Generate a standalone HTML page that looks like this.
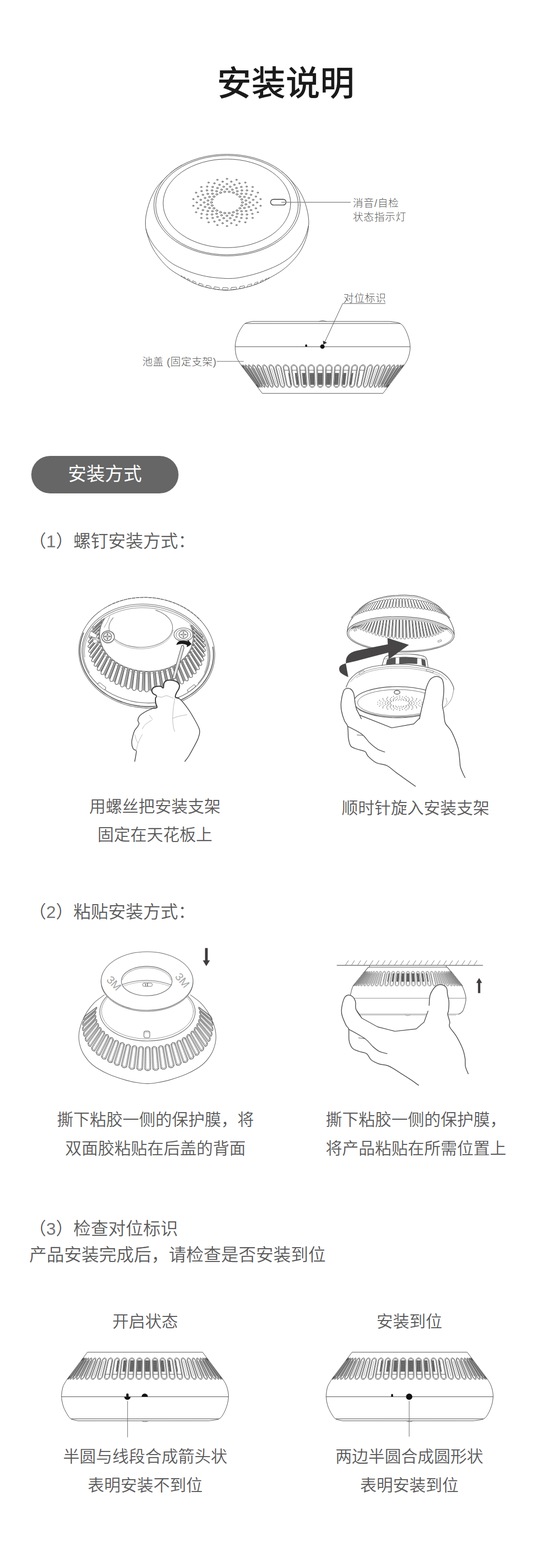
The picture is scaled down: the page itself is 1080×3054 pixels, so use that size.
<!DOCTYPE html>
<html lang="zh-CN">
<head>
<meta charset="utf-8">
<title>安装说明</title>
<style>
html,body{margin:0;padding:0;background:#fff;}
html{width:1080px;height:3054px;overflow:hidden;}
body{width:1080px;height:3054px;position:relative;overflow:hidden;font-family:"Liberation Sans", "Noto Sans CJK SC", sans-serif;}
.t{position:absolute;white-space:nowrap;margin:0;padding:0;}
.d{color:#757575;}
.pill{position:absolute;left:61px;top:888px;width:287px;height:73px;border-radius:37px;background:#666;color:#fff;
  font-size:36px;line-height:71px;text-align:center;font-weight:400;}
svg.art{position:absolute;left:0;top:0;width:1080px;height:3054px;pointer-events:none;}
svg.art *{vector-effect:none;}
</style>
</head>
<body>
<div class="pill">安装方式</div>
<div class="t" style="left:36px;width:1042px;text-align:center;top:129.3px;font-size:67px;line-height:67px;color:#1a1a1a;font-weight:500;">安装说明</div>
<div class="t" style="left:688px;top:386.2px;font-size:20px;line-height:20px;color:#595959;font-weight:300;letter-spacing:0.85px;">消音<span class="d">/</span>自检</div>
<div class="t" style="left:688px;top:413.4px;font-size:20px;line-height:20px;color:#595959;font-weight:300;letter-spacing:0.85px;">状态指示灯</div>
<div class="t" style="left:669.5px;top:571px;font-size:20px;line-height:20px;color:#595959;font-weight:300;letter-spacing:0.9px;">对位标识</div>
<div class="t" style="left:277.5px;top:694.8px;font-size:20px;line-height:20px;color:#595959;font-weight:300;letter-spacing:0.65px;">池盖 <span class="d">(</span>固定支架<span class="d">)</span></div>
<div class="t" style="left:56px;top:1037.3px;font-size:34px;line-height:34px;color:#5a5a5a;font-weight:350;">（<span class="d">1</span>）螺钉安装方式：</div>
<div class="t" style="left:2px;width:600px;text-align:center;top:1554.5px;font-size:32px;line-height:32px;color:#5a5a5a;font-weight:350;">用螺丝把安装支架</div>
<div class="t" style="left:2px;width:600px;text-align:center;top:1609.5px;font-size:32px;line-height:32px;color:#5a5a5a;font-weight:350;">固定在天花板上</div>
<div class="t" style="left:542px;width:536px;text-align:center;top:1557.5px;font-size:32px;line-height:32px;color:#5a5a5a;font-weight:350;">顺时针旋入安装支架</div>
<div class="t" style="left:56px;top:1759.3px;font-size:34px;line-height:34px;color:#5a5a5a;font-weight:350;">（<span class="d">2</span>）粘贴安装方式：</div>
<div class="t" style="left:2px;width:602px;text-align:center;top:2165.3px;font-size:32px;line-height:32px;color:#5a5a5a;font-weight:350;">撕下粘胶一侧的保护膜，将</div>
<div class="t" style="left:2px;width:602px;text-align:center;top:2221.3px;font-size:32px;line-height:32px;color:#5a5a5a;font-weight:350;">双面胶粘贴在后盖的背面</div>
<div class="t" style="left:544px;width:534px;text-align:center;top:2165.3px;font-size:32px;line-height:32px;color:#5a5a5a;font-weight:350;">撕下粘胶一侧的保护膜，</div>
<div class="t" style="left:544px;width:534px;text-align:center;top:2221.3px;font-size:32px;line-height:32px;color:#5a5a5a;font-weight:350;">将产品粘贴在所需位置上</div>
<div class="t" style="left:56px;top:2375.6px;font-size:34px;line-height:34px;color:#5a5a5a;font-weight:350;">（<span class="d">3</span>）检查对位标识</div>
<div class="t" style="left:57px;top:2427px;font-size:34px;line-height:34px;color:#5a5a5a;font-weight:350;">产品安装完成后，请检查是否安装到位</div>
<div class="t" style="left:2px;width:562px;text-align:center;top:2557.5px;font-size:32px;line-height:32px;color:#5a5a5a;font-weight:350;">开启状态</div>
<div class="t" style="left:518px;width:560px;text-align:center;top:2557.5px;font-size:32px;line-height:32px;color:#5a5a5a;font-weight:350;">安装到位</div>
<div class="t" style="left:2px;width:562px;text-align:center;top:2820.5px;font-size:32px;line-height:32px;color:#5a5a5a;font-weight:350;">半圆与线段合成箭头状</div>
<div class="t" style="left:2px;width:562px;text-align:center;top:2876.5px;font-size:32px;line-height:32px;color:#5a5a5a;font-weight:350;">表明安装不到位</div>
<div class="t" style="left:518px;width:560px;text-align:center;top:2820.5px;font-size:32px;line-height:32px;color:#5a5a5a;font-weight:350;">两边半圆合成圆形状</div>
<div class="t" style="left:518px;width:560px;text-align:center;top:2876.5px;font-size:32px;line-height:32px;color:#5a5a5a;font-weight:350;">表明安装到位</div>
<svg class="art" viewBox="0 0 1080 3054" width="1080" height="3054" fill="none" stroke="#4d4d4d" stroke-width="1" stroke-linecap="round" stroke-linejoin="round">
<defs><pattern id="mesh" width="2.6" height="2.6" patternUnits="userSpaceOnUse"><rect width="2.6" height="2.6" fill="#4a4a4a" stroke="none"/><rect x="0.3" y="0.3" width="1.1" height="1.1" fill="#e8e8e8" stroke="none"/></pattern></defs>
<!-- ill1 -->
<ellipse cx="442.6" cy="399.5" rx="142.6" ry="99"/>
<ellipse cx="442.5" cy="399.5" rx="138.9" ry="96.7"/>
<ellipse cx="442.3" cy="396.1" rx="124.3" ry="86.3"/>
<path d="M354.8 321.5C351.8 323.4 344.1 327 336.6 333.3C329.2 339.5 316.6 351.6 310.1 359.2C303.6 366.8 301.1 372.3 297.7 378.9C294.3 385.5 291.9 392.2 289.8 398.7C287.7 405.2 286.1 411.9 285 418C283.9 424.1 283.4 429.3 283.5 435C283.6 440.7 283.8 444.6 285.8 452C287.8 459.4 291.5 470.9 295.7 479.4C299.9 487.9 305.3 495.7 311 503C316.7 510.3 323.5 517.5 330 523C336.5 528.5 343.2 532.1 349.8 536.2C356.4 540.3 362.9 544.1 369.5 547.4C376.1 550.7 382.7 553.7 389.3 556C395.9 558.3 402.4 559.8 409 561.2C415.6 562.6 422.6 563.8 428.8 564.5C435 565.2 439.8 565.6 446 565.3C452.2 565 459.6 563.8 466.3 562.6C473 561.4 479.5 559.9 486.1 558C492.7 556.1 499.3 554 505.9 551.2C512.5 548.4 519 544.8 525.6 541.2C532.2 537.6 539.7 533.4 545.4 529.6C551.1 525.8 554.9 523 560 518.4C565.1 513.8 571.3 507.7 576 502C580.7 496.3 584.6 491.1 588.3 484C592 476.9 596 467.3 598.2 459.6C600.4 451.9 601.2 443.9 601.7 438C602.2 432.1 601.8 429 601.3 424C600.8 419 599.9 413.9 598.4 408C596.9 402.1 595.1 395.3 592.3 388.8C589.5 382.3 586.4 375.7 581.8 369C577.2 362.3 570.1 354.3 564.8 348.5C559.6 342.8 552.7 336.9 550.2 334.6"/>
<path d="M284.6 446C285.4 448.3 286.4 454 289.5 460C292.6 466 296.2 473.8 303 482C309.8 490.2 321.1 502.2 330 509.2C338.9 516.1 347.5 519.6 356.3 523.7C365.1 527.8 373.9 531 382.7 533.6C391.5 536.2 400.2 538.1 409 539.5C417.8 540.9 428.6 541.6 435.4 542.1C442.2 542.6 444.9 542.6 450 542.4C455.1 542.2 459.2 542 466.3 540.8C473.4 539.5 483.9 537.3 492.7 534.9C501.5 532.5 510.2 529.7 519 526.3C527.8 522.9 537.2 519 545.4 514.5C553.6 509.9 561.2 505.1 568 499C574.8 492.9 581.2 485 586 478C590.8 471 594 463.3 596.5 457C599 450.7 600.4 442.8 601.2 440"/>
<g stroke-width="0.85" stroke="#5a5a5a"><rect x="-1.4" y="-0.4" width="2.8" height="0.9" rx="0.4" transform="translate(354.4 538.3) rotate(30.5) skewX(19.3)"/>
<rect x="-2.2" y="-0.8" width="4.3" height="1.5" rx="0.8" transform="translate(359.7 541) rotate(29.1) skewX(17.5)"/>
<rect x="-3" y="-1.1" width="6.1" height="2.2" rx="1.1" transform="translate(367.8 544.9) rotate(26.8) skewX(14.6)"/>
<rect x="-3.9" y="-1.4" width="7.8" height="2.9" rx="1.4" transform="translate(378.6 549.7) rotate(23.5) skewX(10.9)"/>
<rect x="-4.6" y="-1.7" width="9.2" height="3.4" rx="1.6" transform="translate(391.6 554.5) rotate(19.1) skewX(6.4)"/>
<rect x="-5.2" y="-1.9" width="10.4" height="3.9" rx="1.6" transform="translate(406.4 558.6) rotate(13.6) skewX(1.3)"/>
<rect x="-5.6" y="-2.1" width="11.1" height="4.1" rx="1.6" transform="translate(422.4 561.4) rotate(7.3) skewX(-4.3)"/>
<rect x="-5.7" y="-2.1" width="11.4" height="4.2" rx="1.6" transform="translate(439 562.5) rotate(0.6) skewX(-10)"/>
<rect x="-5.6" y="-2.1" width="11.1" height="4.1" rx="1.6" transform="translate(455.6 561.8) rotate(-5.9) skewX(-15.7)"/>
<rect x="-5.2" y="-1.9" width="10.4" height="3.9" rx="1.6" transform="translate(471.6 559.4) rotate(-11.8) skewX(-21.3)"/>
<rect x="-4.6" y="-1.7" width="9.2" height="3.4" rx="1.6" transform="translate(486.4 555.9) rotate(-16.7) skewX(-26.4)"/>
<rect x="-3.9" y="-1.4" width="7.8" height="2.9" rx="1.4" transform="translate(499.4 551.7) rotate(-20.8) skewX(-30.9)"/>
<rect x="-3" y="-1.1" width="6.1" height="2.2" rx="1.1" transform="translate(510.2 547.6) rotate(-24) skewX(-34.6)"/>
<rect x="-2.2" y="-0.8" width="4.3" height="1.5" rx="0.8" transform="translate(518.3 544.1) rotate(-26.4) skewX(-37.5)"/>
<rect x="-1.4" y="-0.4" width="2.8" height="0.9" rx="0.4" transform="translate(523.6 541.8) rotate(-27.9) skewX(-39.3)"/></g>
<g stroke="#555" stroke-width="0.9" fill="#d0d0d0"><ellipse cx="442.4" cy="348.3" rx="1.6" ry="1.2"/>
<ellipse cx="423.7" cy="350.2" rx="1.6" ry="1.2"/>
<ellipse cx="406.6" cy="355.6" rx="1.6" ry="1.2"/>
<ellipse cx="392.4" cy="364.2" rx="1.6" ry="1.2"/>
<ellipse cx="382.2" cy="375.2" rx="1.6" ry="1.2"/>
<ellipse cx="376.9" cy="387.8" rx="1.6" ry="1.2"/>
<ellipse cx="376.9" cy="400.8" rx="1.6" ry="1.2"/>
<ellipse cx="382.2" cy="413.4" rx="1.6" ry="1.2"/>
<ellipse cx="392.4" cy="424.4" rx="1.6" ry="1.2"/>
<ellipse cx="406.6" cy="433" rx="1.6" ry="1.2"/>
<ellipse cx="423.7" cy="438.4" rx="1.6" ry="1.2"/>
<ellipse cx="442.4" cy="440.3" rx="1.6" ry="1.2"/>
<ellipse cx="461.1" cy="438.4" rx="1.6" ry="1.2"/>
<ellipse cx="478.2" cy="433" rx="1.6" ry="1.2"/>
<ellipse cx="492.4" cy="424.4" rx="1.6" ry="1.2"/>
<ellipse cx="502.6" cy="413.4" rx="1.6" ry="1.2"/>
<ellipse cx="507.9" cy="400.8" rx="1.6" ry="1.2"/>
<ellipse cx="507.9" cy="387.8" rx="1.6" ry="1.2"/>
<ellipse cx="502.6" cy="375.2" rx="1.6" ry="1.2"/>
<ellipse cx="492.4" cy="364.2" rx="1.6" ry="1.2"/>
<ellipse cx="478.2" cy="355.6" rx="1.6" ry="1.2"/>
<ellipse cx="461.1" cy="350.2" rx="1.6" ry="1.2"/>
<ellipse cx="434" cy="353.8" rx="1.7" ry="1.3"/>
<ellipse cx="418" cy="357.1" rx="1.7" ry="1.3"/>
<ellipse cx="403.9" cy="363.4" rx="1.7" ry="1.3"/>
<ellipse cx="392.9" cy="372.2" rx="1.7" ry="1.3"/>
<ellipse cx="386" cy="382.8" rx="1.7" ry="1.3"/>
<ellipse cx="383.6" cy="394.3" rx="1.7" ry="1.3"/>
<ellipse cx="386" cy="405.8" rx="1.7" ry="1.3"/>
<ellipse cx="392.9" cy="416.4" rx="1.7" ry="1.3"/>
<ellipse cx="403.9" cy="425.2" rx="1.7" ry="1.3"/>
<ellipse cx="418" cy="431.5" rx="1.7" ry="1.3"/>
<ellipse cx="434" cy="434.8" rx="1.7" ry="1.3"/>
<ellipse cx="450.8" cy="434.8" rx="1.7" ry="1.3"/>
<ellipse cx="466.8" cy="431.5" rx="1.7" ry="1.3"/>
<ellipse cx="480.9" cy="425.2" rx="1.7" ry="1.3"/>
<ellipse cx="491.9" cy="416.4" rx="1.7" ry="1.3"/>
<ellipse cx="498.8" cy="405.8" rx="1.7" ry="1.3"/>
<ellipse cx="501.2" cy="394.3" rx="1.7" ry="1.3"/>
<ellipse cx="498.8" cy="382.8" rx="1.7" ry="1.3"/>
<ellipse cx="491.9" cy="372.2" rx="1.7" ry="1.3"/>
<ellipse cx="480.9" cy="363.4" rx="1.7" ry="1.3"/>
<ellipse cx="466.8" cy="357.1" rx="1.7" ry="1.3"/>
<ellipse cx="450.8" cy="353.8" rx="1.7" ry="1.3"/>
<ellipse cx="442.4" cy="358.4" rx="1.8" ry="1.4"/>
<ellipse cx="427.9" cy="359.9" rx="1.8" ry="1.4"/>
<ellipse cx="414.5" cy="364.1" rx="1.8" ry="1.4"/>
<ellipse cx="403.4" cy="370.8" rx="1.8" ry="1.4"/>
<ellipse cx="395.5" cy="379.4" rx="1.8" ry="1.4"/>
<ellipse cx="391.3" cy="389.2" rx="1.8" ry="1.4"/>
<ellipse cx="391.3" cy="399.4" rx="1.8" ry="1.4"/>
<ellipse cx="395.5" cy="409.2" rx="1.8" ry="1.4"/>
<ellipse cx="403.4" cy="417.8" rx="1.8" ry="1.4"/>
<ellipse cx="414.5" cy="424.5" rx="1.8" ry="1.4"/>
<ellipse cx="427.9" cy="428.7" rx="1.8" ry="1.4"/>
<ellipse cx="442.4" cy="430.2" rx="1.8" ry="1.4"/>
<ellipse cx="456.9" cy="428.7" rx="1.8" ry="1.4"/>
<ellipse cx="470.3" cy="424.5" rx="1.8" ry="1.4"/>
<ellipse cx="481.4" cy="417.8" rx="1.8" ry="1.4"/>
<ellipse cx="489.3" cy="409.2" rx="1.8" ry="1.4"/>
<ellipse cx="493.5" cy="399.4" rx="1.8" ry="1.4"/>
<ellipse cx="493.5" cy="389.2" rx="1.8" ry="1.4"/>
<ellipse cx="489.3" cy="379.4" rx="1.8" ry="1.4"/>
<ellipse cx="481.4" cy="370.8" rx="1.8" ry="1.4"/>
<ellipse cx="470.3" cy="364.1" rx="1.8" ry="1.4"/>
<ellipse cx="456.9" cy="359.9" rx="1.8" ry="1.4"/>
<ellipse cx="436.1" cy="363.7" rx="1.9" ry="1.5"/>
<ellipse cx="423.9" cy="366.2" rx="1.9" ry="1.5"/>
<ellipse cx="413.3" cy="370.9" rx="1.9" ry="1.5"/>
<ellipse cx="405" cy="377.6" rx="1.9" ry="1.5"/>
<ellipse cx="399.7" cy="385.6" rx="1.9" ry="1.5"/>
<ellipse cx="397.9" cy="394.3" rx="1.9" ry="1.5"/>
<ellipse cx="399.7" cy="403" rx="1.9" ry="1.5"/>
<ellipse cx="405" cy="411" rx="1.9" ry="1.5"/>
<ellipse cx="413.3" cy="417.7" rx="1.9" ry="1.5"/>
<ellipse cx="423.9" cy="422.4" rx="1.9" ry="1.5"/>
<ellipse cx="436.1" cy="424.9" rx="1.9" ry="1.5"/>
<ellipse cx="448.7" cy="424.9" rx="1.9" ry="1.5"/>
<ellipse cx="460.9" cy="422.4" rx="1.9" ry="1.5"/>
<ellipse cx="471.5" cy="417.7" rx="1.9" ry="1.5"/>
<ellipse cx="479.8" cy="411" rx="1.9" ry="1.5"/>
<ellipse cx="485.1" cy="403" rx="1.9" ry="1.5"/>
<ellipse cx="486.9" cy="394.3" rx="1.9" ry="1.5"/>
<ellipse cx="485.1" cy="385.6" rx="1.9" ry="1.5"/>
<ellipse cx="479.8" cy="377.6" rx="1.9" ry="1.5"/>
<ellipse cx="471.5" cy="370.9" rx="1.9" ry="1.5"/>
<ellipse cx="460.9" cy="366.2" rx="1.9" ry="1.5"/>
<ellipse cx="448.7" cy="363.7" rx="1.9" ry="1.5"/>
<ellipse cx="442.4" cy="368.3" rx="2" ry="1.5"/>
<ellipse cx="431.9" cy="369.4" rx="2" ry="1.5"/>
<ellipse cx="422.2" cy="372.4" rx="2" ry="1.5"/>
<ellipse cx="414.1" cy="377.3" rx="2" ry="1.5"/>
<ellipse cx="408.4" cy="383.5" rx="2" ry="1.5"/>
<ellipse cx="405.4" cy="390.6" rx="2" ry="1.5"/>
<ellipse cx="405.4" cy="398" rx="2" ry="1.5"/>
<ellipse cx="408.4" cy="405.1" rx="2" ry="1.5"/>
<ellipse cx="414.1" cy="411.3" rx="2" ry="1.5"/>
<ellipse cx="422.2" cy="416.2" rx="2" ry="1.5"/>
<ellipse cx="431.9" cy="419.2" rx="2" ry="1.5"/>
<ellipse cx="442.4" cy="420.3" rx="2" ry="1.5"/>
<ellipse cx="452.9" cy="419.2" rx="2" ry="1.5"/>
<ellipse cx="462.6" cy="416.2" rx="2" ry="1.5"/>
<ellipse cx="470.7" cy="411.3" rx="2" ry="1.5"/>
<ellipse cx="476.4" cy="405.1" rx="2" ry="1.5"/>
<ellipse cx="479.4" cy="398" rx="2" ry="1.5"/>
<ellipse cx="479.4" cy="390.6" rx="2" ry="1.5"/>
<ellipse cx="476.4" cy="383.5" rx="2" ry="1.5"/>
<ellipse cx="470.7" cy="377.3" rx="2" ry="1.5"/>
<ellipse cx="462.6" cy="372.4" rx="2" ry="1.5"/>
<ellipse cx="452.9" cy="369.4" rx="2" ry="1.5"/>
<ellipse cx="438.1" cy="373.6" rx="2.2" ry="1.6"/>
<ellipse cx="429.9" cy="375.3" rx="2.2" ry="1.6"/>
<ellipse cx="422.7" cy="378.5" rx="2.2" ry="1.6"/>
<ellipse cx="417.1" cy="383" rx="2.2" ry="1.6"/>
<ellipse cx="413.5" cy="388.4" rx="2.2" ry="1.6"/>
<ellipse cx="412.3" cy="394.3" rx="2.2" ry="1.6"/>
<ellipse cx="413.5" cy="400.2" rx="2.2" ry="1.6"/>
<ellipse cx="417.1" cy="405.6" rx="2.2" ry="1.6"/>
<ellipse cx="422.7" cy="410.1" rx="2.2" ry="1.6"/>
<ellipse cx="429.9" cy="413.3" rx="2.2" ry="1.6"/>
<ellipse cx="438.1" cy="415" rx="2.2" ry="1.6"/>
<ellipse cx="446.7" cy="415" rx="2.2" ry="1.6"/>
<ellipse cx="454.9" cy="413.3" rx="2.2" ry="1.6"/>
<ellipse cx="462.1" cy="410.1" rx="2.2" ry="1.6"/>
<ellipse cx="467.7" cy="405.6" rx="2.2" ry="1.6"/>
<ellipse cx="471.3" cy="400.2" rx="2.2" ry="1.6"/>
<ellipse cx="472.5" cy="394.3" rx="2.2" ry="1.6"/>
<ellipse cx="471.3" cy="388.4" rx="2.2" ry="1.6"/>
<ellipse cx="467.7" cy="383" rx="2.2" ry="1.6"/>
<ellipse cx="462.1" cy="378.5" rx="2.2" ry="1.6"/>
<ellipse cx="454.9" cy="375.3" rx="2.2" ry="1.6"/>
<ellipse cx="446.7" cy="373.6" rx="2.2" ry="1.6"/></g>
<rect x="527.5" y="388.2" width="30.2" height="11.2" rx="5.6" ry="5.6" stroke="#333" stroke-width="1.4"/>
<line x1="549" y1="394" x2="683" y2="394" stroke="#8c8c8c" stroke-width="1.4"/>
<!-- ill2 -->
<path d="M491.5 626.2C489.2 626.9 481.3 627.8 477.7 630.1C474.1 632.4 472.3 635.9 469.8 639.8C467.3 643.7 464.6 648.7 462.8 653.6C461 658.5 459.5 664.5 458.9 669.4C458.2 674.3 458.4 678.6 458.9 683.2C459.4 687.8 460.1 692.5 461.9 697.1C463.7 701.7 468.5 708.6 469.8 710.9L511.3 766.2L746.6 766.2L788.1 710.9C789.1 709.2 792.4 704.6 794 701C795.6 697.4 797.1 693.5 798 689.2C798.9 684.9 799.7 680.2 799.5 675.3C799.3 670.3 798.6 665.1 797 659.5C795.4 653.9 792.8 646.6 790 641.7C787.2 636.8 785.1 632.7 780.2 630.1C775.3 627.5 763.7 626.9 760.4 626.2Z"/>
<line x1="477.7" y1="630.1" x2="780.2" y2="630.1"/>
<line x1="458.6" y1="675.3" x2="799.5" y2="675.3"/>
<path d="M621.6 626.2Q629 622.6 636.4 626.2" stroke="#777"/>
<g fill="url(#mesh)" stroke="none"><path d="M561.8 726.4L563.8 726.4L567.6 749.5L565.8 749.5Z"/>
<path d="M574.7 726.4L579.3 726.4L582.1 749.5L577.8 749.5Z"/>
<path d="M588.7 726.4L595.5 726.4L597.3 749.5L590.9 749.5Z"/>
<path d="M603.5 726.4L612.1 726.4L613.1 749.5L604.9 749.5Z"/>
<path d="M619.3 726.4L629 726.4L629 749.5L619.8 749.5Z"/>
<path d="M636.1 726.4L645.4 726.4L644.5 749.5L635.7 749.5Z"/>
<path d="M652.8 726.4L660.8 726.4L659.1 749.5L651.5 749.5Z"/>
<path d="M669.3 726.4L675.3 726.4L672.7 749.5L667.1 749.5Z"/>
<path d="M685.3 726.4L688.8 726.4L685.3 749.5L682 749.5Z"/>
<path d="M700.4 726.4L701.4 726.4L697 749.5L696.1 749.5Z"/></g>
<g stroke-width="0.9"><path d="M475.2 717L473.7 715L472.4 713.1L471.5 711.7L470.9 710.7L470.9 710.4L471.4 710.7L472.3 711.7L473.5 713.1L475 715L476.5 717L499 748.2L500.5 750.2L501.8 752.1L502.7 753.5L503.3 754.5L503.4 754.8L503.1 754.5L502.3 753.5L501.2 752.1L499.8 750.2L498.3 748.2Z"/>
<path d="M475.3 717L474.2 715.5L473.3 714.1L472.5 713L472.2 712.3L472.1 712.1L472.5 712.3L473.1 713L474.1 714.1L475.1 715.5L476.3 717L498.9 748.2L500 749.7L500.9 751.1L501.7 752.2L502.1 752.9L502.2 753.1L501.9 752.9L501.3 752.2L500.5 751.1L499.5 749.7L498.3 748.2Z"/>
<path d="M477.1 717L475.7 715L474.6 713.1L473.8 711.7L473.5 710.7L473.7 710.4L474.4 710.7L475.4 711.7L476.8 713.1L478.3 715L479.7 717L501.1 748.2L502.4 750.2L503.5 752.1L504.4 753.5L504.8 754.5L504.8 754.8L504.4 754.5L503.5 753.5L502.3 752.1L500.9 750.2L499.4 748.2Z"/>
<path d="M477.4 717L476.4 715.5L475.5 714.1L475 713L474.7 712.3L474.9 712.1L475.4 712.3L476.2 713L477.2 714.1L478.3 715.5L479.4 717L500.8 748.2L501.8 749.7L502.7 751.1L503.3 752.2L503.6 752.9L503.6 753.1L503.3 752.9L502.6 752.2L501.8 751.1L500.7 749.7L499.6 748.2Z"/>
<path d="M480.8 717L479.5 715L478.6 713.1L478 711.7L478 710.7L478.4 710.4L479.3 710.7L480.5 711.7L481.9 713.1L483.4 715L484.8 717L504.3 748.2L505.5 750.2L506.5 752.1L507.1 753.5L507.4 754.5L507.2 754.8L506.7 754.5L505.8 753.5L504.6 752.1L503.2 750.2L501.8 748.2Z"/>
<path d="M481.3 717L480.3 715.5L479.6 714.1L479.2 713L479.2 712.3L479.5 712.1L480.1 712.3L481 713L482.1 714.1L483.2 715.5L484.2 717L503.9 748.2L504.8 749.7L505.6 751.1L506.1 752.2L506.2 752.9L506.1 753.1L505.7 752.9L505 752.2L504.1 751.1L503.1 749.7L502 748.2Z"/>
<path d="M486.3 717L485.1 715L484.4 713.1L484.1 711.7L484.2 710.7L484.9 710.4L486 710.7L487.3 711.7L488.8 713.1L490.2 715L491.5 717L508.9 748.2L509.9 750.2L510.7 752.1L511.1 753.5L511.2 754.5L510.9 754.8L510.2 754.5L509.2 753.5L508 752.1L506.6 750.2L505.3 748.2Z"/>
<path d="M486.9 717L486.1 715.5L485.5 714.1L485.3 713L485.4 712.3L485.9 712.1L486.7 712.3L487.6 713L488.7 714.1L489.8 715.5L490.8 717L508.4 748.2L509.2 749.7L509.8 751.1L510.1 752.2L510.1 752.9L509.9 753.1L509.4 752.9L508.6 752.2L507.7 751.1L506.7 749.7L505.7 748.2Z"/>
<path d="M493.4 717L492.5 715L491.9 713.1L491.9 711.7L492.3 710.7L493.2 710.4L494.4 710.7L495.8 711.7L497.3 713.1L498.7 715L499.9 717L515 748.2L515.8 750.2L516.4 752.1L516.6 753.5L516.4 754.5L515.9 754.8L515.1 754.5L514 753.5L512.7 752.1L511.5 750.2L510.3 748.2Z"/>
<path d="M494.2 717L493.5 715.5L493.1 714.1L493.1 713L493.4 712.3L494 712.1L494.9 712.3L496 713L497.1 714.1L498.1 715.5L499 717L514.3 748.2L515 749.7L515.4 751.1L515.5 752.2L515.4 752.9L515 753.1L514.4 752.9L513.6 752.2L512.7 751.1L511.7 749.7L510.8 748.2Z"/>
<path d="M502.2 717L501.5 715L501.1 713.1L501.3 711.7L502 710.7L503.1 710.4L504.5 710.7L506 711.7L507.5 713.1L508.9 715L509.9 717L522.6 748.2L523.3 750.2L523.6 752.1L523.6 753.5L523.2 754.5L522.4 754.8L521.5 754.5L520.3 753.5L519 752.1L517.8 750.2L516.7 748.2Z"/>
<path d="M503.2 717L502.6 715.5L502.4 714.1L502.5 713L503 712.3L503.8 712.1L504.8 712.3L506 713L507.1 714.1L508.1 715.5L508.9 717L521.8 748.2L522.3 749.7L522.6 751.1L522.6 752.2L522.2 752.9L521.7 753.1L521 752.9L520.1 752.2L519.1 751.1L518.2 749.7L517.4 748.2Z"/>
<path d="M512.6 717L512 715L511.9 713.1L512.3 711.7L513.2 710.7L514.5 710.4L516.1 710.7L517.7 711.7L519.2 713.1L520.5 715L521.4 717L531.9 748.2L532.4 750.2L532.5 752.1L532.2 753.5L531.6 754.5L530.6 754.8L529.5 754.5L528.2 753.5L526.9 752.1L525.7 750.2L524.8 748.2Z"/>
<path d="M513.7 717L513.3 715.5L513.2 714.1L513.5 713L514.2 712.3L515.1 712.1L516.3 712.3L517.5 713L518.6 714.1L519.6 715.5L520.2 717L530.9 748.2L531.3 749.7L531.4 751.1L531.2 752.2L530.7 752.9L530 753.1L529.1 752.9L528.2 752.2L527.2 751.1L526.3 749.7L525.6 748.2Z"/>
<path d="M524.5 717L524.1 715L524.2 713.1L524.8 711.7L525.9 710.7L527.4 710.4L529 710.7L530.7 711.7L532.3 713.1L533.5 715L534.3 717L542.7 748.2L543.1 750.2L543 752.1L542.5 753.5L541.6 754.5L540.4 754.8L539.1 754.5L537.7 753.5L536.4 752.1L535.3 750.2L534.4 748.2Z"/>
<path d="M525.7 717L525.4 715.5L525.5 714.1L526 713L526.8 712.3L527.9 712.1L529.1 712.3L530.3 713L531.5 714.1L532.4 715.5L533 717L541.6 748.2L541.9 749.7L541.8 751.1L541.4 752.2L540.8 752.9L539.9 753.1L538.9 752.9L537.9 752.2L536.9 751.1L536.1 749.7L535.5 748.2Z"/>
<path d="M537.7 717L537.4 715L537.7 713.1L538.5 711.7L539.8 710.7L541.4 710.4L543.2 710.7L545 711.7L546.5 713.1L547.7 715L548.4 717L555.1 748.2L555.3 750.2L555 752.1L554.2 753.5L553.1 754.5L551.8 754.8L550.3 754.5L548.8 753.5L547.5 752.1L546.4 750.2L545.7 748.2Z"/>
<path d="M539 717L538.8 715.5L539.1 714.1L539.7 713L540.6 712.3L541.8 712.1L543.1 712.3L544.4 713L545.6 714.1L546.5 715.5L547 717L553.8 748.2L554 749.7L553.8 751.1L553.2 752.2L552.4 752.9L551.4 753.1L550.3 752.9L549.2 752.2L548.2 751.1L547.4 749.7L546.8 748.2Z"/>
<path d="M552.1 717L551.9 715L552.4 713.1L553.4 711.7L554.8 710.7L556.6 710.4L558.4 710.7L560.2 711.7L561.8 713.1L562.9 715L563.6 717L568.6 748.2L568.7 750.2L568.3 752.1L567.4 753.5L566.1 754.5L564.6 754.8L563 754.5L561.4 753.5L560 752.1L559 750.2L558.3 748.2Z"/>
<path d="M553.5 717L553.4 715.5L553.8 714.1L554.5 713L555.6 712.3L556.9 712.1L558.3 712.3L559.6 713L560.7 714.1L561.6 715.5L562.1 717L567.3 748.2L567.3 749.7L567 751.1L566.3 752.2L565.4 752.9L564.3 753.1L563.1 752.9L561.9 752.2L560.9 751.1L560.1 749.7L559.6 748.2Z"/>
<line x1="554.3" y1="721.1" x2="562.7" y2="721.1"/>
<path d="M567.4 717L567.4 715L568 713.1L569.1 711.7L570.7 710.7L572.6 710.4L574.5 710.7L576.4 711.7L577.9 713.1L579 715L579.6 717L583.2 748.2L583.2 750.2L582.6 752.1L581.6 753.5L580.2 754.5L578.5 754.8L576.8 754.5L575.2 753.5L573.8 752.1L572.7 750.2L572.2 748.2Z"/>
<path d="M569 717L569 715.5L569.4 714.1L570.3 713L571.4 712.3L572.8 712.1L574.2 712.3L575.6 713L576.8 714.1L577.6 715.5L578 717L581.8 748.2L581.8 749.7L581.3 751.1L580.6 752.2L579.5 752.9L578.3 753.1L577 752.9L575.8 752.2L574.7 751.1L574 749.7L573.6 748.2Z"/>
<line x1="569.6" y1="721.1" x2="578.5" y2="721.1"/>
<path d="M583.6 717L583.7 715L584.4 713.1L585.6 711.7L587.3 710.7L589.3 710.4L591.3 710.7L593.1 711.7L594.7 713.1L595.7 715L596.2 717L598.6 748.2L598.4 750.2L597.8 752.1L596.6 753.5L595.1 754.5L593.3 754.8L591.5 754.5L589.9 753.5L588.5 752.1L587.5 750.2L587 748.2Z"/>
<path d="M585.2 717L585.3 715.5L585.8 714.1L586.7 713L588 712.3L589.4 712.1L590.9 712.3L592.3 713L593.4 714.1L594.2 715.5L594.6 717L597.1 748.2L597 749.7L596.5 751.1L595.6 752.2L594.5 752.9L593.2 753.1L591.8 752.9L590.6 752.2L589.5 751.1L588.8 749.7L588.4 748.2Z"/>
<line x1="585.6" y1="721.1" x2="594.9" y2="721.1"/>
<path d="M600.4 717L600.5 715L601.3 713.1L602.7 711.7L604.4 710.7L606.4 710.4L608.5 710.7L610.3 711.7L611.8 713.1L612.8 715L613.2 717L614.4 748.2L614.1 750.2L613.4 752.1L612.1 753.5L610.5 754.5L608.7 754.8L606.9 754.5L605.2 753.5L603.8 752.1L602.9 750.2L602.4 748.2Z"/>
<path d="M602 717L602.2 715.5L602.8 714.1L603.7 713L605.1 712.3L606.5 712.1L608 712.3L609.4 713L610.5 714.1L611.3 715.5L611.6 717L612.8 748.2L612.7 749.7L612.1 751.1L611.2 752.2L610 752.9L608.6 753.1L607.3 752.9L606 752.2L605 751.1L604.3 749.7L604 748.2Z"/>
<line x1="602.3" y1="721.1" x2="611.7" y2="721.1"/>
<path d="M617.5 717L617.7 715L618.6 713.1L620 711.7L621.9 710.7L623.9 710.4L625.9 710.7L627.8 711.7L629.2 713.1L630.2 715L630.5 717L630.4 748.2L630.1 750.2L629.2 752.1L627.9 753.5L626.2 754.5L624.4 754.8L622.6 754.5L620.9 753.5L619.5 752.1L618.7 750.2L618.3 748.2Z"/>
<path d="M619.2 717L619.4 715.5L620 714.1L621.1 713L622.4 712.3L623.9 712.1L625.4 712.3L626.8 713L627.9 714.1L628.6 715.5L628.8 717L628.8 748.2L628.6 749.7L628 751.1L627 752.2L625.8 752.9L624.4 753.1L623 752.9L621.8 752.2L620.8 751.1L620.1 749.7L619.9 748.2Z"/>
<line x1="619.2" y1="721.1" x2="628.8" y2="721.1"/>
<path d="M634.7 717L635.1 715L636 713.1L637.5 711.7L639.4 710.7L641.4 710.4L643.4 710.7L645.2 711.7L646.6 713.1L647.5 715L647.7 717L646.3 748.2L646 750.2L645 752.1L643.7 753.5L642 754.5L640.2 754.8L638.3 754.5L636.7 753.5L635.4 752.1L634.6 750.2L634.3 748.2Z"/>
<path d="M636.4 717L636.7 715.5L637.4 714.1L638.5 713L639.9 712.3L641.4 712.1L642.9 712.3L644.2 713L645.2 714.1L645.9 715.5L646 717L644.8 748.2L644.5 749.7L643.8 751.1L642.8 752.2L641.6 752.9L640.2 753.1L638.8 752.9L637.6 752.2L636.7 751.1L636.1 749.7L635.9 748.2Z"/>
<line x1="636.3" y1="721.1" x2="645.9" y2="721.1"/>
<path d="M651.9 717L652.3 715L653.4 713.1L654.9 711.7L656.7 710.7L658.8 710.4L660.7 710.7L662.5 711.7L663.8 713.1L664.5 715L664.7 717L662.1 748.2L661.6 750.2L660.7 752.1L659.3 753.5L657.6 754.5L655.8 754.8L654 754.5L652.4 753.5L651.2 752.1L650.4 750.2L650.3 748.2Z"/>
<path d="M653.6 717L653.9 715.5L654.6 714.1L655.8 713L657.2 712.3L658.7 712.1L660.1 712.3L661.4 713L662.4 714.1L662.9 715.5L663 717L660.6 748.2L660.2 749.7L659.5 751.1L658.5 752.2L657.2 752.9L655.9 753.1L654.5 752.9L653.4 752.2L652.5 751.1L651.9 749.7L651.8 748.2Z"/>
<line x1="653.3" y1="721.1" x2="662.7" y2="721.1"/>
<path d="M668.8 717L669.3 715L670.4 713.1L671.9 711.7L673.8 710.7L675.8 710.4L677.7 710.7L679.3 711.7L680.5 713.1L681.2 715L681.2 717L677.3 748.2L676.8 750.2L675.8 752.1L674.4 753.5L672.7 754.5L670.9 754.8L669.2 754.5L667.8 753.5L666.6 752.1L666 750.2L665.9 748.2Z"/>
<path d="M670.4 717L670.8 715.5L671.6 714.1L672.7 713L674.1 712.3L675.6 712.1L677 712.3L678.2 713L679.1 714.1L679.6 715.5L679.6 717L675.9 748.2L675.5 749.7L674.7 751.1L673.7 752.2L672.4 752.9L671.1 753.1L669.9 752.9L668.8 752.2L667.9 751.1L667.5 749.7L667.4 748.2Z"/>
<line x1="670" y1="721.1" x2="679.1" y2="721.1"/>
<path d="M685.2 717L685.8 715L686.9 713.1L688.4 711.7L690.3 710.7L692.2 710.4L694 710.7L695.5 711.7L696.6 713.1L697.1 715L697.1 717L691.8 748.2L691.2 750.2L690.1 752.1L688.7 753.5L687.1 754.5L685.4 754.8L683.8 754.5L682.5 753.5L681.5 752.1L681 750.2L681 748.2Z"/>
<path d="M686.8 717L687.2 715.5L688 714.1L689.2 713L690.5 712.3L691.9 712.1L693.3 712.3L694.4 713L695.2 714.1L695.6 715.5L695.6 717L690.4 748.2L690 749.7L689.2 751.1L688.1 752.2L686.9 752.9L685.7 753.1L684.5 752.9L683.5 752.2L682.8 751.1L682.4 749.7L682.4 748.2Z"/>
<line x1="686.2" y1="721.1" x2="694.9" y2="721.1"/>
<path d="M700.9 717L701.5 715L702.7 713.1L704.2 711.7L706 710.7L707.9 710.4L709.6 710.7L710.9 711.7L711.9 713.1L712.3 715L712.1 717L705.1 748.2L704.5 750.2L703.4 752.1L702 753.5L700.5 754.5L698.9 754.8L697.5 754.5L696.3 753.5L695.4 752.1L695 750.2L695.2 748.2Z"/>
<path d="M702.3 717L702.8 715.5L703.7 714.1L704.9 713L706.2 712.3L707.5 712.1L708.8 712.3L709.8 713L710.5 714.1L710.8 715.5L710.7 717L703.9 748.2L703.4 749.7L702.6 751.1L701.6 752.2L700.4 752.9L699.3 753.1L698.2 752.9L697.3 752.2L696.7 751.1L696.4 749.7L696.5 748.2Z"/>
<line x1="701.6" y1="721.1" x2="709.8" y2="721.1"/>
<path d="M715.6 717L716.4 715L717.6 713.1L719.1 711.7L720.8 710.7L722.6 710.4L724.1 710.7L725.3 711.7L726.1 713.1L726.3 715L726 717L717.2 748.2L716.4 750.2L715.3 752.1L714 753.5L712.5 754.5L711.1 754.8L709.9 754.5L708.9 753.5L708.2 752.1L708 750.2L708.2 748.2Z"/>
<path d="M717 717L717.5 715.5L718.4 714.1L719.6 713L720.9 712.3L722.1 712.1L723.3 712.3L724.2 713L724.7 714.1L724.9 715.5L724.7 717L716.1 748.2L715.5 749.7L714.7 751.1L713.7 752.2L712.6 752.9L711.6 753.1L710.6 752.9L709.9 752.2L709.4 751.1L709.2 749.7L709.4 748.2Z"/>
<path d="M729.2 717L730.1 715L731.3 713.1L732.9 711.7L734.5 710.7L736.2 710.4L737.5 710.7L738.6 711.7L739.1 713.1L739.1 715L738.6 717L727.8 748.2L726.9 750.2L725.8 752.1L724.5 753.5L723.1 754.5L721.9 754.8L720.8 754.5L720 753.5L719.6 752.1L719.6 750.2L720 748.2Z"/>
<path d="M730.5 717L731.1 715.5L732.1 714.1L733.2 713L734.4 712.3L735.6 712.1L736.6 712.3L737.4 713L737.8 714.1L737.8 715.5L737.5 717L726.8 748.2L726.2 749.7L725.3 751.1L724.4 752.2L723.4 752.9L722.4 753.1L721.6 752.9L721 752.2L720.7 751.1L720.7 749.7L721 748.2Z"/>
<path d="M741.6 717L742.5 715L743.8 713.1L745.4 711.7L746.9 710.7L748.4 710.4L749.6 710.7L750.4 711.7L750.8 713.1L750.6 715L749.9 717L736.8 748.2L735.8 750.2L734.6 752.1L733.3 753.5L732.1 754.5L731 754.8L730.1 754.5L729.6 753.5L729.4 752.1L729.6 750.2L730.2 748.2Z"/>
<path d="M742.7 717L743.4 715.5L744.4 714.1L745.5 713L746.7 712.3L747.8 712.1L748.6 712.3L749.2 713L749.5 714.1L749.4 715.5L748.9 717L736 748.2L735.2 749.7L734.4 751.1L733.4 752.2L732.5 752.9L731.7 753.1L731 752.9L730.6 752.2L730.5 751.1L730.6 749.7L731.1 748.2Z"/>
<path d="M752.5 717L753.5 715L754.9 713.1L756.4 711.7L757.9 710.7L759.3 710.4L760.3 710.7L760.8 711.7L760.9 713.1L760.5 715L759.6 717L744.2 748.2L743 750.2L741.8 752.1L740.5 753.5L739.4 754.5L738.5 754.8L737.8 754.5L737.5 753.5L737.6 752.1L738 750.2L738.8 748.2Z"/>
<path d="M753.4 717L754.2 715.5L755.3 714.1L756.4 713L757.5 712.3L758.5 712.1L759.2 712.3L759.6 713L759.7 714.1L759.4 715.5L758.8 717L743.5 748.2L742.7 749.7L741.8 751.1L740.8 752.2L740 752.9L739.3 753.1L738.8 752.9L738.6 752.2L738.6 751.1L738.9 749.7L739.5 748.2Z"/>
<path d="M761.8 717L763 715L764.4 713.1L765.9 711.7L767.3 710.7L768.5 710.4L769.3 710.7L769.6 711.7L769.4 713.1L768.8 715L767.8 717L750 748.2L748.7 750.2L747.4 752.1L746.2 753.5L745.2 754.5L744.4 754.8L743.9 754.5L743.9 753.5L744.2 752.1L744.8 750.2L745.7 748.2Z"/>
<path d="M762.6 717L763.5 715.5L764.6 714.1L765.7 713L766.7 712.3L767.6 712.1L768.1 712.3L768.4 713L768.3 714.1L767.8 715.5L767.1 717L749.5 748.2L748.6 749.7L747.6 751.1L746.7 752.2L745.9 752.9L745.3 753.1L745 752.9L744.9 752.2L745.1 751.1L745.6 749.7L746.3 748.2Z"/>
<path d="M769.5 717L770.9 715L772.3 713.1L773.8 711.7L775.1 710.7L776 710.4L776.6 710.7L776.7 711.7L776.3 713.1L775.4 715L774.2 717L754.3 748.2L753 750.2L751.6 752.1L750.4 753.5L749.4 754.5L748.8 754.8L748.6 754.5L748.7 753.5L749.2 752.1L750.1 750.2L751.2 748.2Z"/>
<path d="M770.2 717L771.2 715.5L772.3 714.1L773.3 713L774.3 712.3L775 712.1L775.4 712.3L775.5 713L775.2 714.1L774.5 715.5L773.7 717L754 748.2L753 749.7L752 751.1L751.1 752.2L750.3 752.9L749.9 753.1L749.7 752.9L749.8 752.2L750.2 751.1L750.8 749.7L751.6 748.2Z"/>
<path d="M775.5 717L777 715L778.5 713.1L779.9 711.7L781 710.7L781.8 710.4L782.1 710.7L782 711.7L781.3 713.1L780.3 715L778.9 717L757.4 748.2L755.9 750.2L754.5 752.1L753.3 753.5L752.4 754.5L751.9 754.8L751.8 754.5L752.2 753.5L752.9 752.1L753.9 750.2L755.2 748.2Z"/>
<path d="M776 717L777.1 715.5L778.2 714.1L779.2 713L780.1 712.3L780.7 712.1L780.9 712.3L780.8 713L780.3 714.1L779.5 715.5L778.6 717L757.1 748.2L756 749.7L755 751.1L754.1 752.2L753.5 752.9L753.1 753.1L753 752.9L753.2 752.2L753.8 751.1L754.6 749.7L755.5 748.2Z"/>
<path d="M779.8 717L781.3 715L782.8 713.1L784.1 711.7L785.1 710.7L785.7 710.4L785.8 710.7L785.4 711.7L784.6 713.1L783.3 715L781.9 717L759.2 748.2L757.7 750.2L756.3 752.1L755.1 753.5L754.3 754.5L753.9 754.8L754 754.5L754.4 753.5L755.3 752.1L756.5 750.2L757.9 748.2Z"/>
<path d="M780.1 717L781.3 715.5L782.4 714.1L783.3 713L784.1 712.3L784.5 712.1L784.6 712.3L784.3 713L783.6 714.1L782.7 715.5L781.7 717L759.1 748.2L757.9 749.7L756.9 751.1L756 752.2L755.4 752.9L755.1 753.1L755.2 752.9L755.5 752.2L756.2 751.1L757.1 749.7L758.1 748.2Z"/>
<path d="M782.3 717L783.9 715L785.3 713.1L786.5 711.7L787.3 710.7L787.7 710.4L787.6 710.7L787 711.7L785.9 713.1L784.6 715L783.1 717L759.9 748.2L758.4 750.2L757 752.1L755.9 753.5L755.2 754.5L754.9 754.8L755 754.5L755.7 753.5L756.7 752.1L758 750.2L759.5 748.2Z"/>
<path d="M782.5 717L783.6 715.5L784.7 714.1L785.6 713L786.2 712.3L786.5 712.1L786.4 712.3L785.9 713L785.1 714.1L784.2 715.5L783 717L759.9 748.2L758.7 749.7L757.7 751.1L756.9 752.2L756.3 752.9L756.1 753.1L756.3 752.9L756.7 752.2L757.5 751.1L758.4 749.7L759.5 748.2Z"/></g>
<g stroke="#8a8a8a" stroke-width="0.9"><line x1="475.9" y1="717.5" x2="498.7" y2="748.6"/>
<line x1="476.3" y1="717.5" x2="499" y2="748.6"/>
<line x1="478.2" y1="717.5" x2="500.2" y2="748.6"/>
<line x1="479.1" y1="717.5" x2="500.7" y2="748.6"/>
<line x1="482.3" y1="717.5" x2="502.8" y2="748.6"/>
<line x1="483.7" y1="717.5" x2="503.6" y2="748.6"/>
<line x1="488.2" y1="717.5" x2="506.6" y2="748.6"/>
<line x1="490" y1="717.5" x2="507.9" y2="748.6"/>
<line x1="495.7" y1="717.5" x2="511.9" y2="748.6"/>
<line x1="497.9" y1="717.5" x2="513.5" y2="748.6"/>
<line x1="504.9" y1="717.5" x2="518.7" y2="748.6"/>
<line x1="507.5" y1="717.5" x2="520.8" y2="748.6"/>
<line x1="517.1" y1="717.5" x2="528.4" y2="748.6"/>
<line x1="529.4" y1="717.5" x2="538.6" y2="748.6"/>
<line x1="543.1" y1="717.5" x2="550.4" y2="748.6"/>
<line x1="720.8" y1="717.5" x2="712.7" y2="748.6"/>
<line x1="733.9" y1="717.5" x2="723.9" y2="748.6"/>
<line x1="745.6" y1="717.5" x2="733.4" y2="748.6"/>
<line x1="754.7" y1="717.5" x2="740.4" y2="748.6"/>
<line x1="757.2" y1="717.5" x2="742.3" y2="748.6"/>
<line x1="763.6" y1="717.5" x2="747" y2="748.6"/>
<line x1="765.7" y1="717.5" x2="748.5" y2="748.6"/>
<line x1="770.9" y1="717.5" x2="752.1" y2="748.6"/>
<line x1="772.5" y1="717.5" x2="753.2" y2="748.6"/>
<line x1="776.4" y1="717.5" x2="755.7" y2="748.6"/>
<line x1="777.6" y1="717.5" x2="756.5" y2="748.6"/>
<line x1="780.2" y1="717.5" x2="758.1" y2="748.6"/>
<line x1="781" y1="717.5" x2="758.6" y2="748.6"/>
<line x1="782.3" y1="717.5" x2="759.4" y2="748.6"/>
<line x1="782.6" y1="717.5" x2="759.5" y2="748.6"/></g>
<circle cx="628.5" cy="675" r="4.3" fill="#111" stroke="none"/>
<path d="M595 675.3V672.7a1.9 1.9 0 0 1 3.8 0V675.3Z" fill="#111" stroke="none"/>
<path d="M751 591.2H668L632.8 667" stroke="#555"/>
<path d="M630.4 671.2L629.6 663.6L637.4 667.4Z" fill="#333" stroke="none"/>
<line x1="422.8" y1="703.9" x2="474.7" y2="703.9" stroke="#666"/>
<!-- ill3 -->
<path d="M212 1179.7C213 1179.3 215.7 1177.8 217.6 1177C219.5 1176.1 221.5 1175.3 223.4 1174.5C225.4 1173.7 227.3 1172.9 229.3 1172.2C231.3 1171.5 233.3 1170.9 235.4 1170.2C237.4 1169.6 239.5 1169 241.6 1168.5C243.7 1167.9 245.8 1167.4 247.9 1167C250 1166.5 252.1 1166.1 254.3 1165.8C256.4 1165.4 258.6 1165.1 260.8 1164.8C262.9 1164.5 265.1 1164.3 267.3 1164.1C269.5 1163.9 271.7 1163.8 273.9 1163.7C276.1 1163.6 278.3 1163.5 280.5 1163.5C282.7 1163.5 284.9 1163.5 287.2 1163.6C289.4 1163.7 291.6 1163.8 293.8 1164C296 1164.1 298.2 1164.4 300.4 1164.6C302.6 1164.9 304.8 1165.2 307 1165.5C309.2 1165.9 311.3 1166.3 313.5 1166.7C315.7 1167.1 317.8 1167.6 320 1168.1C322.1 1168.7 324.2 1169.2 326.3 1169.8C328.4 1170.4 330.5 1171.1 332.6 1171.8C334.7 1172.5 336.7 1173.2 338.7 1174C340.8 1174.8 342.8 1175.6 344.8 1176.4C346.8 1177.3 348.7 1178.2 350.6 1179.1C352.6 1180 354.5 1181 356.4 1182C358.2 1183 360.1 1184.1 361.9 1185.2C363.7 1186.2 365.5 1187.4 367.2 1188.5C369 1189.7 370.7 1190.8 372.4 1192.1C374.1 1193.3 375.7 1194.5 377.3 1195.8C378.9 1197.1 380.5 1198.4 382 1199.8C383.5 1201.1 385 1202.5 386.5 1203.9C387.9 1205.3 390 1207.5 390.7 1208.2" stroke="#606060" stroke-width="1.5" stroke-dasharray="6 2"/>
<path d="M390.7 1208.2C391.9 1209.6 395.7 1213.9 398 1216.8C400.3 1219.8 402.4 1222.8 404.3 1225.9C406.2 1229.1 407.9 1232.3 409.5 1235.5C411 1238.7 412.4 1242 413.6 1245.4C414.7 1248.7 415.7 1252.1 416.5 1255.5C417.3 1258.9 417.8 1262.3 418.2 1265.7C418.6 1269.2 418.8 1272.6 418.7 1276C418.7 1279.5 418.5 1282.9 418 1286.3C417.6 1289.7 417 1293.1 416.1 1296.4C415.3 1299.8 414.3 1303.1 413 1306.3C411.8 1309.6 410.4 1312.8 408.8 1315.9C407.2 1319 405.4 1322.1 403.4 1325.1C401.4 1328.1 399.3 1331 397 1333.8C394.6 1336.6 392.1 1339.3 389.5 1341.9C386.9 1344.5 384 1347 381.1 1349.3C378.1 1351.7 375 1354 371.8 1356.1C368.6 1358.2 365.2 1360.2 361.8 1362C358.3 1363.9 354.7 1365.6 351 1367.2C347.3 1368.8 343.5 1370.2 339.7 1371.5C335.8 1372.7 331.9 1373.9 327.8 1374.8C323.8 1375.8 319.7 1376.6 315.6 1377.2C311.5 1377.9 307.3 1378.3 303.1 1378.7C299 1379 294.7 1379.1 290.5 1379.1C286.3 1379.1 282 1378.9 277.8 1378.6C273.6 1378.2 269.4 1377.7 265.2 1377.1C261.1 1376.4 256.9 1375.6 252.8 1374.6C248.7 1373.6 244.7 1372.5 240.7 1371.2C236.7 1369.9 232.8 1368.4 229 1366.8C225.2 1365.3 221.5 1363.5 217.8 1361.6C214.2 1359.8 210.7 1357.7 207.3 1355.6C203.9 1353.5 200.6 1351.2 197.5 1348.8C194.3 1346.4 191.3 1343.9 188.5 1341.3C185.6 1338.7 182.9 1335.9 180.3 1333.1C177.8 1330.3 175.4 1327.4 173.2 1324.4C171 1321.4 168.9 1318.4 167 1315.2C165.2 1312.1 163.5 1308.9 162 1305.6C160.5 1302.4 159.2 1299 158.1 1295.7C157 1292.4 156.1 1289 155.4 1285.6C154.7 1282.2 154.1 1278.7 153.8 1275.3C153.5 1271.9 153.4 1268.4 153.5 1265C153.6 1261.5 153.9 1258.1 154.4 1254.7C154.9 1251.3 155.6 1248 156.5 1244.6C157.4 1241.3 158.5 1238 159.7 1234.8C161 1231.5 162.5 1228.4 164.2 1225.3C165.8 1222.2 167.7 1219.1 169.7 1216.2C171.7 1213.2 174 1210.3 176.3 1207.6C178.7 1204.8 181.2 1202.1 183.9 1199.5C186.6 1197 189.5 1194.5 192.5 1192.2C195.5 1189.9 198.6 1187.6 201.9 1185.6C205.1 1183.5 210.3 1180.7 212 1179.7" stroke="#6a6a6a" stroke-width="1.1"/>
<path d="M414.9 1260.4C415.1 1261.9 415.8 1266.7 416 1269.9C416.2 1273 416.2 1276.2 416 1279.3C415.9 1282.5 415.5 1285.7 415 1288.8C414.5 1291.9 413.8 1295 412.9 1298.1C412.1 1301.1 411 1304.1 409.8 1307.1C408.6 1310.1 407.2 1313 405.7 1315.9C404.2 1318.7 402.5 1321.6 400.6 1324.3C398.8 1327 396.7 1329.7 394.6 1332.3C392.4 1334.8 390.1 1337.3 387.7 1339.7C385.2 1342.1 382.6 1344.4 379.9 1346.6C377.2 1348.8 374.4 1350.9 371.4 1352.9C368.5 1354.9 365.4 1356.8 362.2 1358.5C359 1360.3 355.7 1361.9 352.4 1363.4C349 1365 345.5 1366.3 342 1367.6C338.5 1368.9 334.8 1370 331.2 1371C327.5 1372 323.8 1372.8 320 1373.5C316.2 1374.2 312.4 1374.8 308.5 1375.2C304.6 1375.7 300.7 1376 296.8 1376.1C292.9 1376.2 289 1376.3 285.1 1376.1C281.2 1376 277.2 1375.7 273.4 1375.3C269.5 1374.8 265.6 1374.3 261.7 1373.6C257.9 1372.9 254 1372 250.3 1371C246.5 1370.1 242.8 1368.9 239.1 1367.7C235.5 1366.4 231.9 1365.1 228.3 1363.6C224.8 1362 221.4 1360.4 218 1358.7C214.7 1356.9 211.4 1355 208.3 1353.1C205.1 1351.1 202.1 1349 199.2 1346.8C196.3 1344.6 193.4 1342.3 190.8 1339.9C188.1 1337.5 185.5 1335 183.1 1332.4C180.7 1329.9 178.5 1327.2 176.3 1324.5C174.2 1321.8 172.2 1318.9 170.4 1316.1C168.6 1313.2 167 1310.3 165.5 1307.3C164 1304.4 162.7 1301.3 161.5 1298.3C160.3 1295.2 159.3 1292.1 158.5 1289C157.7 1285.9 157.1 1282.7 156.6 1279.6C156.1 1276.4 155.8 1273.2 155.7 1270.1C155.6 1266.9 155.7 1263.7 155.9 1260.6C156.2 1257.4 156.6 1254.3 157.2 1251.2C157.8 1248.1 158.5 1245 159.5 1242C160.4 1238.9 162.2 1234.5 162.8 1232.9" stroke="#555" stroke-width="1.7"/>
<ellipse cx="284.5" cy="1272.9" rx="125.1" ry="96.1" transform="rotate(5.6 284.5 1272.9)" stroke-width="1.1" stroke="#666"/>
<path d="M174.2 1310.1C173.4 1308.6 170.7 1304 169.2 1300.9C167.8 1297.7 166.6 1294.5 165.5 1291.3C164.5 1288.1 163.7 1284.8 163.2 1281.6C162.6 1278.3 162.2 1275 162.1 1271.7C162 1268.4 162.1 1265.2 162.4 1261.9C162.7 1258.7 163.3 1255.4 164 1252.2C164.8 1249 165.8 1245.9 167 1242.8C168.2 1239.7 169.6 1236.6 171.2 1233.7C172.8 1230.7 174.7 1227.8 176.7 1225C178.7 1222.2 180.9 1219.5 183.3 1216.9C185.8 1214.3 188.4 1211.8 191.1 1209.4C193.9 1207 196.8 1204.7 199.9 1202.6C203 1200.5 206.3 1198.4 209.7 1196.6C213 1194.7 216.6 1193 220.2 1191.4C223.8 1189.8 227.6 1188.4 231.5 1187.1C235.3 1185.9 239.3 1184.8 243.3 1183.8C247.3 1182.9 251.4 1182.1 255.6 1181.5C259.8 1180.9 264 1180.5 268.2 1180.2C272.4 1179.9 276.7 1179.8 281 1179.9C285.3 1180 289.6 1180.2 293.8 1180.6C298.1 1181.1 302.4 1181.7 306.6 1182.4C310.8 1183.2 315 1184.1 319.1 1185.2C323.2 1186.3 327.2 1187.5 331.2 1188.9C335.1 1190.3 339 1191.9 342.8 1193.6C346.6 1195.3 350.2 1197.2 353.8 1199.1C357.3 1201.1 360.7 1203.3 364 1205.5C367.3 1207.8 370.4 1210.1 373.3 1212.6C376.3 1215.1 379.1 1217.7 381.7 1220.4C384.3 1223.1 386.8 1225.9 389 1228.8C391.3 1231.7 393.3 1234.6 395.2 1237.7C397.1 1240.7 398.7 1243.8 400.2 1246.9C401.6 1250.1 402.8 1253.3 403.9 1256.5C404.9 1259.7 405.7 1263 406.2 1266.2C406.8 1269.5 407.2 1272.8 407.3 1276.1C407.4 1279.4 407.3 1282.6 407 1285.9C406.7 1289.1 406.1 1292.4 405.4 1295.6C404.6 1298.8 403.6 1301.9 402.4 1305C401.2 1308.1 399.8 1311.2 398.2 1314.1C396.6 1317.1 394.7 1320 392.7 1322.8C390.7 1325.6 387.2 1329.6 386.1 1330.9" stroke="#777" stroke-width="1.1"/>
<path d="M165.3 1279.3C165.2 1277.9 164.7 1273.8 164.7 1271.1C164.6 1268.4 164.7 1265.6 165 1262.9C165.3 1260.2 165.7 1257.6 166.3 1254.9C166.9 1252.2 167.7 1249.6 168.6 1247C169.5 1244.4 170.6 1241.9 171.8 1239.4C173 1236.9 174.4 1234.4 175.9 1232C177.4 1229.6 179.1 1227.2 180.9 1225C182.7 1222.7 184.6 1220.5 186.7 1218.3C188.7 1216.2 191 1214.1 193.3 1212.2C195.6 1210.2 198 1208.3 200.6 1206.5C203.2 1204.7 205.8 1203 208.6 1201.4C211.4 1199.7 214.2 1198.2 217.2 1196.8C220.2 1195.4 223.2 1194.1 226.4 1192.9C229.5 1191.7 232.7 1190.6 236 1189.7C239.2 1188.7 242.6 1187.8 246 1187.1C249.4 1186.4 252.8 1185.7 256.3 1185.2C259.8 1184.7 263.3 1184.4 266.8 1184.1C270.4 1183.8 274 1183.7 277.5 1183.7C281.1 1183.7 284.7 1183.8 288.3 1184C291.9 1184.2 295.5 1184.6 299 1185C302.6 1185.5 306.1 1186.1 309.6 1186.8C313.1 1187.5 316.6 1188.3 320 1189.3C323.5 1190.2 326.9 1191.3 330.2 1192.4C333.5 1193.6 336.8 1194.9 339.9 1196.2C343.1 1197.6 346.2 1199.1 349.3 1200.7C352.3 1202.3 355.2 1204 358.1 1205.7C360.9 1207.5 363.7 1209.4 366.3 1211.3C369 1213.3 371.5 1215.3 373.9 1217.4C376.3 1219.5 378.6 1221.7 380.8 1224C382.9 1226.3 385 1228.6 386.9 1231C388.8 1233.4 390.5 1235.8 392.2 1238.3C393.8 1240.8 395.3 1243.3 396.6 1245.9C397.9 1248.5 399.1 1251.1 400.1 1253.8C401.1 1256.4 402 1259.1 402.7 1261.8C403.4 1264.5 404 1267.2 404.4 1269.9C404.8 1272.7 405 1275.4 405.1 1278.1C405.2 1280.8 405.1 1283.6 404.9 1286.3C404.6 1289 404.2 1291.7 403.7 1294.3C403.1 1297 402.4 1299.6 401.5 1302.2C400.7 1304.8 399 1308.6 398.4 1309.9" stroke="#888" stroke-width="1"/>
<g><path d="M374.2 1223.3L394.1 1242.8" stroke="#6a6a6a" stroke-width="1.3"/>
<path d="M374.7 1224.7L394.5 1244.2" stroke="#7a7a7a" stroke-width="1.2"/>
<path d="M376.3 1230.8L396.5 1252" stroke="#6a6a6a" stroke-width="1.3"/>
<path d="M376.5 1232.3L396.7 1253.4" stroke="#7a7a7a" stroke-width="1.2"/>
<path d="M377.2 1238.5L397.6 1261.2" stroke="#6a6a6a" stroke-width="1.3"/>
<path d="M377.3 1240L397.6 1262.6" stroke="#7a7a7a" stroke-width="1.2"/>
<path d="M377.1 1246.2L397.3 1270.5" stroke="#6a6a6a" stroke-width="1.3"/>
<path d="M376.9 1247.7L397.2 1271.9" stroke="#7a7a7a" stroke-width="1.2"/>
<path d="M375.8 1253.8L395.7 1279.6" stroke="#6a6a6a" stroke-width="1.3"/>
<path d="M375.5 1255.2L395.4 1281" stroke="#7a7a7a" stroke-width="1.2"/>
<path d="M373.5 1261.2L392.8 1288.5" stroke="#6a6a6a" stroke-width="1.3"/>
<path d="M372.9 1262.6L392.2 1289.8" stroke="#7a7a7a" stroke-width="1.2"/>
<path d="M370 1268.3L388.6 1297.1" stroke="#6a6a6a" stroke-width="1.3"/>
<path d="M369.3 1269.6L387.8 1298.3" stroke="#7a7a7a" stroke-width="1.2"/>
<path d="M365.6 1275.1L383.1 1305.2" stroke="#6a6a6a" stroke-width="1.3"/>
<path d="M364.6 1276.3L382.2 1306.4" stroke="#7a7a7a" stroke-width="1.2"/>
<path d="M360.1 1281.4L376.5 1312.8" stroke="#6a6a6a" stroke-width="1.3"/>
<path d="M359 1282.6L375.3 1313.9" stroke="#7a7a7a" stroke-width="1.2"/>
<path d="M353.8 1287.2L368.7 1319.7" stroke="#6a6a6a" stroke-width="1.3"/>
<path d="M352.5 1288.3L367.4 1320.7" stroke="#7a7a7a" stroke-width="1.2"/>
<path d="M346.6 1292.4L360 1325.9" stroke="#6a6a6a" stroke-width="1.3"/>
<path d="M345.2 1293.4L358.5 1326.8" stroke="#7a7a7a" stroke-width="1.2"/>
<path d="M338.7 1297L350.3 1331.4" stroke="#6a6a6a" stroke-width="1.3"/>
<path d="M337.1 1297.8L348.8 1332.1" stroke="#7a7a7a" stroke-width="1.2"/>
<path d="M330.2 1300.9L339.9 1335.9" stroke="#6a6a6a" stroke-width="1.3"/>
<path d="M328.5 1301.5L338.2 1336.6" stroke="#7a7a7a" stroke-width="1.2"/>
<path d="M321.1 1304L328.8 1339.6" stroke="#6a6a6a" stroke-width="1.3"/>
<path d="M319.3 1304.5L327.1 1340.1" stroke="#7a7a7a" stroke-width="1.2"/>
<path d="M311.5 1306.3L317.2 1342.3" stroke="#6a6a6a" stroke-width="1.3"/>
<path d="M309.7 1306.6L315.4 1342.6" stroke="#7a7a7a" stroke-width="1.2"/>
<path d="M301.7 1307.8L305.2 1344" stroke="#6a6a6a" stroke-width="1.3"/>
<path d="M299.8 1307.9L303.4 1344.1" stroke="#7a7a7a" stroke-width="1.2"/>
<path d="M291.6 1308.4L293 1344.7" stroke="#6a6a6a" stroke-width="1.3"/>
<path d="M289.7 1308.4L291.2 1344.7" stroke="#7a7a7a" stroke-width="1.2"/>
<path d="M281.5 1308.2L280.7 1344.3" stroke="#6a6a6a" stroke-width="1.3"/>
<path d="M279.6 1308.1L278.9 1344.2" stroke="#7a7a7a" stroke-width="1.2"/>
<path d="M271.4 1307.1L268.5 1343" stroke="#6a6a6a" stroke-width="1.3"/>
<path d="M269.5 1306.9L266.7 1342.7" stroke="#7a7a7a" stroke-width="1.2"/>
<path d="M261.5 1305.3L256.5 1340.6" stroke="#6a6a6a" stroke-width="1.3"/>
<path d="M259.7 1304.8L254.7 1340.2" stroke="#7a7a7a" stroke-width="1.2"/>
<path d="M251.9 1302.6L244.8 1337.3" stroke="#6a6a6a" stroke-width="1.3"/>
<path d="M250.1 1302L243.1 1336.7" stroke="#7a7a7a" stroke-width="1.2"/>
<path d="M242.7 1299.1L233.7 1333" stroke="#6a6a6a" stroke-width="1.3"/>
<path d="M241 1298.4L232 1332.3" stroke="#7a7a7a" stroke-width="1.2"/>
<path d="M234 1294.9L223.2 1327.9" stroke="#6a6a6a" stroke-width="1.3"/>
<path d="M232.4 1294L221.6 1327" stroke="#7a7a7a" stroke-width="1.2"/>
<path d="M225.9 1290L213.4 1321.9" stroke="#6a6a6a" stroke-width="1.3"/>
<path d="M224.5 1289L212 1321" stroke="#7a7a7a" stroke-width="1.2"/>
<path d="M218.6 1284.5L204.5 1315.2" stroke="#6a6a6a" stroke-width="1.3"/>
<path d="M217.3 1283.4L203.3 1314.2" stroke="#7a7a7a" stroke-width="1.2"/>
<path d="M212 1278.4L196.7 1307.9" stroke="#6a6a6a" stroke-width="1.3"/>
<path d="M210.9 1277.2L195.6 1306.7" stroke="#7a7a7a" stroke-width="1.2"/>
<path d="M206.4 1271.9L189.9 1299.9" stroke="#6a6a6a" stroke-width="1.3"/>
<path d="M205.4 1270.6L188.9 1298.7" stroke="#7a7a7a" stroke-width="1.2"/>
<path d="M201.7 1264.9L184.2 1291.5" stroke="#6a6a6a" stroke-width="1.3"/>
<path d="M200.9 1263.6L183.5 1290.2" stroke="#7a7a7a" stroke-width="1.2"/>
<path d="M198 1257.7L179.9 1282.7" stroke="#6a6a6a" stroke-width="1.3"/>
<path d="M197.5 1256.3L179.3 1281.3" stroke="#7a7a7a" stroke-width="1.2"/>
<path d="M195.4 1250.2L176.8 1273.6" stroke="#6a6a6a" stroke-width="1.3"/>
<path d="M195.1 1248.7L176.4 1272.2" stroke="#7a7a7a" stroke-width="1.2"/>
<path d="M193.9 1242.5L175 1264.4" stroke="#6a6a6a" stroke-width="1.3"/>
<path d="M193.7 1241.1L174.8 1263" stroke="#7a7a7a" stroke-width="1.2"/>
<path d="M193.5 1234.8L174.6 1255.1" stroke="#6a6a6a" stroke-width="1.3"/>
<path d="M193.6 1233.4L174.6 1253.7" stroke="#7a7a7a" stroke-width="1.2"/>
<path d="M194.2 1227.2L175.5 1245.9" stroke="#6a6a6a" stroke-width="1.3"/>
<path d="M194.5 1225.7L175.7 1244.5" stroke="#7a7a7a" stroke-width="1.2"/>
<path d="M196 1219.7L177.8 1236.9" stroke="#6a6a6a" stroke-width="1.3"/>
<path d="M196.5 1218.3L178.2 1235.5" stroke="#7a7a7a" stroke-width="1.2"/>
<path d="M198.9 1212.4L181.4 1228.1" stroke="#6a6a6a" stroke-width="1.3"/>
<path d="M199.6 1211L182 1226.8" stroke="#7a7a7a" stroke-width="1.2"/>
<path d="M202.9 1205.4L186.2 1219.8" stroke="#6a6a6a" stroke-width="1.3"/>
<path d="M203.7 1204.2L187.1 1218.6" stroke="#7a7a7a" stroke-width="1.2"/></g>
<g stroke="#555" stroke-width="1.1" fill="#fff"><path d="M373.1 1217.8L392.5 1236.2Q397.8 1237.5 394.5 1241.2L374.9 1222.1Q371.6 1220.7 373.1 1217.8Z"/>
<path d="M376.9 1216.5Q374.5 1219.8 378.7 1221.1" stroke="#888" stroke-width="0.8"/>
<path d="M375.9 1225.3L395.9 1245.3Q400.9 1247.1 397.2 1250.4L377.1 1229.8Q374.1 1228 375.9 1225.3Z"/>
<path d="M379.8 1224.5Q377 1227.5 381 1229.2" stroke="#888" stroke-width="0.8"/>
<path d="M377.7 1233.1L398 1254.6Q402.7 1256.9 398.5 1259.8L378.2 1237.6Q375.5 1235.5 377.7 1233.1Z"/>
<path d="M381.7 1232.7Q378.5 1235.3 382.2 1237.5" stroke="#888" stroke-width="0.8"/>
<path d="M378.3 1240.9L398.7 1264Q403 1266.8 398.5 1269.2L378.2 1245.4Q375.8 1243 378.3 1240.9Z"/>
<path d="M382.3 1240.9Q378.8 1243.2 382.1 1245.7" stroke="#888" stroke-width="0.8"/>
<path d="M377.8 1248.7L398 1273.4Q401.9 1276.6 397 1278.5L377 1253.1Q375 1250.5 377.8 1248.7Z"/>
<path d="M381.8 1249.1Q377.9 1251 380.9 1253.8" stroke="#888" stroke-width="0.8"/>
<path d="M376.2 1256.3L396 1282.6Q399.4 1286.2 394.3 1287.5L374.7 1260.6Q373.1 1257.8 376.2 1256.3Z"/>
<path d="M380.1 1257.2Q376 1258.6 378.6 1261.8" stroke="#888" stroke-width="0.8"/>
<path d="M373.5 1263.7L392.6 1291.5Q395.5 1295.5 390.2 1296.2L371.4 1267.9Q370.1 1264.9 373.5 1263.7Z"/>
<path d="M377.2 1265.1Q372.9 1266 375.1 1269.5" stroke="#888" stroke-width="0.8"/>
<path d="M369.7 1270.9L388 1300Q390.3 1304.3 384.9 1304.5L367 1274.8Q366.2 1271.7 369.7 1270.9Z"/>
<path d="M373.3 1272.6Q368.8 1273.1 370.5 1276.8" stroke="#888" stroke-width="0.8"/>
<path d="M364.9 1277.6L382.1 1308.1Q383.9 1312.7 378.3 1312.3L361.6 1281.3Q361.2 1278.1 364.9 1277.6Z"/>
<path d="M368.2 1279.7Q363.7 1279.8 364.9 1283.6" stroke="#888" stroke-width="0.8"/>
<path d="M359.1 1283.9L375 1315.6Q376.2 1320.4 370.7 1319.4L355.3 1287.3Q355.3 1284 359.1 1283.9Z"/>
<path d="M362.2 1286.4Q357.6 1285.9 358.3 1289.9" stroke="#888" stroke-width="0.8"/>
<path d="M352.4 1289.6L366.9 1322.4Q367.5 1327.3 362 1325.8L348.2 1292.6Q348.6 1289.3 352.4 1289.6Z"/>
<path d="M355.2 1292.4Q350.7 1291.5 350.8 1295.6" stroke="#888" stroke-width="0.8"/>
<path d="M344.9 1294.7L357.8 1328.4Q357.7 1333.5 352.4 1331.4L340.2 1297.3Q341.1 1294 344.9 1294.7Z"/>
<path d="M347.4 1297.8Q342.9 1296.4 342.5 1300.6" stroke="#888" stroke-width="0.8"/>
<path d="M336.7 1299.1L347.8 1333.7Q347.1 1338.8 342 1336.2L331.7 1301.3Q332.9 1298.1 336.7 1299.1Z"/>
<path d="M338.9 1302.5Q334.5 1300.7 333.6 1304.8" stroke="#888" stroke-width="0.8"/>
<path d="M327.9 1302.8L337.1 1338Q335.8 1343.1 330.9 1340L322.5 1304.6Q324.2 1301.4 327.9 1302.8Z"/>
<path d="M329.7 1306.4Q325.4 1304.2 324.1 1308.3" stroke="#888" stroke-width="0.8"/>
<path d="M318.5 1305.7L325.7 1341.4Q323.8 1346.4 319.2 1342.9L312.9 1307Q315 1304 318.5 1305.7Z"/>
<path d="M319.9 1309.5Q315.9 1306.9 314 1310.8" stroke="#888" stroke-width="0.8"/>
<path d="M308.8 1307.8L313.9 1343.9Q311.4 1348.7 307.2 1344.8L303 1308.6Q305.4 1305.8 308.8 1307.8Z"/>
<path d="M309.7 1311.7Q306 1308.7 303.7 1312.5" stroke="#888" stroke-width="0.8"/>
<path d="M298.8 1309L301.7 1345.3Q298.7 1349.9 294.9 1345.6L292.8 1309.4Q295.6 1306.7 298.8 1309Z"/>
<path d="M299.3 1313Q295.9 1309.7 293.1 1313.4" stroke="#888" stroke-width="0.8"/>
<path d="M288.6 1309.4L289.3 1345.7Q285.8 1350 282.5 1345.4L282.6 1309.3Q285.6 1306.9 288.6 1309.4Z"/>
<path d="M288.6 1313.4Q285.6 1309.9 282.4 1313.3" stroke="#888" stroke-width="0.8"/>
<path d="M278.3 1309L276.9 1345Q273 1349 270.2 1344.2L272.4 1308.3Q275.7 1306.2 278.3 1309Z"/>
<path d="M278 1312.9Q275.3 1309.2 271.8 1312.2" stroke="#888" stroke-width="0.8"/>
<path d="M268.2 1307.6L264.7 1343.4Q260.3 1347 258 1342L262.4 1306.5Q265.8 1304.7 268.2 1307.6Z"/>
<path d="M267.4 1311.6Q265.1 1307.6 261.3 1310.3" stroke="#888" stroke-width="0.8"/>
<path d="M258.2 1305.5L252.6 1340.7Q247.9 1343.9 246.2 1338.8L252.6 1303.9Q256.3 1302.3 258.2 1305.5Z"/>
<path d="M257 1309.3Q255.2 1305.2 251.1 1307.6" stroke="#888" stroke-width="0.8"/>
<path d="M248.6 1302.5L241 1337Q235.9 1339.8 234.8 1334.6L243.3 1300.4Q247 1299.3 248.6 1302.5Z"/>
<path d="M247 1306.2Q245.7 1302 241.4 1304" stroke="#888" stroke-width="0.8"/>
<path d="M239.5 1298.8L229.9 1332.4Q224.6 1334.7 224.1 1329.5L234.4 1296.3Q238.2 1295.4 239.5 1298.8Z"/>
<path d="M237.4 1302.2Q236.6 1298 232.1 1299.6" stroke="#888" stroke-width="0.8"/>
<path d="M230.9 1294.3L219.6 1327Q214.1 1328.8 214.2 1323.6L226.2 1291.4Q230 1290.9 230.9 1294.3Z"/>
<path d="M228.5 1297.5Q228.2 1293.3 223.6 1294.4" stroke="#888" stroke-width="0.8"/>
<path d="M222.9 1289.1L210 1320.7Q204.4 1322 205.1 1317L218.7 1285.9Q222.5 1285.8 222.9 1289.1Z"/>
<path d="M220.2 1292.1Q220.4 1287.9 215.7 1288.6" stroke="#888" stroke-width="0.8"/>
<path d="M215.7 1283.4L201.3 1313.7Q195.6 1314.4 197 1309.6L211.9 1279.8Q215.8 1280 215.7 1283.4Z"/>
<path d="M212.7 1286Q213.4 1281.9 208.7 1282.2" stroke="#888" stroke-width="0.8"/>
<path d="M209.4 1277.1L193.7 1306.1Q188 1306.2 189.9 1301.6L206.1 1273.2Q209.8 1273.8 209.4 1277.1Z"/>
<path d="M206.1 1279.3Q207.3 1275.4 202.7 1275.2" stroke="#888" stroke-width="0.8"/>
<path d="M204 1270.3L187.2 1297.9Q181.6 1297.5 184.1 1293.2L201.3 1266.2Q204.8 1267.1 204 1270.3Z"/>
<path d="M200.4 1272.2Q202.1 1268.5 197.6 1267.8" stroke="#888" stroke-width="0.8"/>
<path d="M199.5 1263.1L181.9 1289.3Q176.5 1288.3 179.5 1284.3L197.5 1258.8Q200.8 1260.1 199.5 1263.1Z"/>
<path d="M195.8 1264.6Q198 1261.2 193.6 1260.1" stroke="#888" stroke-width="0.8"/>
<path d="M196.2 1255.7L177.8 1280.3Q172.7 1278.7 176.2 1275.2L194.7 1251.2Q197.8 1252.9 196.2 1255.7Z"/>
<path d="M192.3 1256.7Q194.9 1253.6 190.8 1252" stroke="#888" stroke-width="0.8"/>
<path d="M193.9 1248L175.1 1271Q170.2 1269 174.2 1265.9L193 1243.5Q195.9 1245.4 193.9 1248Z"/>
<path d="M189.9 1248.6Q192.9 1245.8 189.1 1243.9" stroke="#888" stroke-width="0.8"/>
<path d="M192.7 1240.2L173.7 1261.7Q169.2 1259.1 173.5 1256.5L192.5 1235.7Q195 1237.9 192.7 1240.2Z"/>
<path d="M188.7 1240.4Q192 1238 188.5 1235.6" stroke="#888" stroke-width="0.8"/>
<path d="M192.6 1232.4L173.7 1252.3Q169.6 1249.3 174.3 1247.2L193.1 1227.9Q195.3 1230.4 192.6 1232.4Z"/>
<path d="M188.6 1232.2Q192.3 1230.1 189.1 1227.4" stroke="#888" stroke-width="0.8"/>
<path d="M193.7 1224.7L175 1243Q171.4 1239.6 176.4 1238L194.8 1220.3Q196.6 1223 193.7 1224.7Z"/>
<path d="M189.7 1224Q193.7 1222.4 190.9 1219.3" stroke="#888" stroke-width="0.8"/>
<path d="M195.8 1217.1L177.7 1233.9Q174.6 1230.1 179.8 1229.1L197.6 1212.9Q199.1 1215.8 195.8 1217.1Z"/>
<path d="M192 1216Q196.2 1214.8 193.8 1211.5" stroke="#888" stroke-width="0.8"/>
<path d="M199.1 1209.8L181.8 1225.2Q179.1 1221 184.5 1220.6L201.5 1205.8Q202.5 1208.8 199.1 1209.8Z"/>
<path d="M195.4 1208.3Q199.8 1207.6 197.9 1204" stroke="#888" stroke-width="0.8"/></g>
<path d="M370.3 1216.5C370.9 1218 372.9 1222.4 373.8 1225.3C374.8 1228.3 375.4 1231.4 375.8 1234.4C376.2 1237.4 376.4 1240.5 376.3 1243.5C376.1 1246.5 375.7 1249.6 375.1 1252.5C374.4 1255.5 373.5 1258.5 372.3 1261.3C371.1 1264.2 369.7 1267 368 1269.7C366.4 1272.4 364.4 1275.1 362.3 1277.6C360.2 1280.1 357.8 1282.5 355.2 1284.7C352.7 1287 349.9 1289.1 346.9 1291.1C344 1293 340.8 1294.9 337.5 1296.5C334.2 1298.2 330.8 1299.6 327.2 1300.9C323.6 1302.2 319.9 1303.3 316.2 1304.2C312.4 1305.2 308.5 1305.9 304.6 1306.4C300.7 1306.9 296.7 1307.2 292.7 1307.4C288.7 1307.5 284.6 1307.4 280.6 1307.1C276.6 1306.9 272.6 1306.4 268.6 1305.7C264.7 1305 260.8 1304.1 257 1303.1C253.2 1302 249.4 1300.7 245.8 1299.3C242.2 1297.9 238.7 1296.3 235.3 1294.5C232 1292.7 228.8 1290.8 225.7 1288.7C222.7 1286.6 219.8 1284.4 217.2 1282C214.5 1279.7 212.1 1277.2 209.8 1274.6C207.6 1272 205.6 1269.3 203.8 1266.5C202.1 1263.7 200.5 1260.8 199.2 1257.9C198 1255 196.9 1252 196.2 1249C195.4 1246 194.9 1243 194.7 1239.9C194.4 1236.9 194.4 1233.8 194.7 1230.8C195 1227.8 195.6 1224.8 196.4 1221.8C197.2 1218.9 198.3 1216 199.7 1213.2C201 1210.3 203.6 1206.3 204.4 1204.9" stroke="#777" stroke-width="1"/>
<path d="M303.5 1188.5C304.9 1189 309.2 1190.5 311.8 1191.8C314.4 1193 316.8 1194.3 319.1 1195.8C321.4 1197.2 323.5 1198.8 325.3 1200.5C327.2 1202.1 328.8 1203.9 330.3 1205.7C331.7 1207.5 332.9 1209.5 333.8 1211.4C334.7 1213.3 335.4 1215.3 335.9 1217.3C336.3 1219.3 336.5 1221.4 336.4 1223.4C336.3 1225.4 336 1227.4 335.4 1229.4C334.8 1231.4 333.9 1233.4 332.8 1235.3C331.7 1237.2 330.4 1239.1 328.8 1240.8C327.2 1242.6 325.4 1244.3 323.4 1245.9C321.4 1247.5 319.2 1249 316.8 1250.4C314.5 1251.8 311.9 1253.1 309.2 1254.2C306.5 1255.3 303.6 1256.3 300.7 1257.2C297.7 1258 294.6 1258.8 291.5 1259.3C288.4 1259.9 285.1 1260.3 281.9 1260.5C278.7 1260.8 275.3 1260.8 272.1 1260.8C268.8 1260.7 265.6 1260.5 262.4 1260.1C259.2 1259.7 256 1259.1 252.9 1258.4C249.9 1257.7 246.9 1256.9 244 1255.9C241.2 1254.9 238.4 1253.7 235.9 1252.5C233.3 1251.2 230.9 1249.8 228.7 1248.4C226.5 1246.9 224.5 1245.3 222.7 1243.6C220.9 1241.9 219.3 1240.1 217.9 1238.3C216.6 1236.4 215.5 1234.5 214.6 1232.6C213.7 1230.6 213.1 1228.6 212.8 1226.6C212.4 1224.6 212.3 1222.5 212.5 1220.5C212.6 1218.5 213.1 1216.5 213.7 1214.5C214.4 1212.5 215.3 1210.6 216.5 1208.7C217.7 1206.8 220 1204.1 220.7 1203.2" stroke-width="1.1" stroke="#777"/>
<path d="M337.7 1226.9C337.5 1227.6 337.2 1229.5 336.8 1230.8C336.5 1232 336 1233.3 335.4 1234.5C334.9 1235.8 334.2 1237 333.5 1238.2C332.7 1239.4 331.9 1240.6 331 1241.7C330.1 1242.9 329 1244 328 1245.1C326.9 1246.2 325.7 1247.3 324.4 1248.3C323.2 1249.3 321.9 1250.3 320.5 1251.2C319.1 1252.1 317.6 1253 316.1 1253.9C314.5 1254.7 312.9 1255.5 311.3 1256.3C309.6 1257 307.9 1257.7 306.1 1258.4C304.4 1259 302.6 1259.6 300.7 1260.2C298.9 1260.7 297 1261.2 295.1 1261.6C293.2 1262 291.2 1262.4 289.2 1262.7C287.3 1263 285.2 1263.2 283.2 1263.4C281.2 1263.6 279.2 1263.7 277.2 1263.8C275.1 1263.8 273.1 1263.8 271.1 1263.7C269.1 1263.7 267 1263.5 265 1263.4C263 1263.2 261 1262.9 259 1262.6C257.1 1262.3 255.1 1261.9 253.2 1261.5C251.3 1261.1 249.4 1260.6 247.6 1260C245.7 1259.5 243.9 1258.9 242.2 1258.2C240.4 1257.6 238.7 1256.8 237.1 1256.1C235.4 1255.3 233.8 1254.5 232.3 1253.7C230.8 1252.8 229.3 1251.9 228 1251C226.6 1250 225.3 1249 224 1248C222.8 1247 221.6 1245.9 220.5 1244.8C219.5 1243.7 218.5 1242.6 217.6 1241.4C216.7 1240.3 215.8 1239.1 215.1 1237.9C214.4 1236.7 213.8 1235.4 213.2 1234.2C212.7 1233 212.1 1231 211.9 1230.4" stroke-width="0.9" stroke="#999"/>
<path d="M177 1229L189 1236.5L187 1243L174 1238Z" fill="#fff" stroke="#888" stroke-width="1"/>
<path d="M181 1243L191 1243L192 1250L183 1252Z" fill="#fff" stroke="#888" stroke-width="1"/>
<ellipse cx="185.5" cy="1249" rx="4.5" ry="3.6" fill="#fff" stroke="#777" stroke-width="1"/>
<path d="M214 1200Q210 1212 203 1222" stroke="#999" stroke-width="1"/>
<ellipse cx="210.5" cy="1240" rx="12.5" ry="11.5" fill="#fff" stroke-width="1.2"/>
<ellipse cx="210.5" cy="1241.5" rx="12.5" ry="11.5" fill="none" stroke-width="0.9" stroke="#888"/>
<circle cx="209.5" cy="1239.8" r="8" fill="#fff" stroke-width="1.2" stroke="#555"/>
<path d="M204.5 1239.8H214.5M209.5 1235V1244.6" stroke-width="2.6" stroke="#555"/>
<path d="M205.6 1239.8H213.4M209.5 1236.1V1243.5" stroke-width="0.9" stroke="#fff"/>
<ellipse cx="357.6" cy="1236" rx="18.4" ry="13" fill="#fff" stroke-width="1.2" stroke="#666"/>
<ellipse cx="357.6" cy="1236.5" rx="14.5" ry="10.4" stroke-width="1" stroke="#777"/>
<ellipse cx="357.6" cy="1236" rx="8.6" ry="7.6" stroke-width="1.2" stroke="#555"/>
<path d="M352.8 1236H362.4M357.6 1231.4V1240.6" stroke-width="2.4" stroke="#666"/>
<path d="M353.8 1236H361.4M357.6 1232.4V1239.6" stroke-width="0.8" stroke="#fff"/>
<path d="M191.5 1330.5L194.5 1329.6L206.3 1339L205.5 1342.8L202.6 1343.2L191 1333.8Z" stroke="#666" stroke-width="1" fill="#fff"/>
<path d="M365.6 1343.5L378 1333.6L380.6 1334.6L380.4 1338L368.6 1347.2L366 1346.6Z" stroke="#666" stroke-width="1" fill="#fff"/>
<path d="M344.4 1255.5Q346 1249.5 352 1248.3Q359 1247 366 1250L366.6 1246.8L373 1254.6L364.6 1260L365 1256.4Q357 1251.6 344.4 1255.5Z" fill="#1a1a1a" stroke="#1a1a1a" stroke-width="0.8"/>
<path d="M354.2 1257.6L357.4 1257L358.6 1262L341.2 1322.5L336 1321Z" fill="#fff" stroke="#555" stroke-width="1.2"/>
<path d="M356 1262L339 1320" stroke="#aaa" stroke-width="0.8"/>
<path d="M262.6 1483C262.9 1481.2 264.1 1475.6 264.6 1472.1C265.1 1468.7 266.4 1464.6 265.6 1462.3C264.7 1460 261.1 1460.9 259.6 1458.3C258.2 1455.7 256.7 1450.7 256.7 1446.5C256.6 1442.2 258.3 1436.6 259.2 1432.6C260.2 1428.7 261.1 1425.7 262.6 1422.7C264.1 1419.8 267.1 1417.1 268.5 1414.8C269.9 1412.5 271.1 1410.9 271.1 1408.9C271.1 1406.9 268.5 1405.5 268.7 1403C269 1400.5 269.7 1397.1 272.5 1394.1C275.2 1391.1 280.9 1387.7 285.3 1385.2C289.8 1382.7 295.7 1380.5 299.2 1379.3C302.6 1378.1 305.3 1379.5 306.1 1377.9C306.8 1376.2 304 1372.3 303.5 1369.4C303 1366.5 302.8 1362.9 303.1 1360.5C303.4 1358.1 305.9 1356.8 305.1 1355.2C304.3 1353.5 299.6 1352.5 298.2 1350.6C296.7 1348.7 295.7 1345.8 296.2 1343.7C296.7 1341.6 298.3 1339.3 301.1 1338.2C303.9 1337 310.1 1336.5 313 1336.8C315.9 1337.1 317.2 1340.8 318.3 1339.8C319.5 1338.7 318.8 1332.6 319.9 1330.3C321 1327.9 322.4 1326.5 324.8 1325.5C327.3 1324.6 331.4 1324.3 334.7 1324.7C338 1325.1 342.1 1326.3 344.6 1327.9C347.1 1329.5 349.1 1331.9 349.7 1334.2C350.4 1336.5 349.5 1339.2 348.6 1341.7C347.6 1344.3 345.1 1347 344 1349.6C342.9 1352.3 341.1 1355.8 341.8 1357.5C342.6 1359.3 346.1 1358.5 348.6 1360.1C351 1361.8 353.2 1363.6 356.5 1367.4C359.7 1371.3 364.4 1377.3 368.3 1383.2C372.3 1389.2 376.9 1397.1 380.2 1403C383.5 1408.9 386.6 1414.8 388.1 1418.8C389.6 1422.7 389.6 1423.4 389.3 1426.7C388.9 1430 387.9 1433.9 386.1 1438.6C384.2 1443.2 381.2 1448.8 378.2 1454.4C375.2 1460 371.3 1467.4 368.3 1472.1C365.3 1476.9 361.7 1481.2 360.4 1483" fill="#fff" stroke="#4d4d4d" stroke-width="1.5"/>
<path d="M299.2 1379.3C300.3 1379 305.3 1379.5 306.1 1377.9C306.8 1376.2 304 1372.3 303.5 1369.4C303 1366.5 302.8 1362.9 303.1 1360.5C303.4 1358.1 305.9 1356.8 305.1 1355.2C304.3 1353.5 299.6 1352.5 298.2 1350.6C296.7 1348.7 295.7 1345.8 296.2 1343.7C296.7 1341.6 298.3 1339.3 301.1 1338.2C303.9 1337 310.1 1336.5 313 1336.8C315.9 1337.1 317.2 1340.8 318.3 1339.8C319.5 1338.7 318.8 1332.6 319.9 1330.3C321 1327.9 322.4 1326.5 324.8 1325.5C327.3 1324.6 331.4 1324.3 334.7 1324.7C338 1325.1 342.1 1326.3 344.6 1327.9C347.1 1329.5 349.1 1331.9 349.7 1334.2C350.4 1336.5 349.5 1339.2 348.6 1341.7C347.6 1344.3 345.1 1347 344 1349.6C342.9 1352.3 341.1 1355.8 341.8 1357.5C342.6 1359.3 347.4 1359.7 348.6 1360.1" stroke="#3c3c3c" stroke-width="2"/>
<path d="M305.1 1355.6C306.7 1356 311.7 1358 315 1357.9C318.3 1357.8 321.1 1354.6 324.8 1355C328.6 1355.3 335.5 1359.3 337.7 1360.1" stroke="#aaa" stroke-width="0.9"/>
<path d="M341 1359.5C340.5 1362.8 338.6 1372.7 337.9 1379.3C337.2 1385.9 336.7 1393.1 336.7 1399C336.7 1405 337.2 1410.6 337.9 1414.8C338.5 1419.1 340.2 1423.1 340.6 1424.7" stroke="#aaa" stroke-width="0.9"/>
<path d="M336.7 1399C338.7 1398.4 343.9 1396.2 348.6 1395.1C353.2 1393.9 361.7 1392.6 364.4 1392.1" stroke="#aaa" stroke-width="0.9"/>
<path d="M291.3 1393.1L297.2 1401" stroke="#aaa" stroke-width="0.9"/>
<path d="M277.4 1419.8C278.4 1418.3 280.4 1413.7 283.3 1410.9C286.3 1408.1 293.2 1404.3 295.2 1403" stroke="#aaa" stroke-width="0.9"/>
<path d="M262.6 1430.6C263.1 1432.3 264.6 1437.9 265.6 1440.5C266.6 1443.2 268 1445.5 268.5 1446.5" stroke="#aaa" stroke-width="0.9"/>
<path d="M265.6 1462.3C266.2 1459.6 267.5 1451.7 269.5 1446.5C271.5 1441.2 276.1 1433.3 277.4 1430.6" stroke="#aaa" stroke-width="0.9"/>
<!-- ill4 -->
<path d="M676.8 1231C677 1229.3 677.2 1224.6 678.3 1221C679.4 1217.4 680.6 1213.7 683.2 1209.3C685.8 1204.9 689.3 1199.8 693.7 1194.8C698.1 1189.8 703.6 1183.4 709.5 1179C715.4 1174.6 722.7 1171.2 729.3 1168.4C735.9 1165.7 742.4 1163.9 749 1162.5C755.6 1161.1 762 1160.5 768.8 1159.9C775.6 1159.4 781.8 1158.8 790 1159.2C798.2 1159.6 808.1 1159.5 818.1 1162.5C828.1 1165.5 841.7 1172.1 849.7 1177C857.7 1181.9 861.5 1187 866 1192C870.5 1197 873.5 1201.7 876.5 1207C879.5 1212.3 882.4 1219.2 883.9 1224C885.4 1228.8 885.3 1234 885.6 1236" stroke="#5a5a5a" stroke-width="1.2"/>
<path d="M700 1186C703.3 1183.7 711.8 1175.6 720 1172C728.2 1168.4 738.8 1166.3 749 1164.6C759.2 1162.9 769.5 1161.7 781 1161.8C792.5 1161.9 806.8 1162.3 818 1165C829.2 1167.7 840.7 1174 848 1178C855.3 1182 859.7 1187.2 862 1189" stroke="#888" stroke-width="0.9"/>
<g stroke="#7a7a7a" stroke-width="1.4"><path d="M698.7 1189.9L685.3 1202.8"/>
<path d="M700.5 1187.9L687.5 1201"/>
<path d="M702.8 1185.9L690.1 1199.2"/>
<path d="M705.3 1184L693.1 1197.5"/>
<path d="M708.2 1182.2L696.4 1195.8"/>
<path d="M711.3 1180.4L700.1 1194.2"/>
<path d="M714.8 1178.8L704.1 1192.7"/>
<path d="M718.5 1177.2L708.4 1191.3"/>
<path d="M722.5 1175.7L713 1189.9"/>
<path d="M726.7 1174.3L718 1188.6"/>
<path d="M731.2 1173L723.1 1187.5"/>
<path d="M735.9 1171.8L728.6 1186.4"/>
<path d="M740.7 1170.8L734.2 1185.5"/>
<path d="M745.7 1169.9L740 1184.6"/>
<path d="M816.3 1169.9L822 1184.6"/>
<path d="M821.3 1170.8L827.8 1185.5"/>
<path d="M826.1 1171.8L833.4 1186.4"/>
<path d="M830.8 1173L838.9 1187.5"/>
<path d="M835.3 1174.3L844 1188.6"/>
<path d="M839.5 1175.7L849 1189.9"/>
<path d="M843.5 1177.2L853.6 1191.3"/>
<path d="M847.2 1178.8L857.9 1192.7"/>
<path d="M850.7 1180.4L861.9 1194.2"/>
<path d="M853.8 1182.2L865.6 1195.8"/>
<path d="M856.7 1184L868.9 1197.5"/>
<path d="M859.2 1185.9L871.9 1199.2"/>
<path d="M861.5 1187.9L874.5 1201"/>
<path d="M863.3 1189.9L876.7 1202.8"/></g>
<g stroke="#5c5c5c" stroke-width="1" fill="#fff"><path d="M699 1188.5A1 1 0 0 1 701.1 1188.5L686.9 1202.5A1 1 0 0 1 684.9 1202.5Z"/>
<path d="M700.9 1186.6A1.1 1.1 0 0 1 703.2 1186.6L689.5 1200.5A1.1 1.1 0 0 1 687.2 1200.5Z"/>
<path d="M703.2 1184.8A1.3 1.3 0 0 1 705.7 1184.8L692.3 1198.7A1.3 1.3 0 0 1 689.8 1198.7Z"/>
<path d="M705.8 1183.1A1.4 1.4 0 0 1 708.5 1183.1L695.6 1196.9A1.4 1.4 0 0 1 692.9 1196.9Z"/>
<path d="M708.6 1181.4A1.5 1.5 0 0 1 711.6 1181.4L699.2 1195.1A1.5 1.5 0 0 1 696.3 1195.1Z"/>
<path d="M711.8 1179.8A1.6 1.6 0 0 1 715 1179.8L703.2 1193.5A1.6 1.6 0 0 1 700 1193.5Z"/>
<path d="M715.3 1178.2A1.7 1.7 0 0 1 718.7 1178.2L707.5 1191.9A1.7 1.7 0 0 1 704.1 1191.9Z"/>
<path d="M719.1 1176.8A1.8 1.8 0 0 1 722.6 1176.8L712.1 1190.4A1.8 1.8 0 0 1 708.6 1190.4Z"/>
<path d="M723.1 1175.4A1.9 1.9 0 0 1 726.8 1175.4L717 1189A1.9 1.9 0 0 1 713.3 1189Z"/>
<path d="M727.3 1174.2A1.9 1.9 0 0 1 731.2 1174.2L722.2 1187.7A1.9 1.9 0 0 1 718.3 1187.7Z"/>
<path d="M731.8 1173A2 2 0 0 1 735.8 1173L727.6 1186.5A2 2 0 0 1 723.5 1186.5Z"/>
<path d="M736.4 1172A2.1 2.1 0 0 1 740.6 1172L733.2 1185.4A2.1 2.1 0 0 1 729 1185.4Z"/>
<path d="M741.3 1171.1A2.1 2.1 0 0 1 745.6 1171.1L739 1184.5A2.1 2.1 0 0 1 734.7 1184.5Z"/>
<path d="M746.3 1170.2A2.2 2.2 0 0 1 750.7 1170.2L745 1183.6A2.2 2.2 0 0 1 740.6 1183.6Z"/>
<path d="M751.5 1169.6A2.2 2.2 0 0 1 756 1169.6L751.2 1182.9A2.2 2.2 0 0 1 746.7 1182.9Z"/>
<path d="M756.7 1169A2.3 2.3 0 0 1 761.3 1169L757.5 1182.3A2.3 2.3 0 0 1 752.9 1182.3Z"/>
<path d="M762.1 1168.5A2.3 2.3 0 0 1 766.8 1168.5L763.9 1181.8A2.3 2.3 0 0 1 759.2 1181.8Z"/>
<path d="M767.6 1168.2A2.3 2.3 0 0 1 772.3 1168.2L770.3 1181.5A2.3 2.3 0 0 1 765.7 1181.5Z"/>
<path d="M773.1 1168A2.3 2.3 0 0 1 777.8 1168L776.8 1181.3A2.3 2.3 0 0 1 772.1 1181.3Z"/>
<path d="M778.6 1167.9A2.4 2.4 0 0 1 783.4 1167.9L783.4 1181.2A2.4 2.4 0 0 1 778.6 1181.2Z"/>
<path d="M784.2 1168A2.3 2.3 0 0 1 788.9 1168L789.9 1181.3A2.3 2.3 0 0 1 785.2 1181.3Z"/>
<path d="M789.7 1168.2A2.3 2.3 0 0 1 794.4 1168.2L796.3 1181.5A2.3 2.3 0 0 1 791.7 1181.5Z"/>
<path d="M795.2 1168.5A2.3 2.3 0 0 1 799.9 1168.5L802.8 1181.8A2.3 2.3 0 0 1 798.1 1181.8Z"/>
<path d="M800.7 1169A2.3 2.3 0 0 1 805.3 1169L809.1 1182.3A2.3 2.3 0 0 1 804.5 1182.3Z"/>
<path d="M806 1169.6A2.2 2.2 0 0 1 810.5 1169.6L815.3 1182.9A2.2 2.2 0 0 1 810.8 1182.9Z"/>
<path d="M811.3 1170.2A2.2 2.2 0 0 1 815.7 1170.2L821.4 1183.6A2.2 2.2 0 0 1 817 1183.6Z"/>
<path d="M816.4 1171.1A2.1 2.1 0 0 1 820.7 1171.1L827.3 1184.5A2.1 2.1 0 0 1 823 1184.5Z"/>
<path d="M821.4 1172A2.1 2.1 0 0 1 825.6 1172L833 1185.4A2.1 2.1 0 0 1 828.8 1185.4Z"/>
<path d="M826.2 1173A2 2 0 0 1 830.2 1173L838.5 1186.5A2 2 0 0 1 834.4 1186.5Z"/>
<path d="M830.8 1174.2A1.9 1.9 0 0 1 834.7 1174.2L843.7 1187.7A1.9 1.9 0 0 1 839.8 1187.7Z"/>
<path d="M835.2 1175.4A1.9 1.9 0 0 1 838.9 1175.4L848.7 1189A1.9 1.9 0 0 1 845 1189Z"/>
<path d="M839.4 1176.8A1.8 1.8 0 0 1 842.9 1176.8L853.4 1190.4A1.8 1.8 0 0 1 849.9 1190.4Z"/>
<path d="M843.3 1178.2A1.7 1.7 0 0 1 846.7 1178.2L857.9 1191.9A1.7 1.7 0 0 1 854.5 1191.9Z"/>
<path d="M847 1179.8A1.6 1.6 0 0 1 850.2 1179.8L862 1193.5A1.6 1.6 0 0 1 858.8 1193.5Z"/>
<path d="M850.4 1181.4A1.5 1.5 0 0 1 853.4 1181.4L865.7 1195.1A1.5 1.5 0 0 1 862.8 1195.1Z"/>
<path d="M853.5 1183.1A1.4 1.4 0 0 1 856.2 1183.1L869.1 1196.9A1.4 1.4 0 0 1 866.4 1196.9Z"/>
<path d="M856.3 1184.8A1.3 1.3 0 0 1 858.8 1184.8L872.2 1198.7A1.3 1.3 0 0 1 869.7 1198.7Z"/>
<path d="M858.8 1186.6A1.1 1.1 0 0 1 861.1 1186.6L874.8 1200.5A1.1 1.1 0 0 1 872.5 1200.5Z"/>
<path d="M860.9 1188.5A1 1 0 0 1 863 1188.5L877.1 1202.5A1 1 0 0 1 875.1 1202.5Z"/></g>
<g stroke="#707070"><path d="M698.7 1219.7L687.7 1221.1" stroke-width="1.7"/>
<path d="M702.3 1218.1L691.8 1220.7" stroke-width="1.6"/>
<path d="M706.3 1216.7L696.3 1220.3" stroke-width="1.6"/>
<path d="M710.6 1215.3L701.2 1222.2" stroke-width="1.5"/>
<path d="M715.1 1214L706.3 1224.3" stroke-width="1.5"/>
<path d="M720 1212.8L711.8 1226.5" stroke-width="1.4"/>
<path d="M725.1 1211.8L717.6 1228.7" stroke-width="1.4"/>
<path d="M730.4 1210.8L723.6 1230.7" stroke-width="1.4"/>
<path d="M736 1210L729.8 1232.8" stroke-width="1.3"/>
<path d="M741.7 1209.2L736.3 1234.9" stroke-width="1.3"/>
<path d="M747.6 1208.6L743 1236.2" stroke-width="1.3"/>
<path d="M753.6 1208.2L749.8 1237.6" stroke-width="1.3"/>
<path d="M759.8 1207.8L756.7 1238.8" stroke-width="1.2"/>
<path d="M766 1207.6L763.8 1239.5" stroke-width="1.2"/>
<path d="M772.3 1207.5L770.9 1240.2" stroke-width="1.2"/>
<path d="M778.6 1207.5L778.1 1240.8" stroke-width="1.2"/>
<path d="M785 1207.7L785.2 1241.1" stroke-width="1.2"/>
<path d="M791.3 1208L792.4 1241.2" stroke-width="1.2"/>
<path d="M797.6 1208.4L799.5 1240.8" stroke-width="1.2"/>
<path d="M803.8 1209L806.5 1240.4" stroke-width="1.2"/>
<path d="M809.9 1209.6L813.4 1240" stroke-width="1.2"/>
<path d="M815.9 1210.4L820.2 1239.3" stroke-width="1.3"/>
<path d="M821.8 1211.3L826.8 1238.6" stroke-width="1.3"/>
<path d="M827.5 1212.4L833.3 1237.9" stroke-width="1.3"/>
<path d="M833 1213.5L839.5 1237.1" stroke-width="1.3"/>
<path d="M838.2 1214.7L845.4 1234.9" stroke-width="1.4"/>
<path d="M843.3 1216.1L851.1 1232.9" stroke-width="1.4"/>
<path d="M848 1217.5L856.5 1231" stroke-width="1.4"/>
<path d="M852.5 1219L861.6 1228" stroke-width="1.5"/>
<path d="M856.7 1220.6L866.3 1225.1" stroke-width="1.5"/></g>
<g stroke="#5c5c5c" stroke-width="0.9"><path d="M692.7 1222.1L684.8 1223.6A1.2 1.2 0 0 0 687.2 1223.6L695.1 1222.1" fill="#fff"/>
<path d="M695.7 1220.5L684.7 1223.5A1.3 1.3 0 0 0 687.3 1223.5L698.3 1220.5" fill="#fff"/>
<path d="M699.1 1218.9L688.4 1223.1A1.4 1.4 0 0 0 691.1 1223.1L701.9 1218.9" fill="#fff"/>
<path d="M702.8 1217.4L692.6 1222.5A1.5 1.5 0 0 0 695.5 1222.5L705.8 1217.4" fill="#fff"/>
<path d="M706.8 1216L697.1 1223.2A1.6 1.6 0 0 0 700.3 1223.2L710 1216" fill="#fff"/>
<path d="M711.2 1214.6L702 1225.1A1.7 1.7 0 0 0 705.4 1225.1L714.5 1214.6" fill="#fff"/>
<path d="M715.8 1213.4L707.3 1227.1A1.7 1.7 0 0 0 710.8 1227.1L719.3 1213.4" fill="#fff"/>
<path d="M720.7 1212.3L712.8 1229.3A1.8 1.8 0 0 0 716.5 1229.3L724.3 1212.3" fill="#fff"/>
<path d="M725.8 1211.3L718.7 1231.3A1.9 1.9 0 0 0 722.4 1231.3L729.6 1211.3" fill="#fff"/>
<path d="M731.2 1210.4L724.7 1233.3A2 2 0 0 0 728.6 1233.3L735.1 1210.4" fill="#fff"/>
<path d="M736.8 1209.6L731.1 1235.3A2 2 0 0 0 735.1 1235.3L740.8 1209.6" fill="#fff"/>
<path d="M742.6 1208.9L737.6 1237A2.1 2.1 0 0 0 741.7 1237L746.7 1208.9" fill="#fff"/>
<path d="M748.5 1208.4L744.3 1238.3A2.1 2.1 0 0 0 748.5 1238.3L752.7 1208.4" fill="#fff"/>
<path d="M754.5 1208L751.1 1239.6A2.1 2.1 0 0 0 755.4 1239.6L758.8 1208" fill="#fff"/>
<path d="M760.7 1207.7L758.1 1240.5A2.2 2.2 0 0 0 762.4 1240.5L765 1207.7" fill="#fff"/>
<path d="M767 1207.5L765.2 1241.2A2.2 2.2 0 0 0 769.5 1241.2L771.3 1207.5" fill="#fff"/>
<path d="M773.3 1207.5L772.3 1241.9A2.2 2.2 0 0 0 776.7 1241.9L777.7 1207.5" fill="#fff"/>
<path d="M779.6 1207.6L779.5 1242.3A2.2 2.2 0 0 0 783.9 1242.3L784 1207.6" fill="#fff"/>
<path d="M786 1207.8L786.6 1242.6A2.2 2.2 0 0 0 791 1242.6L790.3 1207.8" fill="#fff"/>
<path d="M792.3 1208.2L793.8 1242.3A2.2 2.2 0 0 0 798.1 1242.3L796.6 1208.2" fill="#fff"/>
<path d="M798.5 1208.7L800.9 1241.9A2.2 2.2 0 0 0 805.2 1241.9L802.9 1208.7" fill="#fff"/>
<path d="M804.7 1209.3L807.9 1241.6A2.1 2.1 0 0 0 812.1 1241.6L809 1209.3" fill="#fff"/>
<path d="M810.8 1210L814.7 1241.1A2.1 2.1 0 0 0 818.9 1241.1L815 1210" fill="#fff"/>
<path d="M816.8 1210.9L821.5 1240.4A2.1 2.1 0 0 0 825.6 1240.4L820.9 1210.9" fill="#fff"/>
<path d="M822.6 1211.8L828.1 1239.8A2 2 0 0 0 832.1 1239.8L826.7 1211.8" fill="#fff"/>
<path d="M828.3 1212.9L834.4 1239.2A2 2 0 0 0 838.3 1239.2L832.2 1212.9" fill="#fff"/>
<path d="M833.7 1214.1L840.6 1237.6A1.9 1.9 0 0 0 844.4 1237.6L837.5 1214.1" fill="#fff"/>
<path d="M839 1215.4L846.5 1235.6A1.8 1.8 0 0 0 850.1 1235.6L842.6 1215.4" fill="#fff"/>
<path d="M844 1216.8L852.1 1233.7A1.7 1.7 0 0 0 855.6 1233.7L847.4 1216.8" fill="#fff"/>
<path d="M848.7 1218.2L857.4 1231.4A1.7 1.7 0 0 0 860.7 1231.4L852 1218.2" fill="#fff"/>
<path d="M853.1 1219.8L862.4 1228.5A1.6 1.6 0 0 0 865.6 1228.5L856.2 1219.8" fill="#fff"/>
<path d="M857.2 1221.4L867.1 1225.8A1.5 1.5 0 0 0 870 1225.8L860.2 1221.4" fill="#fff"/>
<path d="M861.1 1223.1L871.4 1224.9A1.4 1.4 0 0 0 874.1 1224.9L863.8 1223.1" fill="#fff"/></g>
<ellipse cx="781" cy="1235.5" rx="104.3" ry="34.3" transform="rotate(1.5 781 1235.5)" stroke="#5a5a5a" stroke-width="1.2"/>
<ellipse cx="781" cy="1235.9" rx="101.3" ry="31.9" transform="rotate(1.5 781 1235.9)" stroke="#777" stroke-width="1"/>
<path d="M683.9 1229.1C684.4 1228.4 685.9 1226.4 687.3 1225.1C688.8 1223.7 690.5 1222.4 692.6 1221.2C694.6 1220 697 1218.8 699.6 1217.7C702.2 1216.6 705 1215.5 708.1 1214.5C711.2 1213.6 714.6 1212.7 718.1 1211.8C721.7 1211 725.4 1210.3 729.3 1209.6C733.2 1209 737.4 1208.4 741.6 1207.9C745.8 1207.4 750.1 1207.1 754.5 1206.8C759 1206.5 763.5 1206.3 768.1 1206.2C772.6 1206.2 777.2 1206.2 781.8 1206.3C786.4 1206.4 791 1206.7 795.5 1207C800.1 1207.3 804.6 1207.7 809 1208.2C813.4 1208.7 817.7 1209.3 821.9 1210C826.1 1210.7 830.2 1211.5 834 1212.3C837.9 1213.2 841.6 1214.1 845.1 1215.2C848.6 1216.2 851.9 1217.2 854.9 1218.4C858 1219.5 860.8 1220.7 863.3 1222C865.9 1223.2 868.1 1224.5 870.1 1225.9C872.1 1227.2 873.8 1228.6 875.2 1230C876.6 1231.4 877.9 1233.5 878.4 1234.2" stroke="#888" stroke-width="0.9"/>
<path d="M690 1226.5l4.5-1.5 1 2.6-4.5 1.6z" stroke="#777" stroke-width="0.9" fill="#fff"/>
<path d="M854 1248l6-2 0.6 3-6 2z" stroke="#777" stroke-width="0.9" fill="#fff"/>
<path d="M744.8 1296.5L748.3 1284Q750 1278.5 757 1276.5Q781 1272.3 808 1274.6Q824 1276.4 829 1279.6Q832.4 1282.5 832.8 1288L834.6 1300" stroke="#5a5a5a" stroke-width="1.1" fill="#fff"/>
<path d="M749.5 1283.5Q781 1276 831.5 1284" stroke="#888" stroke-width="0.9"/>
<path d="M752.4 1294.6L754.6 1284.4Q762 1281.6 771.4 1280.6L771.2 1293.6Q760 1294 752.4 1294.6Z" fill="#555" stroke="none"/>
<path d="M778.2 1293.2L778.4 1280Q796 1278.6 813.6 1281.2L813.4 1293.2Q796 1291.8 778.2 1293.2Z" fill="#555" stroke="none"/>
<path d="M821.3 1283L829 1285.4L830.4 1298.2L822.4 1295.4Z" fill="#555" stroke="none"/>
<path d="M674.6 1338.5C675.8 1336.2 678.4 1328.8 681.6 1324.4C684.8 1320 689.5 1315.5 693.9 1312.1C698.3 1308.7 703 1306.4 708 1304.2C713 1302 717.4 1300.5 723.8 1299C730.2 1297.5 738.4 1296.4 746.6 1295.5C754.8 1294.6 764 1293.9 772.9 1293.7C781.8 1293.5 790 1293.6 800 1294.6C810 1295.6 822.9 1297.5 832.7 1299.8C842.5 1302.1 852 1304.8 859 1308.4C866 1312.1 870.7 1317 874.8 1321.7C878.9 1326.4 882 1333 883.6 1336.7C885.2 1340.4 884.4 1342.6 884.5 1343.8" stroke="#5a5a5a" stroke-width="1.2"/>
<path d="M683 1328C685 1326.1 690.5 1319.7 695 1316.4C699.5 1313.1 705 1310.6 710 1308.4C715 1306.2 718.8 1304.9 725 1303.4C731.2 1301.9 739 1300.5 747 1299.6C755 1298.7 764.2 1297.9 773 1297.8C781.8 1297.7 790.2 1297.8 800 1298.8C809.8 1299.8 822.5 1301.7 832 1304C841.5 1306.3 850.5 1309.3 857 1312.6C863.5 1315.9 868.7 1322.1 871 1324" stroke="#888" stroke-width="0.9"/>
<path d="M695 1319.8C697.5 1318.5 705 1314 710 1311.8C715 1309.6 718.8 1308.3 725 1306.8C731.2 1305.3 739 1303.9 747 1303C755 1302.1 764.2 1301.3 773 1301.2C781.8 1301.1 790.2 1301.2 800 1302.2C809.8 1303.2 822.5 1305.1 832 1307.4C841.5 1309.7 852.8 1314.6 857 1316" stroke="#999" stroke-width="0.9"/>
<path d="M700 1310.5l9-4.5 1.4 3-9 4.6z" stroke="#777" stroke-width="0.9" fill="#fff"/>
<path d="M832 1303.5l13 3.4-0.8 3.2-13-3.4z" stroke="#777" stroke-width="0.9" fill="#fff"/>
<path d="M884.5 1343.8C883.8 1346.7 882.3 1356.3 880.1 1361.3C877.9 1366.3 873.9 1370.7 871.3 1373.6C868.7 1376.5 865.5 1378 864.3 1378.9" stroke="#888" stroke-width="1"/>
<path d="M869.5 1359.6C869.8 1361 871.9 1365.4 871.3 1368.3C870.7 1371.2 866.9 1375.5 866 1377" stroke="#999" stroke-width="0.9"/>
<ellipse cx="775" cy="1366.9" rx="85" ry="29.6" stroke="#5a5a5a" stroke-width="1.3"/>
<path d="M853.9 1378.7C853.3 1379.3 851.4 1381 849.8 1382C848.3 1383.1 846.5 1384.2 844.6 1385.2C842.7 1386.1 840.6 1387.1 838.4 1388C836.2 1388.9 833.7 1389.8 831.2 1390.6C828.7 1391.4 826 1392.2 823.2 1392.8C820.4 1393.5 817.4 1394.2 814.4 1394.7C811.4 1395.3 808.3 1395.8 805.1 1396.2C801.9 1396.7 798.6 1397 795.3 1397.3C792 1397.6 788.6 1397.8 785.2 1398C781.9 1398.1 778.4 1398.2 775 1398.2C771.6 1398.2 768.1 1398.1 764.8 1398C761.4 1397.8 758 1397.6 754.7 1397.3C751.4 1397 748.1 1396.7 744.9 1396.2C741.7 1395.8 738.6 1395.3 735.6 1394.7C732.6 1394.2 729.6 1393.5 726.8 1392.8C724 1392.2 721.3 1391.4 718.8 1390.6C716.3 1389.8 713.8 1388.9 711.6 1388C709.4 1387.1 707.3 1386.1 705.4 1385.2C703.5 1384.2 701.7 1383.1 700.2 1382C698.6 1381 696.7 1379.3 696.1 1378.7" stroke="#666" stroke-width="1.1"/>
<ellipse cx="775" cy="1368.6" rx="78" ry="25.6" stroke="#777" stroke-width="1"/>
<path d="M701.5 1393L763.7 1417.6L806.7 1410L822.1 1394.6L826 1381" stroke="#505050" stroke-width="1.4"/>
<ellipse cx="774" cy="1348.4" rx="5.6" ry="3.6" stroke="#555" stroke-width="1.4"/>
<g fill="#666" stroke="none"><ellipse cx="779.3" cy="1355.7" rx="1" ry="0.7"/>
<ellipse cx="767" cy="1356.2" rx="1" ry="0.7"/>
<ellipse cx="755.8" cy="1357.9" rx="1" ry="0.7"/>
<ellipse cx="746.4" cy="1360.5" rx="1" ry="0.7"/>
<ellipse cx="739.7" cy="1363.8" rx="1" ry="0.7"/>
<ellipse cx="736.2" cy="1367.6" rx="1" ry="0.7"/>
<ellipse cx="736.2" cy="1371.6" rx="1" ry="0.7"/>
<ellipse cx="739.7" cy="1375.4" rx="1" ry="0.7"/>
<ellipse cx="746.4" cy="1378.7" rx="1" ry="0.7"/>
<ellipse cx="755.8" cy="1381.3" rx="1" ry="0.7"/>
<ellipse cx="767" cy="1383" rx="1" ry="0.7"/>
<ellipse cx="779.3" cy="1383.5" rx="1" ry="0.7"/>
<ellipse cx="791.6" cy="1383" rx="1" ry="0.7"/>
<ellipse cx="802.8" cy="1381.3" rx="1" ry="0.7"/>
<ellipse cx="812.2" cy="1378.7" rx="1" ry="0.7"/>
<ellipse cx="818.9" cy="1375.4" rx="1" ry="0.7"/>
<ellipse cx="822.4" cy="1371.6" rx="1" ry="0.7"/>
<ellipse cx="822.4" cy="1367.6" rx="1" ry="0.7"/>
<ellipse cx="818.9" cy="1363.8" rx="1" ry="0.7"/>
<ellipse cx="812.2" cy="1360.5" rx="1" ry="0.7"/>
<ellipse cx="802.8" cy="1357.9" rx="1" ry="0.7"/>
<ellipse cx="791.6" cy="1356.2" rx="1" ry="0.7"/>
<ellipse cx="773.8" cy="1357.4" rx="1" ry="0.7"/>
<ellipse cx="763.3" cy="1358.4" rx="1" ry="0.7"/>
<ellipse cx="754.1" cy="1360.3" rx="1" ry="0.7"/>
<ellipse cx="746.9" cy="1362.9" rx="1" ry="0.7"/>
<ellipse cx="742.4" cy="1366.1" rx="1" ry="0.7"/>
<ellipse cx="740.8" cy="1369.6" rx="1" ry="0.7"/>
<ellipse cx="742.4" cy="1373.1" rx="1" ry="0.7"/>
<ellipse cx="746.9" cy="1376.3" rx="1" ry="0.7"/>
<ellipse cx="754.1" cy="1378.9" rx="1" ry="0.7"/>
<ellipse cx="763.3" cy="1380.8" rx="1" ry="0.7"/>
<ellipse cx="773.8" cy="1381.8" rx="1" ry="0.7"/>
<ellipse cx="784.8" cy="1381.8" rx="1" ry="0.7"/>
<ellipse cx="795.3" cy="1380.8" rx="1" ry="0.7"/>
<ellipse cx="804.5" cy="1378.9" rx="1" ry="0.7"/>
<ellipse cx="811.7" cy="1376.3" rx="1" ry="0.7"/>
<ellipse cx="816.2" cy="1373.1" rx="1" ry="0.7"/>
<ellipse cx="817.8" cy="1369.6" rx="1" ry="0.7"/>
<ellipse cx="816.2" cy="1366.1" rx="1" ry="0.7"/>
<ellipse cx="811.7" cy="1362.9" rx="1" ry="0.7"/>
<ellipse cx="804.5" cy="1360.3" rx="1" ry="0.7"/>
<ellipse cx="795.3" cy="1358.4" rx="1" ry="0.7"/>
<ellipse cx="784.8" cy="1357.4" rx="1" ry="0.7"/>
<ellipse cx="779.3" cy="1358.9" rx="1" ry="0.7"/>
<ellipse cx="769.9" cy="1359.3" rx="1" ry="0.7"/>
<ellipse cx="761.2" cy="1360.6" rx="1" ry="0.7"/>
<ellipse cx="754" cy="1362.6" rx="1" ry="0.7"/>
<ellipse cx="748.8" cy="1365.1" rx="1" ry="0.7"/>
<ellipse cx="746.1" cy="1368.1" rx="1" ry="0.7"/>
<ellipse cx="746.1" cy="1371.1" rx="1" ry="0.7"/>
<ellipse cx="748.8" cy="1374.1" rx="1" ry="0.7"/>
<ellipse cx="754" cy="1376.6" rx="1" ry="0.7"/>
<ellipse cx="761.2" cy="1378.6" rx="1" ry="0.7"/>
<ellipse cx="769.9" cy="1379.9" rx="1" ry="0.7"/>
<ellipse cx="779.3" cy="1380.3" rx="1" ry="0.7"/>
<ellipse cx="788.7" cy="1379.9" rx="1" ry="0.7"/>
<ellipse cx="797.4" cy="1378.6" rx="1" ry="0.7"/>
<ellipse cx="804.6" cy="1376.6" rx="1" ry="0.7"/>
<ellipse cx="809.8" cy="1374.1" rx="1" ry="0.7"/>
<ellipse cx="812.5" cy="1371.1" rx="1" ry="0.7"/>
<ellipse cx="812.5" cy="1368.1" rx="1" ry="0.7"/>
<ellipse cx="809.8" cy="1365.1" rx="1" ry="0.7"/>
<ellipse cx="804.6" cy="1362.6" rx="1" ry="0.7"/>
<ellipse cx="797.4" cy="1360.6" rx="1" ry="0.7"/>
<ellipse cx="788.7" cy="1359.3" rx="1" ry="0.7"/>
<ellipse cx="775.2" cy="1360.6" rx="1" ry="0.7"/>
<ellipse cx="767.5" cy="1361.3" rx="1" ry="0.7"/>
<ellipse cx="760.6" cy="1362.7" rx="1" ry="0.7"/>
<ellipse cx="755.3" cy="1364.7" rx="1" ry="0.7"/>
<ellipse cx="752" cy="1367" rx="1" ry="0.7"/>
<ellipse cx="750.8" cy="1369.6" rx="1" ry="0.7"/>
<ellipse cx="752" cy="1372.2" rx="1" ry="0.7"/>
<ellipse cx="755.3" cy="1374.5" rx="1" ry="0.7"/>
<ellipse cx="760.6" cy="1376.5" rx="1" ry="0.7"/>
<ellipse cx="767.5" cy="1377.9" rx="1" ry="0.7"/>
<ellipse cx="775.2" cy="1378.6" rx="1" ry="0.7"/>
<ellipse cx="783.4" cy="1378.6" rx="1" ry="0.7"/>
<ellipse cx="791.1" cy="1377.9" rx="1" ry="0.7"/>
<ellipse cx="798" cy="1376.5" rx="1" ry="0.7"/>
<ellipse cx="803.3" cy="1374.5" rx="1" ry="0.7"/>
<ellipse cx="806.6" cy="1372.2" rx="1" ry="0.7"/>
<ellipse cx="807.8" cy="1369.6" rx="1" ry="0.7"/>
<ellipse cx="806.6" cy="1367" rx="1" ry="0.7"/>
<ellipse cx="803.3" cy="1364.7" rx="1" ry="0.7"/>
<ellipse cx="798" cy="1362.7" rx="1" ry="0.7"/>
<ellipse cx="791.1" cy="1361.3" rx="1" ry="0.7"/>
<ellipse cx="783.4" cy="1360.6" rx="1" ry="0.7"/>
<ellipse cx="779.3" cy="1362.1" rx="1" ry="0.7"/>
<ellipse cx="772.7" cy="1362.4" rx="1" ry="0.7"/>
<ellipse cx="766.6" cy="1363.3" rx="1" ry="0.7"/>
<ellipse cx="761.5" cy="1364.7" rx="1" ry="0.7"/>
<ellipse cx="757.9" cy="1366.5" rx="1" ry="0.7"/>
<ellipse cx="756" cy="1368.5" rx="1" ry="0.7"/>
<ellipse cx="756" cy="1370.7" rx="1" ry="0.7"/>
<ellipse cx="757.9" cy="1372.7" rx="1" ry="0.7"/>
<ellipse cx="761.5" cy="1374.5" rx="1" ry="0.7"/>
<ellipse cx="766.6" cy="1375.9" rx="1" ry="0.7"/>
<ellipse cx="772.7" cy="1376.8" rx="1" ry="0.7"/>
<ellipse cx="779.3" cy="1377.1" rx="1" ry="0.7"/>
<ellipse cx="785.9" cy="1376.8" rx="1" ry="0.7"/>
<ellipse cx="792" cy="1375.9" rx="1" ry="0.7"/>
<ellipse cx="797.1" cy="1374.5" rx="1" ry="0.7"/>
<ellipse cx="800.7" cy="1372.7" rx="1" ry="0.7"/>
<ellipse cx="802.6" cy="1370.7" rx="1" ry="0.7"/>
<ellipse cx="802.6" cy="1368.5" rx="1" ry="0.7"/>
<ellipse cx="800.7" cy="1366.5" rx="1" ry="0.7"/>
<ellipse cx="797.1" cy="1364.7" rx="1" ry="0.7"/>
<ellipse cx="792" cy="1363.3" rx="1" ry="0.7"/>
<ellipse cx="785.9" cy="1362.4" rx="1" ry="0.7"/>
<ellipse cx="776.6" cy="1363.6" rx="1" ry="0.7"/>
<ellipse cx="771.4" cy="1364.1" rx="1" ry="0.7"/>
<ellipse cx="766.9" cy="1365" rx="1" ry="0.7"/>
<ellipse cx="763.3" cy="1366.3" rx="1" ry="0.7"/>
<ellipse cx="761.1" cy="1367.9" rx="1" ry="0.7"/>
<ellipse cx="760.3" cy="1369.6" rx="1" ry="0.7"/>
<ellipse cx="761.1" cy="1371.3" rx="1" ry="0.7"/>
<ellipse cx="763.3" cy="1372.9" rx="1" ry="0.7"/>
<ellipse cx="766.9" cy="1374.2" rx="1" ry="0.7"/>
<ellipse cx="771.4" cy="1375.1" rx="1" ry="0.7"/>
<ellipse cx="776.6" cy="1375.6" rx="1" ry="0.7"/>
<ellipse cx="782" cy="1375.6" rx="1" ry="0.7"/>
<ellipse cx="787.2" cy="1375.1" rx="1" ry="0.7"/>
<ellipse cx="791.7" cy="1374.2" rx="1" ry="0.7"/>
<ellipse cx="795.3" cy="1372.9" rx="1" ry="0.7"/>
<ellipse cx="797.5" cy="1371.3" rx="1" ry="0.7"/>
<ellipse cx="798.3" cy="1369.6" rx="1" ry="0.7"/>
<ellipse cx="797.5" cy="1367.9" rx="1" ry="0.7"/>
<ellipse cx="795.3" cy="1366.3" rx="1" ry="0.7"/>
<ellipse cx="791.7" cy="1365" rx="1" ry="0.7"/>
<ellipse cx="787.2" cy="1364.1" rx="1" ry="0.7"/>
<ellipse cx="782" cy="1363.6" rx="1" ry="0.7"/></g>
<path d="M704.4 1400C703.8 1398.8 702.5 1396.1 700.9 1392.9C699.3 1389.7 696.5 1385.1 695 1381C693.5 1376.9 693 1373.3 692.1 1368.3C691.2 1363.3 691 1355.2 689.5 1350.8C688 1346.4 685.9 1343.6 683.4 1342C680.9 1340.4 677 1340.2 674.6 1341.1C672.2 1342 670.9 1342.8 669.3 1347.3C667.7 1351.8 665.5 1362 664.9 1368.3C664.3 1374.6 664.7 1379.1 665.8 1385C666.9 1390.9 670.5 1400.7 671.5 1403.8Z" fill="#fff" stroke="none"/>
<path d="M704.4 1400C703.8 1398.8 702.5 1396.1 700.9 1392.9C699.3 1389.7 696.5 1385.1 695 1381C693.5 1376.9 693 1373.3 692.1 1368.3C691.2 1363.3 691 1355.2 689.5 1350.8C688 1346.4 685.9 1343.6 683.4 1342C680.9 1340.4 677 1340.2 674.6 1341.1C672.2 1342 670.9 1342.8 669.3 1347.3C667.7 1351.8 665.5 1362 664.9 1368.3C664.3 1374.6 664.7 1379.1 665.8 1385C666.9 1390.9 669.5 1398.9 671.5 1403.8C673.5 1408.7 676.4 1409 677.7 1414.6C679 1420.2 678.2 1431.2 679.2 1437.6C680.2 1444 681 1449.4 683.8 1453C686.6 1456.6 691.5 1457.3 696.1 1459.1C700.7 1460.9 707.9 1461.4 711.5 1463.7C715.1 1466 714 1469.4 717.6 1473C721.2 1476.6 726.9 1482.2 733 1485.3C739.1 1488.4 747.9 1488.1 754.5 1491.4C761.1 1494.7 766.2 1500.3 772.9 1505.2C779.6 1510.1 788.4 1516.2 794.5 1520.6C800.6 1525 807.2 1529.6 809.8 1531.4" stroke="#505050" stroke-width="1.5"/>
<path d="M677.7 1414.6C682.3 1417.1 698.1 1424.5 705.3 1429.9C712.5 1435.3 715.6 1441.9 720.7 1446.8C725.8 1451.7 731.2 1456.1 736.1 1459.1C741 1462.1 747.6 1463.8 749.9 1464.7" stroke="#505050" stroke-width="1.4"/>
<path d="M696.1 1431.5L706.9 1432.4" stroke="#5a5a5a" stroke-width="1"/>
<path d="M817.8 1400C818.5 1396.7 820.4 1387 822 1380C823.6 1373 825.9 1364.4 827.4 1357.8C828.9 1351.2 829.1 1345.9 830.9 1340.3C832.7 1334.7 835.4 1328.1 838 1324.4C840.6 1320.7 843.8 1319.3 846.7 1318.3C849.6 1317.3 852.9 1317.3 855.5 1318.3C858.1 1319.3 860.9 1320.7 862.5 1324.4C864.1 1328.1 864.9 1334.7 865.2 1340.3C865.5 1345.9 864.8 1352.2 864.3 1357.8C863.8 1363.4 862.4 1369 862.5 1374C862.6 1379 864.7 1385.7 865.1 1388L817.8 1400Z" fill="#fff" stroke="none"/>
<path d="M817.8 1400C818.5 1396.7 820.4 1387 822 1380C823.6 1373 825.9 1364.4 827.4 1357.8C828.9 1351.2 829.1 1345.9 830.9 1340.3C832.7 1334.7 835.4 1328.1 838 1324.4C840.6 1320.7 843.8 1319.3 846.7 1318.3C849.6 1317.3 852.9 1317.3 855.5 1318.3C858.1 1319.3 860.9 1320.7 862.5 1324.4C864.1 1328.1 864.9 1334.7 865.2 1340.3C865.5 1345.9 864.8 1352.2 864.3 1357.8C863.8 1363.4 862.4 1369 862.5 1374C862.6 1379 864.1 1382.3 865.1 1388C866.1 1393.7 865.6 1402.2 868.2 1408.4C870.8 1414.6 876.4 1417.3 880.5 1425.3C884.6 1433.2 890.2 1447.4 892.8 1456.1C895.4 1464.8 895.1 1471.4 895.9 1477.6C896.7 1483.8 896.4 1488.4 897.4 1493C898.4 1497.6 900.5 1501.6 902 1505.2C903.5 1508.8 905.8 1513 906.6 1514.5" stroke="#505050" stroke-width="1.5"/>
<path d="M755.4 1242.5L797.2 1256L757.5 1284.1L757.1 1270.9L720.3 1280.6L693.9 1287.6L674.2 1292Q675.2 1298 676.3 1304.3L679 1318.7Q669 1315 663.2 1309.6Q659.6 1304 662.3 1298.2Q666 1294 674.2 1292Q674 1285 675.5 1281.5Q678 1275 685.1 1270.9Q690 1268.6 693.9 1267.8L720.3 1262.1L755.9 1255.1Z" fill="#474546" stroke="none"/>
<!-- ill5 -->
<path d="M203.2 1937.9C200 1940.4 189.4 1947.4 183.9 1952.8C178.4 1958.2 174 1964 169.9 1970.4C165.8 1976.9 162 1984.5 159.3 1991.5C156.7 1998.5 154.7 2005.8 154 2012.5C153.3 2019.2 153.4 2025.2 154.9 2031.9C156.4 2038.6 158.6 2045.9 162.8 2052.9C167.1 2059.9 172.5 2067.6 180.4 2074C188.3 2080.4 199.4 2086.6 210.2 2091.6C221 2096.6 235.4 2101 245.4 2103.9C255.4 2106.8 263 2107.9 270 2109C277 2110.1 281.5 2110.6 287.3 2110.6C293.1 2110.6 297.6 2110.1 304.6 2109C311.6 2107.9 319.2 2106.8 329.2 2103.9C339.2 2101 353.6 2096.6 364.4 2091.6C375.2 2086.6 386.3 2080.4 394.2 2074C402.1 2067.6 407.6 2059.9 411.8 2052.9C416.1 2045.9 418.2 2038.6 419.7 2031.9C421.2 2025.2 421.3 2019.2 420.6 2012.5C419.9 2005.8 417.9 1998.5 415.3 1991.5C412.7 1984.5 408.8 1976.9 404.7 1970.4C400.6 1964 396.3 1958.2 390.7 1952.8C385.2 1947.4 374.6 1940.4 371.4 1937.9" stroke="#666" stroke-width="1.1"/>
<g><path d="M389.4 1962.6C386.6 1960.5 388.2 1961.9 387.9 1961.8C387.6 1961.7 387.3 1961.8 387.2 1962C387.1 1962.2 387.1 1962.7 387.2 1963.1C387.3 1963.5 387.7 1964.4 388 1964.9C388.4 1965.4 389.1 1966.4 389.5 1966.9C389.9 1967.4 388.3 1966.2 391.2 1968.7C394 1971.1 408.2 1982.9 411 1985.3C413.9 1987.6 412.2 1986 412.5 1986.1C412.8 1986.1 413.2 1985.9 413.3 1985.6C413.4 1985.3 413.4 1984.5 413.2 1984C413.1 1983.5 412.6 1982.3 412.2 1981.7C411.9 1981.1 411.1 1980 410.6 1979.4C410.2 1978.9 411.7 1979.9 408.9 1977.7C406 1975.5 392.1 1964.7 389.4 1962.6Z" stroke="#5a5a5a" stroke-width="1.1"/>
<path d="M389.9 1964.3C387.2 1962.1 389.4 1963.9 389.3 1963.9C389.1 1963.8 389 1963.9 388.9 1964C388.9 1964 388.9 1964.3 388.9 1964.5C389 1964.7 389.2 1965.1 389.3 1965.3C389.5 1965.6 389.8 1966 390 1966.2C390.2 1966.5 388 1964.8 390.8 1967C393.5 1969.3 407.8 1981 410.5 1983.2C413.3 1985.4 411.1 1983.5 411.2 1983.6C411.4 1983.6 411.5 1983.5 411.6 1983.3C411.6 1983.2 411.6 1982.9 411.5 1982.6C411.5 1982.4 411.2 1981.9 411.1 1981.6C410.9 1981.3 410.6 1980.8 410.4 1980.5C410.1 1980.3 412.3 1981.9 409.6 1979.7C406.8 1977.6 392.6 1966.4 389.9 1964.3Z" stroke="#747474" stroke-width="1"/>
<path d="M391.4 1970.6C388.4 1968.2 390.3 1969.8 389.9 1969.7C389.6 1969.6 389.2 1969.7 389 1969.9C388.9 1970.1 388.8 1970.6 388.8 1971C388.8 1971.4 389.1 1972.3 389.3 1972.8C389.5 1973.4 390.1 1974.4 390.5 1974.9C390.8 1975.5 389 1973.9 392 1976.7C394.9 1979.5 409.6 1993.2 412.5 1995.8C415.4 1998.5 413.6 1996.6 414 1996.7C414.3 1996.8 414.8 1996.5 415 1996.3C415.2 1996 415.3 1995.2 415.2 1994.6C415.2 1994.1 414.9 1992.9 414.6 1992.3C414.4 1991.7 413.7 1990.5 413.3 1989.9C413 1989.4 414.7 1990.7 411.8 1988.1C408.9 1985.6 394.3 1973.1 391.4 1970.6Z" stroke="#5a5a5a" stroke-width="1.1"/>
<path d="M391.6 1972.3C388.8 1969.8 391.1 1971.9 391 1971.9C390.8 1971.9 390.6 1971.9 390.5 1972C390.5 1972 390.4 1972.3 390.4 1972.5C390.5 1972.7 390.6 1973.1 390.7 1973.3C390.8 1973.5 391 1974 391.2 1974.2C391.4 1974.5 389.1 1972.4 391.9 1975C394.7 1977.6 409.6 1991.2 412.4 1993.7C415.2 1996.2 412.9 1994.1 413.1 1994.1C413.2 1994.1 413.4 1994 413.5 1993.9C413.6 1993.8 413.6 1993.4 413.6 1993.2C413.6 1992.9 413.5 1992.4 413.3 1992.1C413.2 1991.9 412.9 1991.3 412.8 1991.1C412.6 1990.8 414.9 1992.8 412.1 1990.3C409.3 1987.8 394.4 1974.7 391.6 1972.3Z" stroke="#747474" stroke-width="1"/>
<path d="M391.8 1978.7C388.8 1976 390.7 1977.9 390.4 1977.8C390.1 1977.7 389.5 1977.7 389.3 1977.9C389.1 1978 388.8 1978.6 388.8 1979C388.8 1979.4 388.9 1980.3 389 1980.8C389.1 1981.4 389.6 1982.5 389.9 1983C390.2 1983.5 388.3 1981.7 391.2 1984.8C394.1 1988 409 2003.4 411.9 2006.4C414.9 2009.4 413.1 2007.3 413.4 2007.3C413.8 2007.4 414.4 2007.2 414.7 2007C414.9 2006.7 415.2 2005.9 415.2 2005.4C415.3 2004.8 415.2 2003.6 415 2003C414.9 2002.4 414.4 2001.1 414.1 2000.6C413.7 2000 415.6 2001.6 412.7 1998.7C409.7 1995.8 394.8 1981.5 391.8 1978.7Z" stroke="#5a5a5a" stroke-width="1.1"/>
<path d="M391.7 1980.4C388.9 1977.7 391.2 1980 391.1 1980C390.9 1979.9 390.7 1980 390.6 1980C390.5 1980.1 390.4 1980.4 390.4 1980.5C390.3 1980.7 390.4 1981.1 390.5 1981.4C390.5 1981.6 390.7 1982.1 390.9 1982.3C391 1982.6 388.6 1980.2 391.5 1983.2C394.3 1986.1 409.4 2001.4 412.2 2004.3C415.1 2007.1 412.7 2004.7 412.9 2004.7C413.1 2004.7 413.3 2004.6 413.4 2004.5C413.5 2004.4 413.7 2004 413.7 2003.8C413.7 2003.6 413.7 2003.1 413.6 2002.8C413.5 2002.5 413.3 2001.9 413.2 2001.7C413 2001.4 415.4 2003.7 412.6 2000.8C409.7 1998 394.6 1983.2 391.7 1980.4Z" stroke="#747474" stroke-width="1"/>
<path d="M390.7 1986.9C387.7 1983.8 389.6 1986 389.3 1985.8C388.9 1985.7 388.3 1985.7 388 1985.8C387.7 1986 387.3 1986.5 387.2 1986.9C387.1 1987.3 387 1988.2 387.1 1988.8C387.2 1989.3 387.5 1990.4 387.7 1991C387.9 1991.5 386 1989.5 388.9 1992.9C391.8 1996.4 406.4 2013.4 409.3 2016.8C412.2 2020.1 410.4 2017.7 410.8 2017.8C411.2 2017.9 412 2017.8 412.3 2017.5C412.6 2017.3 413.1 2016.5 413.2 2016C413.4 2015.5 413.5 2014.3 413.4 2013.7C413.3 2013 413 2011.7 412.7 2011.1C412.5 2010.5 414.4 2012.4 411.5 2009.2C408.6 2005.9 393.7 1990 390.7 1986.9Z" stroke="#5a5a5a" stroke-width="1.1"/>
<path d="M390.3 1988.5C387.5 1985.5 389.8 1988.1 389.6 1988C389.5 1988 389.2 1988 389 1988C388.9 1988.1 388.7 1988.4 388.7 1988.5C388.6 1988.7 388.6 1989.2 388.6 1989.4C388.7 1989.6 388.8 1990.2 388.9 1990.4C389 1990.7 386.7 1988.1 389.5 1991.3C392.3 1994.5 407.2 2011.5 410 2014.7C412.8 2017.9 410.5 2015.1 410.7 2015.2C410.9 2015.2 411.2 2015.2 411.4 2015.1C411.5 2014.9 411.7 2014.6 411.8 2014.4C411.8 2014.1 411.9 2013.6 411.9 2013.3C411.8 2013 411.7 2012.4 411.6 2012.2C411.5 2011.9 413.8 2014.4 411 2011.2C408.2 2008.1 393.2 1991.6 390.3 1988.5Z" stroke="#747474" stroke-width="1"/>
<path d="M388 1995C385.1 1991.6 386.9 1994 386.6 1993.8C386.2 1993.6 385.4 1993.5 385.1 1993.6C384.8 1993.8 384.3 1994.2 384.1 1994.6C383.9 1995 383.7 1995.9 383.7 1996.5C383.6 1997 383.8 1998.1 384 1998.7C384.2 1999.3 382.3 1997.1 385.1 2000.8C387.8 2004.5 401.9 2023.1 404.7 2026.8C407.6 2030.4 405.9 2027.8 406.3 2028C406.7 2028.1 407.6 2028 408 2027.8C408.4 2027.6 409 2026.9 409.3 2026.4C409.5 2025.9 409.8 2024.7 409.8 2024.1C409.8 2023.4 409.6 2022.1 409.4 2021.5C409.2 2020.9 411.2 2022.9 408.3 2019.4C405.5 2015.9 390.9 1998.4 388 1995Z" stroke="#5a5a5a" stroke-width="1.1"/>
<path d="M387.3 1996.5C384.6 1993.1 386.8 1996 386.6 1995.9C386.4 1995.8 386.1 1995.8 385.9 1995.9C385.8 1995.9 385.5 1996.2 385.4 1996.3C385.3 1996.5 385.2 1997 385.2 1997.2C385.2 1997.5 385.3 1998 385.4 1998.3C385.5 1998.6 383.2 1995.7 385.9 1999.3C388.6 2002.8 403 2021.4 405.8 2024.8C408.5 2028.3 406.3 2025.3 406.5 2025.4C406.7 2025.5 407.1 2025.4 407.3 2025.3C407.5 2025.2 407.8 2024.9 407.9 2024.7C408 2024.4 408.1 2023.9 408.1 2023.6C408.2 2023.3 408.1 2022.7 408 2022.4C407.9 2022.1 410.2 2024.8 407.5 2021.3C404.7 2017.9 390.1 1999.9 387.3 1996.5Z" stroke="#747474" stroke-width="1"/>
<path d="M383.9 2002.8C381.1 1999.1 382.7 2001.7 382.3 2001.5C381.9 2001.2 381.1 2001.1 380.7 2001.2C380.3 2001.2 379.7 2001.7 379.4 2002C379.1 2002.4 378.8 2003.3 378.7 2003.9C378.6 2004.4 378.7 2005.6 378.8 2006.2C379 2006.8 377.2 2004.4 379.7 2008.4C382.3 2012.4 395.6 2032.3 398.3 2036.2C400.9 2040.1 399.4 2037.4 399.9 2037.6C400.3 2037.8 401.3 2037.8 401.7 2037.7C402.2 2037.5 403 2036.8 403.4 2036.4C403.7 2035.9 404.1 2034.7 404.3 2034.1C404.4 2033.4 404.3 2032.1 404.2 2031.5C404 2030.8 405.9 2033 403.2 2029.2C400.5 2025.4 386.6 2006.5 383.9 2002.8Z" stroke="#5a5a5a" stroke-width="1.1"/>
<path d="M382.9 2004.2C380.2 2000.6 382.3 2003.7 382.1 2003.5C381.9 2003.4 381.5 2003.4 381.3 2003.4C381.1 2003.4 380.8 2003.7 380.6 2003.8C380.5 2004 380.3 2004.5 380.3 2004.8C380.3 2005 380.3 2005.6 380.4 2005.9C380.4 2006.2 378.3 2003.2 380.9 2007C383.4 2010.8 397 2030.7 399.6 2034.5C402.2 2038.3 400.2 2035.1 400.4 2035.2C400.6 2035.3 401.1 2035.3 401.3 2035.2C401.5 2035.1 401.9 2034.8 402.1 2034.6C402.3 2034.3 402.5 2033.8 402.6 2033.4C402.6 2033.1 402.6 2032.5 402.5 2032.1C402.5 2031.8 404.7 2034.7 402.1 2031C399.4 2027.3 385.6 2007.9 382.9 2004.2Z" stroke="#747474" stroke-width="1"/>
<path d="M378.2 2010.3C375.6 2006.4 377.1 2009 376.6 2008.8C376.2 2008.5 375.3 2008.3 374.8 2008.3C374.4 2008.3 373.6 2008.7 373.3 2009C372.9 2009.4 372.5 2010.2 372.3 2010.8C372.2 2011.3 372.1 2012.5 372.2 2013.2C372.3 2013.8 370.6 2011.3 373 2015.5C375.4 2019.8 387.5 2040.9 390 2045C392.5 2049.2 391.2 2046.4 391.6 2046.6C392.1 2046.9 393.2 2047 393.7 2046.9C394.3 2046.8 395.2 2046.2 395.7 2045.8C396.1 2045.3 396.7 2044.2 396.9 2043.5C397.1 2042.9 397.2 2041.6 397.1 2040.9C397 2040.2 398.8 2042.6 396.2 2038.5C393.7 2034.4 380.8 2014.3 378.2 2010.3Z" stroke="#5a5a5a" stroke-width="1.1"/>
<path d="M377 2011.6C374.5 2007.7 376.4 2010.9 376.2 2010.8C376 2010.6 375.5 2010.5 375.3 2010.5C375 2010.5 374.6 2010.7 374.4 2010.9C374.2 2011.1 374 2011.6 373.9 2011.8C373.8 2012.1 373.8 2012.8 373.9 2013.1C373.9 2013.4 371.9 2010.3 374.3 2014.3C376.7 2018.4 389.2 2039.5 391.6 2043.5C394 2047.5 392.2 2044.2 392.4 2044.3C392.7 2044.5 393.2 2044.5 393.5 2044.5C393.8 2044.4 394.3 2044.1 394.5 2043.9C394.7 2043.7 395.1 2043.1 395.2 2042.7C395.3 2042.4 395.3 2041.7 395.3 2041.3C395.2 2041 397.3 2044.1 394.8 2040.1C392.4 2036.1 379.5 2015.5 377 2011.6Z" stroke="#747474" stroke-width="1"/>
<path d="M371.1 2017.4C368.7 2013.2 370 2015.9 369.5 2015.6C369.1 2015.3 368.1 2014.9 367.6 2014.9C367.1 2014.9 366.2 2015.2 365.8 2015.5C365.4 2015.8 364.8 2016.6 364.6 2017.2C364.4 2017.7 364.2 2018.9 364.3 2019.6C364.3 2020.3 362.8 2017.6 364.9 2022.1C367 2026.6 377.9 2048.7 380.2 2053C382.4 2057.4 381.3 2054.5 381.8 2054.9C382.3 2055.2 383.4 2055.4 384 2055.4C384.6 2055.3 385.7 2054.8 386.2 2054.4C386.7 2054 387.5 2053 387.8 2052.3C388.1 2051.7 388.3 2050.3 388.3 2049.6C388.2 2048.9 389.9 2051.4 387.6 2047.1C385.3 2042.8 373.5 2021.6 371.1 2017.4Z" stroke="#5a5a5a" stroke-width="1.1"/>
<path d="M369.7 2018.5C367.5 2014.3 369.1 2017.7 368.9 2017.5C368.6 2017.3 368.1 2017.1 367.8 2017.1C367.6 2017.1 367.1 2017.3 366.8 2017.4C366.6 2017.6 366.3 2018.1 366.2 2018.4C366.1 2018.7 366 2019.3 366 2019.7C366 2020.1 364.2 2016.8 366.4 2021.1C368.5 2025.3 379.7 2047.5 381.9 2051.7C384.1 2056 382.5 2052.5 382.8 2052.7C383.1 2052.9 383.7 2053 384 2053C384.3 2053 384.9 2052.7 385.2 2052.5C385.5 2052.3 385.9 2051.7 386.1 2051.3C386.2 2051 386.4 2050.3 386.3 2049.9C386.3 2049.5 388.2 2052.7 386 2048.5C383.8 2044.3 372 2022.6 369.7 2018.5Z" stroke="#747474" stroke-width="1"/>
<path d="M362.7 2023.8C360.5 2019.4 361.6 2022.2 361.1 2021.8C360.7 2021.4 359.6 2021 359.1 2020.9C358.6 2020.8 357.6 2021 357.1 2021.3C356.7 2021.6 355.9 2022.4 355.7 2022.9C355.4 2023.5 355.1 2024.7 355.1 2025.4C355.1 2026 353.8 2023.4 355.6 2028C357.4 2032.6 366.9 2055.6 368.9 2060.2C370.9 2064.7 370 2061.8 370.5 2062.2C371 2062.6 372.2 2063 372.8 2063C373.5 2063 374.7 2062.6 375.3 2062.3C375.9 2061.9 376.8 2060.9 377.1 2060.3C377.5 2059.6 377.8 2058.3 377.9 2057.6C377.9 2056.8 379.4 2059.4 377.3 2054.9C375.3 2050.4 364.8 2028.2 362.7 2023.8Z" stroke="#5a5a5a" stroke-width="1.1"/>
<path d="M361.2 2024.7C359.2 2020.4 360.6 2023.8 360.3 2023.6C360.1 2023.4 359.5 2023.1 359.2 2023.1C358.9 2023 358.3 2023.1 358 2023.3C357.8 2023.5 357.3 2023.9 357.2 2024.2C357 2024.6 356.9 2025.3 356.9 2025.6C356.9 2026 355.3 2022.7 357.2 2027.1C359 2031.6 368.8 2054.7 370.8 2059.1C372.7 2063.5 371.4 2060 371.7 2060.2C372 2060.4 372.6 2060.6 373 2060.6C373.4 2060.6 374.1 2060.4 374.4 2060.2C374.7 2060 375.2 2059.5 375.4 2059.1C375.6 2058.8 375.9 2058 375.9 2057.6C375.9 2057.2 377.5 2060.4 375.6 2056.1C373.6 2051.7 363.2 2029.1 361.2 2024.7Z" stroke="#747474" stroke-width="1"/>
<path d="M353 2029.5C351.2 2024.9 352 2027.8 351.6 2027.3C351.1 2026.9 350.1 2026.3 349.5 2026.2C348.9 2026 347.9 2026.1 347.4 2026.4C346.9 2026.6 346 2027.4 345.7 2027.9C345.4 2028.4 345 2029.7 344.9 2030.4C344.8 2031.1 343.7 2028.3 345.2 2033.1C346.7 2037.9 354.7 2061.6 356.4 2066.3C358 2071 357.3 2068.1 357.9 2068.5C358.4 2069 359.6 2069.5 360.3 2069.6C361 2069.6 362.3 2069.4 362.9 2069.1C363.6 2068.8 364.7 2067.8 365.1 2067.2C365.5 2066.6 366 2065.3 366.1 2064.5C366.2 2063.8 367.5 2066.4 365.7 2061.7C364 2057.1 354.9 2034.1 353 2029.5Z" stroke="#5a5a5a" stroke-width="1.1"/>
<path d="M351.5 2030.3C349.7 2025.8 350.9 2029.3 350.6 2029C350.3 2028.7 349.7 2028.4 349.4 2028.3C349.1 2028.2 348.4 2028.3 348.1 2028.4C347.8 2028.6 347.3 2029 347.1 2029.3C346.9 2029.7 346.7 2030.4 346.7 2030.8C346.6 2031.2 345.3 2027.8 346.9 2032.4C348.4 2037 356.7 2060.8 358.3 2065.4C360 2070 358.9 2066.4 359.2 2066.7C359.5 2067 360.3 2067.3 360.6 2067.3C361 2067.3 361.8 2067.2 362.2 2067C362.6 2066.8 363.2 2066.3 363.4 2065.9C363.7 2065.6 364 2064.8 364 2064.4C364.1 2063.9 365.5 2067.3 363.8 2062.7C362.2 2058.2 353.2 2034.8 351.5 2030.3Z" stroke="#747474" stroke-width="1"/>
<path d="M342.4 2034.4C340.8 2029.7 341.5 2032.5 341 2032C340.5 2031.5 339.5 2030.8 338.9 2030.6C338.3 2030.4 337.2 2030.5 336.7 2030.6C336.1 2030.8 335.2 2031.5 334.8 2032.1C334.4 2032.6 333.9 2033.8 333.8 2034.5C333.6 2035.2 332.7 2032.5 333.9 2037.4C335.1 2042.3 341.4 2066.4 342.8 2071.3C344.1 2076.1 343.7 2073.2 344.2 2073.7C344.7 2074.3 345.9 2074.9 346.6 2075.1C347.3 2075.2 348.7 2075.1 349.4 2074.8C350.1 2074.6 351.3 2073.7 351.8 2073.2C352.3 2072.6 352.9 2071.2 353 2070.5C353.2 2069.7 354.3 2072.4 352.9 2067.6C351.5 2062.8 344 2039.2 342.4 2034.4Z" stroke="#5a5a5a" stroke-width="1.1"/>
<path d="M340.7 2035C339.3 2030.4 340.2 2033.9 339.9 2033.6C339.6 2033.3 339 2032.9 338.6 2032.7C338.3 2032.6 337.6 2032.6 337.3 2032.8C336.9 2032.9 336.4 2033.3 336.1 2033.6C335.9 2033.9 335.6 2034.7 335.5 2035.1C335.5 2035.5 334.4 2032.1 335.6 2036.8C336.9 2041.6 343.5 2065.9 344.8 2070.6C346.2 2075.3 345.4 2071.8 345.7 2072.1C346 2072.4 346.7 2072.8 347.1 2072.9C347.6 2072.9 348.4 2072.9 348.8 2072.7C349.2 2072.6 349.9 2072.1 350.2 2071.7C350.5 2071.4 350.9 2070.6 351 2070.1C351.1 2069.7 352.3 2073.1 350.9 2068.4C349.5 2063.7 342.2 2039.7 340.7 2035Z" stroke="#747474" stroke-width="1"/>
<path d="M330.8 2038.4C329.6 2033.5 330 2036.4 329.6 2035.8C329.1 2035.3 328.1 2034.5 327.5 2034.2C326.9 2034 325.8 2033.9 325.2 2034C324.6 2034.2 323.6 2034.8 323.1 2035.3C322.7 2035.8 322.1 2037 321.9 2037.7C321.7 2038.5 321 2035.7 321.8 2040.7C322.7 2045.7 327.3 2070.2 328.3 2075.2C329.4 2080.1 329.1 2077.2 329.6 2077.8C330.1 2078.4 331.3 2079.1 332 2079.4C332.7 2079.6 334.2 2079.6 334.9 2079.4C335.7 2079.2 337 2078.5 337.5 2077.9C338.1 2077.4 338.8 2076.1 339 2075.3C339.2 2074.6 340.1 2077.3 339.1 2072.3C338 2067.4 332.1 2043.3 330.8 2038.4Z" stroke="#5a5a5a" stroke-width="1.1"/>
<path d="M329.1 2038.9C328 2034.1 328.6 2037.6 328.4 2037.3C328.1 2036.9 327.5 2036.5 327.1 2036.3C326.7 2036.2 326 2036.1 325.6 2036.2C325.3 2036.3 324.6 2036.7 324.4 2037C324.1 2037.3 323.7 2038 323.6 2038.5C323.5 2038.9 322.7 2035.5 323.6 2040.3C324.5 2045.1 329.4 2069.9 330.4 2074.7C331.4 2079.5 330.9 2075.9 331.2 2076.3C331.5 2076.6 332.3 2077.1 332.7 2077.2C333.1 2077.4 334 2077.4 334.5 2077.3C334.9 2077.1 335.7 2076.7 336 2076.3C336.4 2076 336.8 2075.2 337 2074.8C337.1 2074.3 338.1 2077.7 337 2072.9C336 2068.1 330.3 2043.6 329.1 2038.9Z" stroke="#747474" stroke-width="1"/>
<path d="M318.6 2041.4C317.7 2036.5 317.9 2039.3 317.5 2038.7C317.1 2038.1 316.1 2037.2 315.5 2036.9C314.9 2036.6 313.7 2036.4 313.1 2036.5C312.5 2036.6 311.4 2037.2 310.9 2037.6C310.5 2038.1 309.7 2039.3 309.5 2040C309.3 2040.7 308.7 2037.9 309.2 2043C309.7 2048 312.6 2072.8 313.3 2077.8C313.9 2082.8 313.9 2080 314.4 2080.6C314.8 2081.2 316 2082.1 316.7 2082.4C317.4 2082.7 318.9 2082.8 319.7 2082.7C320.5 2082.6 321.9 2081.9 322.4 2081.4C323 2080.9 323.9 2079.7 324.2 2078.9C324.4 2078.2 325.2 2080.9 324.4 2075.9C323.7 2070.9 319.5 2046.4 318.6 2041.4Z" stroke="#5a5a5a" stroke-width="1.1"/>
<path d="M316.9 2041.8C316 2036.9 316.4 2040.4 316.2 2040C315.9 2039.7 315.3 2039.1 314.9 2038.9C314.6 2038.7 313.8 2038.6 313.4 2038.7C313 2038.7 312.4 2039.1 312.1 2039.4C311.8 2039.7 311.3 2040.4 311.2 2040.9C311 2041.3 310.4 2037.8 311 2042.7C311.6 2047.6 314.7 2072.6 315.4 2077.5C316.1 2082.4 315.8 2078.9 316.1 2079.2C316.4 2079.6 317.1 2080.2 317.6 2080.4C318 2080.5 318.9 2080.6 319.4 2080.5C319.9 2080.5 320.7 2080.1 321.1 2079.7C321.5 2079.4 322 2078.7 322.2 2078.2C322.3 2077.7 323.1 2081.2 322.4 2076.3C321.6 2071.5 317.7 2046.6 316.9 2041.8Z" stroke="#747474" stroke-width="1"/>
<path d="M305.9 2043.4C305.3 2038.4 305.3 2041.2 305 2040.6C304.6 2039.9 303.6 2038.9 303.1 2038.6C302.5 2038.2 301.3 2037.9 300.7 2038C300 2038 298.9 2038.5 298.4 2039C297.9 2039.4 297 2040.5 296.8 2041.2C296.5 2041.9 296.1 2039.1 296.3 2044.2C296.4 2049.3 297.5 2074.2 297.8 2079.2C298.2 2084.3 298.3 2081.5 298.7 2082.1C299.2 2082.8 300.3 2083.8 301 2084.2C301.7 2084.5 303.2 2084.8 304 2084.7C304.8 2084.7 306.2 2084.1 306.8 2083.7C307.5 2083.2 308.5 2082 308.8 2081.3C309.1 2080.6 309.7 2083.3 309.3 2078.3C308.9 2073.2 306.4 2048.5 305.9 2043.4Z" stroke="#5a5a5a" stroke-width="1.1"/>
<path d="M304.1 2043.6C303.6 2038.7 303.8 2042.2 303.5 2041.8C303.3 2041.4 302.7 2040.8 302.3 2040.6C302 2040.3 301.2 2040.2 300.8 2040.2C300.4 2040.2 299.7 2040.5 299.4 2040.8C299 2041.1 298.5 2041.8 298.4 2042.2C298.2 2042.7 297.8 2039.2 298.1 2044.1C298.3 2049 299.6 2074.2 300 2079.1C300.3 2084 300.3 2080.5 300.6 2080.9C300.8 2081.3 301.5 2082 302 2082.2C302.4 2082.4 303.3 2082.6 303.8 2082.5C304.3 2082.5 305.2 2082.2 305.6 2081.9C306 2081.6 306.6 2080.8 306.8 2080.4C307 2079.9 307.5 2083.4 307.1 2078.5C306.8 2073.6 304.6 2048.5 304.1 2043.6Z" stroke="#747474" stroke-width="1"/>
<path d="M292.8 2044.4C292.6 2039.3 292.5 2042.1 292.1 2041.4C291.8 2040.7 290.9 2039.7 290.4 2039.3C289.8 2038.9 288.6 2038.5 288 2038.5C287.4 2038.5 286.2 2038.9 285.6 2039.3C285.1 2039.7 284.2 2040.7 283.9 2041.4C283.5 2042.1 283.4 2039.3 283.2 2044.4C282.9 2049.4 282.3 2074.3 282.2 2079.4C282.2 2084.5 282.6 2081.7 282.9 2082.4C283.3 2083.1 284.4 2084.2 285 2084.6C285.7 2085 287.2 2085.4 288 2085.4C288.8 2085.4 290.3 2085 291 2084.6C291.6 2084.2 292.7 2083.1 293.1 2082.4C293.4 2081.7 293.8 2084.5 293.8 2079.4C293.7 2074.3 293.1 2049.4 292.8 2044.4Z" stroke="#5a5a5a" stroke-width="1.1"/>
<path d="M291.1 2044.4C290.9 2039.5 290.8 2043 290.6 2042.5C290.4 2042.1 289.8 2041.4 289.5 2041.2C289.1 2040.9 288.4 2040.7 288 2040.7C287.6 2040.7 286.9 2040.9 286.5 2041.2C286.2 2041.4 285.6 2042.1 285.4 2042.5C285.2 2043 285.1 2039.5 284.9 2044.4C284.8 2049.3 284.4 2074.5 284.4 2079.4C284.4 2084.4 284.6 2080.9 284.8 2081.3C285.1 2081.7 285.7 2082.4 286.2 2082.7C286.6 2082.9 287.5 2083.2 288 2083.2C288.5 2083.2 289.4 2082.9 289.8 2082.7C290.3 2082.4 290.9 2081.7 291.2 2081.3C291.4 2080.9 291.6 2084.4 291.6 2079.4C291.6 2074.5 291.2 2049.3 291.1 2044.4Z" stroke="#747474" stroke-width="1"/>
<path d="M279.7 2044.2C279.9 2039.1 279.5 2041.9 279.2 2041.2C279 2040.5 278.1 2039.4 277.6 2039C277.1 2038.5 276 2038 275.3 2038C274.7 2037.9 273.5 2038.2 272.9 2038.6C272.4 2038.9 271.4 2039.9 271 2040.6C270.7 2041.2 270.7 2038.4 270.1 2043.4C269.6 2048.5 267.1 2073.2 266.7 2078.3C266.3 2083.3 266.9 2080.6 267.2 2081.3C267.5 2082 268.5 2083.2 269.2 2083.7C269.8 2084.1 271.2 2084.7 272 2084.7C272.8 2084.8 274.3 2084.5 275 2084.2C275.7 2083.8 276.8 2082.8 277.3 2082.1C277.7 2081.5 277.8 2084.3 278.2 2079.2C278.5 2074.2 279.6 2049.3 279.7 2044.2Z" stroke="#5a5a5a" stroke-width="1.1"/>
<path d="M277.9 2044.1C278.2 2039.2 277.8 2042.7 277.6 2042.2C277.5 2041.8 277 2041.1 276.6 2040.8C276.3 2040.5 275.6 2040.2 275.2 2040.2C274.8 2040.2 274 2040.3 273.7 2040.6C273.3 2040.8 272.7 2041.4 272.5 2041.8C272.2 2042.2 272.4 2038.7 271.9 2043.6C271.4 2048.5 269.2 2073.6 268.9 2078.5C268.5 2083.4 269 2079.9 269.2 2080.4C269.4 2080.8 270 2081.6 270.4 2081.9C270.8 2082.2 271.7 2082.5 272.2 2082.5C272.7 2082.6 273.6 2082.4 274 2082.2C274.5 2082 275.2 2081.3 275.4 2080.9C275.7 2080.5 275.7 2084 276 2079.1C276.4 2074.2 277.7 2049 277.9 2044.1Z" stroke="#747474" stroke-width="1"/>
<path d="M266.8 2043C267.3 2037.9 266.7 2040.7 266.5 2040C266.3 2039.3 265.5 2038.1 265.1 2037.6C264.6 2037.2 263.5 2036.6 262.9 2036.5C262.3 2036.4 261.1 2036.6 260.5 2036.9C259.9 2037.2 258.9 2038.1 258.5 2038.7C258.1 2039.3 258.3 2036.5 257.4 2041.4C256.5 2046.4 252.3 2070.9 251.6 2075.9C250.8 2080.9 251.6 2078.2 251.8 2078.9C252.1 2079.7 253 2080.9 253.6 2081.4C254.1 2081.9 255.5 2082.6 256.3 2082.7C257.1 2082.8 258.6 2082.7 259.3 2082.4C260 2082.1 261.2 2081.2 261.6 2080.6C262.1 2080 262.1 2082.8 262.7 2077.8C263.4 2072.8 266.3 2048 266.8 2043Z" stroke="#5a5a5a" stroke-width="1.1"/>
<path d="M265 2042.7C265.6 2037.8 265 2041.3 264.8 2040.9C264.7 2040.4 264.2 2039.7 263.9 2039.4C263.6 2039.1 263 2038.7 262.6 2038.7C262.2 2038.6 261.4 2038.7 261.1 2038.9C260.7 2039.1 260.1 2039.7 259.8 2040C259.6 2040.4 260 2036.9 259.1 2041.8C258.3 2046.6 254.4 2071.5 253.6 2076.3C252.9 2081.2 253.7 2077.7 253.8 2078.2C254 2078.7 254.5 2079.4 254.9 2079.7C255.3 2080.1 256.1 2080.5 256.6 2080.5C257.1 2080.6 258 2080.5 258.4 2080.4C258.9 2080.2 259.6 2079.6 259.9 2079.2C260.2 2078.9 259.9 2082.4 260.6 2077.5C261.3 2072.6 264.4 2047.6 265 2042.7Z" stroke="#747474" stroke-width="1"/>
<path d="M254.2 2040.7C255 2035.7 254.3 2038.5 254.1 2037.7C253.9 2037 253.3 2035.8 252.9 2035.3C252.4 2034.8 251.4 2034.2 250.8 2034C250.2 2033.9 249.1 2034 248.5 2034.2C247.9 2034.5 246.9 2035.3 246.4 2035.8C246 2036.4 246.4 2033.5 245.2 2038.4C243.9 2043.3 238 2067.4 236.9 2072.3C235.9 2077.3 236.8 2074.6 237 2075.3C237.2 2076.1 237.9 2077.4 238.5 2077.9C239 2078.5 240.3 2079.2 241.1 2079.4C241.8 2079.6 243.3 2079.6 244 2079.4C244.7 2079.1 245.9 2078.4 246.4 2077.8C246.9 2077.2 246.6 2080.1 247.7 2075.2C248.7 2070.2 253.3 2045.7 254.2 2040.7Z" stroke="#5a5a5a" stroke-width="1.1"/>
<path d="M252.4 2040.3C253.3 2035.5 252.5 2038.9 252.4 2038.5C252.3 2038 251.9 2037.3 251.6 2037C251.4 2036.7 250.7 2036.3 250.4 2036.2C250 2036.1 249.3 2036.2 248.9 2036.3C248.5 2036.5 247.9 2036.9 247.6 2037.3C247.4 2037.6 248 2034.1 246.9 2038.9C245.7 2043.6 240 2068.1 239 2072.9C237.9 2077.7 238.9 2074.3 239 2074.8C239.2 2075.2 239.6 2076 240 2076.3C240.3 2076.7 241.1 2077.1 241.5 2077.3C242 2077.4 242.9 2077.4 243.3 2077.2C243.7 2077.1 244.5 2076.6 244.8 2076.3C245.1 2075.9 244.6 2079.5 245.6 2074.7C246.6 2069.9 251.5 2045.1 252.4 2040.3Z" stroke="#747474" stroke-width="1"/>
<path d="M242.1 2037.4C243.3 2032.5 242.4 2035.2 242.2 2034.5C242.1 2033.8 241.6 2032.6 241.2 2032.1C240.8 2031.5 239.9 2030.8 239.3 2030.6C238.8 2030.5 237.7 2030.4 237.1 2030.6C236.5 2030.8 235.5 2031.5 235 2032C234.5 2032.5 235.2 2029.7 233.6 2034.4C232 2039.2 224.5 2062.8 223.1 2067.6C221.7 2072.4 222.8 2069.7 223 2070.5C223.1 2071.2 223.7 2072.6 224.2 2073.2C224.7 2073.7 225.9 2074.6 226.6 2074.8C227.3 2075.1 228.7 2075.2 229.4 2075.1C230.1 2074.9 231.3 2074.3 231.8 2073.7C232.3 2073.2 231.9 2076.1 233.2 2071.3C234.6 2066.4 240.9 2042.3 242.1 2037.4Z" stroke="#5a5a5a" stroke-width="1.1"/>
<path d="M240.4 2036.8C241.6 2032.1 240.5 2035.5 240.5 2035.1C240.4 2034.7 240.1 2033.9 239.9 2033.6C239.6 2033.3 239.1 2032.9 238.7 2032.8C238.4 2032.6 237.7 2032.6 237.4 2032.7C237 2032.9 236.4 2033.3 236.1 2033.6C235.8 2033.9 236.7 2030.4 235.3 2035C233.8 2039.7 226.5 2063.7 225.1 2068.4C223.7 2073.1 224.9 2069.7 225 2070.1C225.1 2070.6 225.5 2071.4 225.8 2071.7C226.1 2072.1 226.8 2072.6 227.2 2072.7C227.6 2072.9 228.4 2072.9 228.9 2072.9C229.3 2072.8 230 2072.4 230.3 2072.1C230.6 2071.8 229.8 2075.3 231.2 2070.6C232.5 2065.9 239.1 2041.6 240.4 2036.8Z" stroke="#747474" stroke-width="1"/>
<path d="M230.8 2033.1C232.3 2028.3 231.2 2031.1 231.1 2030.4C231 2029.7 230.6 2028.4 230.3 2027.9C230 2027.4 229.1 2026.6 228.6 2026.4C228.1 2026.1 227.1 2026 226.5 2026.2C225.9 2026.3 224.9 2026.9 224.4 2027.3C224 2027.8 224.8 2024.9 223 2029.5C221.1 2034.1 212 2057.1 210.3 2061.7C208.5 2066.4 209.8 2063.8 209.9 2064.5C210 2065.3 210.5 2066.6 210.9 2067.2C211.3 2067.8 212.4 2068.8 213.1 2069.1C213.7 2069.4 215 2069.6 215.7 2069.6C216.4 2069.5 217.6 2069 218.1 2068.5C218.7 2068.1 218 2071 219.6 2066.3C221.3 2061.6 229.3 2037.9 230.8 2033.1Z" stroke="#5a5a5a" stroke-width="1.1"/>
<path d="M229.1 2032.4C230.7 2027.8 229.4 2031.2 229.3 2030.8C229.3 2030.4 229.1 2029.7 228.9 2029.3C228.7 2029 228.2 2028.6 227.9 2028.4C227.6 2028.3 226.9 2028.2 226.6 2028.3C226.3 2028.4 225.7 2028.7 225.4 2029C225.1 2029.3 226.3 2025.8 224.5 2030.3C222.8 2034.8 213.8 2058.2 212.2 2062.7C210.5 2067.3 211.9 2063.9 212 2064.4C212 2064.8 212.3 2065.6 212.6 2065.9C212.8 2066.3 213.4 2066.8 213.8 2067C214.2 2067.2 215 2067.3 215.4 2067.3C215.7 2067.3 216.5 2067 216.8 2066.7C217.1 2066.4 216 2070 217.7 2065.4C219.3 2060.8 227.6 2037 229.1 2032.4Z" stroke="#747474" stroke-width="1"/>
<path d="M220.4 2028C222.2 2023.4 220.9 2026 220.9 2025.4C220.9 2024.7 220.6 2023.5 220.3 2022.9C220.1 2022.4 219.3 2021.6 218.9 2021.3C218.4 2021 217.4 2020.8 216.9 2020.9C216.4 2021 215.3 2021.4 214.9 2021.8C214.4 2022.2 215.5 2019.4 213.3 2023.8C211.2 2028.2 200.7 2050.4 198.7 2054.9C196.6 2059.4 198.1 2056.8 198.1 2057.6C198.2 2058.3 198.5 2059.6 198.9 2060.3C199.2 2060.9 200.1 2061.9 200.7 2062.3C201.3 2062.6 202.5 2063 203.2 2063C203.8 2063 205 2062.6 205.5 2062.2C206 2061.8 205.1 2064.7 207.1 2060.2C209.1 2055.6 218.6 2032.6 220.4 2028Z" stroke="#5a5a5a" stroke-width="1.1"/>
<path d="M218.8 2027.1C220.7 2022.7 219.1 2026 219.1 2025.6C219.1 2025.3 219 2024.6 218.8 2024.2C218.7 2023.9 218.2 2023.5 218 2023.3C217.7 2023.1 217.1 2023 216.8 2023.1C216.5 2023.1 215.9 2023.4 215.7 2023.6C215.4 2023.8 216.8 2020.4 214.8 2024.7C212.8 2029.1 202.4 2051.7 200.4 2056.1C198.5 2060.4 200.1 2057.2 200.1 2057.6C200.1 2058 200.4 2058.8 200.6 2059.1C200.8 2059.5 201.3 2060 201.6 2060.2C201.9 2060.4 202.6 2060.6 203 2060.6C203.4 2060.6 204 2060.4 204.3 2060.2C204.6 2060 203.3 2063.5 205.2 2059.1C207.2 2054.7 217 2031.6 218.8 2027.1Z" stroke="#747474" stroke-width="1"/>
<path d="M211.1 2022.1C213.2 2017.6 211.7 2020.3 211.7 2019.6C211.8 2018.9 211.6 2017.7 211.4 2017.2C211.2 2016.6 210.6 2015.8 210.2 2015.5C209.8 2015.2 208.9 2014.9 208.4 2014.9C207.9 2014.9 206.9 2015.3 206.5 2015.6C206 2015.9 207.3 2013.2 204.9 2017.4C202.5 2021.6 190.7 2042.8 188.4 2047.1C186.1 2051.4 187.8 2048.9 187.7 2049.6C187.7 2050.3 187.9 2051.7 188.2 2052.3C188.5 2053 189.3 2054 189.8 2054.4C190.3 2054.8 191.4 2055.3 192 2055.4C192.6 2055.4 193.7 2055.2 194.2 2054.9C194.7 2054.5 193.6 2057.4 195.8 2053C198.1 2048.7 209 2026.6 211.1 2022.1Z" stroke="#5a5a5a" stroke-width="1.1"/>
<path d="M209.6 2021.1C211.8 2016.8 210 2020.1 210 2019.7C210 2019.3 209.9 2018.7 209.8 2018.4C209.7 2018.1 209.4 2017.6 209.2 2017.4C208.9 2017.3 208.4 2017.1 208.2 2017.1C207.9 2017.1 207.4 2017.3 207.1 2017.5C206.9 2017.7 208.5 2014.3 206.3 2018.5C204 2022.6 192.2 2044.3 190 2048.5C187.8 2052.7 189.7 2049.5 189.7 2049.9C189.6 2050.3 189.8 2051 189.9 2051.3C190.1 2051.7 190.5 2052.3 190.8 2052.5C191.1 2052.7 191.7 2053 192 2053C192.3 2053 192.9 2052.9 193.2 2052.7C193.5 2052.5 191.9 2056 194.1 2051.7C196.3 2047.5 207.5 2025.3 209.6 2021.1Z" stroke="#747474" stroke-width="1"/>
<path d="M203 2015.5C205.4 2011.3 203.7 2013.8 203.8 2013.2C203.9 2012.5 203.8 2011.3 203.7 2010.8C203.5 2010.2 203.1 2009.4 202.7 2009C202.4 2008.7 201.6 2008.3 201.2 2008.3C200.7 2008.3 199.8 2008.5 199.4 2008.8C198.9 2009 200.4 2006.4 197.8 2010.3C195.2 2014.3 182.3 2034.4 179.8 2038.5C177.2 2042.6 179 2040.2 178.9 2040.9C178.8 2041.6 178.9 2042.9 179.1 2043.5C179.3 2044.2 179.9 2045.3 180.3 2045.8C180.8 2046.2 181.7 2046.8 182.3 2046.9C182.8 2047 183.9 2046.9 184.4 2046.6C184.8 2046.4 183.5 2049.2 186 2045C188.5 2040.9 200.6 2019.8 203 2015.5Z" stroke="#5a5a5a" stroke-width="1.1"/>
<path d="M201.7 2014.3C204.1 2010.3 202.1 2013.4 202.1 2013.1C202.2 2012.8 202.2 2012.1 202.1 2011.8C202 2011.6 201.8 2011.1 201.6 2010.9C201.4 2010.7 201 2010.5 200.7 2010.5C200.5 2010.5 200 2010.6 199.8 2010.8C199.6 2010.9 201.5 2007.7 199 2011.6C196.5 2015.5 183.6 2036.1 181.2 2040.1C178.7 2044.1 180.8 2041 180.7 2041.3C180.7 2041.7 180.7 2042.4 180.8 2042.7C180.9 2043.1 181.3 2043.7 181.5 2043.9C181.7 2044.1 182.2 2044.4 182.5 2044.5C182.8 2044.5 183.3 2044.5 183.6 2044.3C183.8 2044.2 182 2047.5 184.4 2043.5C186.8 2039.5 199.3 2018.4 201.7 2014.3Z" stroke="#747474" stroke-width="1"/>
<path d="M196.3 2008.4C198.8 2004.4 197 2006.8 197.2 2006.2C197.3 2005.6 197.4 2004.4 197.3 2003.9C197.2 2003.3 196.9 2002.4 196.6 2002C196.3 2001.7 195.7 2001.2 195.3 2001.2C194.9 2001.1 194.1 2001.2 193.7 2001.5C193.3 2001.7 194.9 1999.1 192.1 2002.8C189.4 2006.5 175.5 2025.4 172.8 2029.2C170.1 2033 172 2030.8 171.8 2031.5C171.7 2032.1 171.6 2033.4 171.7 2034.1C171.9 2034.7 172.3 2035.9 172.6 2036.4C173 2036.8 173.8 2037.5 174.3 2037.7C174.7 2037.8 175.7 2037.8 176.1 2037.6C176.6 2037.4 175.1 2040.1 177.7 2036.2C180.4 2032.3 193.7 2012.4 196.3 2008.4Z" stroke="#5a5a5a" stroke-width="1.1"/>
<path d="M195.1 2007C197.7 2003.2 195.6 2006.2 195.6 2005.9C195.7 2005.6 195.7 2005 195.7 2004.8C195.7 2004.5 195.5 2004 195.4 2003.8C195.2 2003.7 194.9 2003.4 194.7 2003.4C194.5 2003.4 194.1 2003.4 193.9 2003.5C193.7 2003.7 195.8 2000.6 193.1 2004.2C190.4 2007.9 176.6 2027.3 173.9 2031C171.3 2034.7 173.5 2031.8 173.5 2032.1C173.4 2032.5 173.4 2033.1 173.4 2033.4C173.5 2033.8 173.7 2034.3 173.9 2034.6C174.1 2034.8 174.5 2035.1 174.7 2035.2C174.9 2035.3 175.4 2035.3 175.6 2035.2C175.8 2035.1 173.8 2038.3 176.4 2034.5C179 2030.7 192.6 2010.8 195.1 2007Z" stroke="#747474" stroke-width="1"/>
<path d="M190.9 2000.8C193.7 1997.1 191.8 1999.3 192 1998.7C192.2 1998.1 192.4 1997 192.3 1996.5C192.3 1995.9 192.1 1995 191.9 1994.6C191.7 1994.2 191.2 1993.8 190.9 1993.6C190.6 1993.5 189.8 1993.6 189.4 1993.8C189.1 1994 190.9 1991.6 188 1995C185.1 1998.4 170.5 2015.9 167.7 2019.4C164.8 2022.9 166.8 2020.9 166.6 2021.5C166.4 2022.1 166.2 2023.4 166.2 2024.1C166.2 2024.7 166.5 2025.9 166.7 2026.4C167 2026.9 167.6 2027.6 168 2027.8C168.4 2028 169.3 2028.1 169.7 2028C170.1 2027.8 168.4 2030.4 171.3 2026.8C174.1 2023.1 188.2 2004.5 190.9 2000.8Z" stroke="#5a5a5a" stroke-width="1.1"/>
<path d="M190.1 1999.3C192.8 1995.7 190.5 1998.6 190.6 1998.3C190.7 1998 190.8 1997.5 190.8 1997.2C190.8 1997 190.7 1996.5 190.6 1996.3C190.5 1996.2 190.2 1995.9 190.1 1995.9C189.9 1995.8 189.6 1995.8 189.4 1995.9C189.2 1996 191.4 1993.1 188.7 1996.5C185.9 1999.9 171.3 2017.9 168.5 2021.3C165.8 2024.8 168.1 2022.1 168 2022.4C167.9 2022.7 167.8 2023.3 167.9 2023.6C167.9 2023.9 168 2024.4 168.1 2024.7C168.2 2024.9 168.5 2025.2 168.7 2025.3C168.9 2025.4 169.3 2025.5 169.5 2025.4C169.7 2025.3 167.5 2028.3 170.2 2024.8C173 2021.4 187.4 2002.8 190.1 1999.3Z" stroke="#747474" stroke-width="1"/>
<path d="M187.1 1992.9C190 1989.5 188.1 1991.5 188.3 1991C188.5 1990.4 188.8 1989.3 188.9 1988.8C189 1988.2 188.9 1987.3 188.8 1986.9C188.7 1986.5 188.3 1986 188 1985.8C187.7 1985.7 187.1 1985.7 186.7 1985.8C186.4 1986 188.3 1983.8 185.3 1986.9C182.3 1990 167.4 2005.9 164.5 2009.2C161.6 2012.4 163.5 2010.5 163.3 2011.1C163 2011.7 162.7 2013 162.6 2013.7C162.5 2014.3 162.6 2015.5 162.8 2016C162.9 2016.5 163.4 2017.3 163.7 2017.5C164 2017.8 164.8 2017.9 165.2 2017.8C165.6 2017.7 163.8 2020.1 166.7 2016.8C169.6 2013.4 184.2 1996.4 187.1 1992.9Z" stroke="#5a5a5a" stroke-width="1.1"/>
<path d="M186.5 1991.3C189.3 1988.1 187 1990.7 187.1 1990.4C187.2 1990.2 187.3 1989.6 187.4 1989.4C187.4 1989.2 187.4 1988.7 187.3 1988.5C187.3 1988.4 187.1 1988.1 187 1988C186.8 1988 186.5 1988 186.4 1988C186.2 1988.1 188.5 1985.5 185.7 1988.5C182.8 1991.6 167.8 2008.1 165 2011.2C162.2 2014.4 164.5 2011.9 164.4 2012.2C164.3 2012.4 164.2 2013 164.1 2013.3C164.1 2013.6 164.2 2014.1 164.2 2014.4C164.3 2014.6 164.5 2014.9 164.6 2015.1C164.8 2015.2 165.1 2015.2 165.3 2015.2C165.5 2015.1 163.2 2017.9 166 2014.7C168.8 2011.5 183.7 1994.5 186.5 1991.3Z" stroke="#747474" stroke-width="1"/>
<path d="M184.8 1984.8C187.7 1981.7 185.8 1983.5 186.1 1983C186.4 1982.5 186.9 1981.4 187 1980.8C187.1 1980.3 187.2 1979.4 187.2 1979C187.2 1978.6 186.9 1978 186.7 1977.9C186.5 1977.7 185.9 1977.7 185.6 1977.8C185.3 1977.9 187.2 1976 184.2 1978.7C181.2 1981.5 166.3 1995.8 163.3 1998.7C160.4 2001.6 162.3 2000 161.9 2000.6C161.6 2001.1 161.1 2002.4 161 2003C160.8 2003.6 160.7 2004.8 160.8 2005.4C160.8 2005.9 161.1 2006.7 161.3 2007C161.6 2007.2 162.2 2007.4 162.6 2007.3C162.9 2007.3 161.1 2009.4 164.1 2006.4C167 2003.4 181.9 1988 184.8 1984.8Z" stroke="#5a5a5a" stroke-width="1.1"/>
<path d="M184.5 1983.2C187.4 1980.2 185 1982.6 185.1 1982.3C185.3 1982.1 185.5 1981.6 185.5 1981.4C185.6 1981.1 185.7 1980.7 185.6 1980.5C185.6 1980.4 185.5 1980.1 185.4 1980C185.3 1980 185.1 1979.9 184.9 1980C184.8 1980 187.1 1977.7 184.3 1980.4C181.4 1983.2 166.3 1998 163.4 2000.8C160.6 2003.7 163 2001.4 162.8 2001.7C162.7 2001.9 162.5 2002.5 162.4 2002.8C162.3 2003.1 162.3 2003.6 162.3 2003.8C162.3 2004 162.5 2004.4 162.6 2004.5C162.7 2004.6 162.9 2004.7 163.1 2004.7C163.3 2004.7 160.9 2007.1 163.8 2004.3C166.6 2001.4 181.7 1986.1 184.5 1983.2Z" stroke="#747474" stroke-width="1"/>
<path d="M184 1976.7C187 1973.9 185.2 1975.5 185.5 1974.9C185.9 1974.4 186.5 1973.4 186.7 1972.8C186.9 1972.3 187.2 1971.4 187.2 1971C187.2 1970.6 187.1 1970.1 187 1969.9C186.8 1969.7 186.4 1969.6 186.1 1969.7C185.7 1969.8 187.6 1968.2 184.6 1970.6C181.7 1973.1 167.1 1985.6 164.2 1988.1C161.3 1990.7 163 1989.4 162.7 1989.9C162.3 1990.5 161.6 1991.7 161.4 1992.3C161.1 1992.9 160.8 1994.1 160.8 1994.6C160.7 1995.2 160.8 1996 161 1996.3C161.2 1996.5 161.7 1996.8 162 1996.7C162.4 1996.6 160.6 1998.5 163.5 1995.8C166.4 1993.2 181.1 1979.5 184 1976.7Z" stroke="#5a5a5a" stroke-width="1.1"/>
<path d="M184.1 1975C186.9 1972.4 184.6 1974.5 184.8 1974.2C185 1974 185.2 1973.5 185.3 1973.3C185.4 1973.1 185.5 1972.7 185.6 1972.5C185.6 1972.3 185.5 1972 185.5 1972C185.4 1971.9 185.2 1971.9 185 1971.9C184.9 1971.9 187.2 1969.8 184.4 1972.3C181.6 1974.7 166.7 1987.8 163.9 1990.3C161.1 1992.8 163.4 1990.8 163.2 1991.1C163.1 1991.3 162.8 1991.9 162.7 1992.1C162.5 1992.4 162.4 1992.9 162.4 1993.2C162.4 1993.4 162.4 1993.8 162.5 1993.9C162.6 1994 162.8 1994.1 162.9 1994.1C163.1 1994.1 160.8 1996.2 163.6 1993.7C166.4 1991.2 181.3 1977.6 184.1 1975Z" stroke="#747474" stroke-width="1"/>
<path d="M184.8 1968.7C187.7 1966.2 186.1 1967.4 186.5 1966.9C186.9 1966.4 187.6 1965.4 188 1964.9C188.3 1964.4 188.7 1963.5 188.8 1963.1C188.9 1962.7 188.9 1962.2 188.8 1962C188.7 1961.8 188.4 1961.7 188.1 1961.8C187.8 1961.9 189.4 1960.5 186.6 1962.6C183.9 1964.7 170 1975.5 167.1 1977.7C164.3 1979.9 165.8 1978.9 165.4 1979.4C164.9 1980 164.1 1981.1 163.8 1981.7C163.4 1982.3 162.9 1983.5 162.8 1984C162.6 1984.5 162.6 1985.3 162.7 1985.6C162.8 1985.9 163.2 1986.1 163.5 1986.1C163.8 1986 162.1 1987.6 165 1985.3C167.8 1982.9 182 1971.1 184.8 1968.7Z" stroke="#5a5a5a" stroke-width="1.1"/>
<path d="M185.2 1967C188 1964.8 185.8 1966.5 186 1966.2C186.2 1966 186.5 1965.6 186.7 1965.3C186.8 1965.1 187 1964.7 187.1 1964.5C187.1 1964.3 187.1 1964 187.1 1964C187 1963.9 186.9 1963.8 186.7 1963.9C186.6 1963.9 188.8 1962.1 186.1 1964.3C183.4 1966.4 169.2 1977.6 166.4 1979.7C163.7 1981.9 165.9 1980.3 165.6 1980.5C165.4 1980.8 165.1 1981.3 164.9 1981.6C164.8 1981.9 164.5 1982.4 164.5 1982.6C164.4 1982.9 164.4 1983.2 164.4 1983.3C164.5 1983.5 164.6 1983.6 164.8 1983.6C164.9 1983.5 162.7 1985.4 165.5 1983.2C168.2 1981 182.5 1969.3 185.2 1967Z" stroke="#747474" stroke-width="1"/></g>
<ellipse cx="287.5" cy="1970.5" rx="93" ry="57" stroke="#666" stroke-width="1.1" fill="#fff"/>
<ellipse cx="287.5" cy="1969.5" rx="89.6" ry="54" stroke="#888" stroke-width="0.9"/>
<rect x="280.6" y="2008.4" width="11.4" height="12.8" rx="3.4" stroke="#666" stroke-width="1.1" fill="#fff"/>
<path d="M281.6 2011.6Q286.3 2009.4 291 2011.6" stroke="#999" stroke-width="0.8"/>
<ellipse cx="286.7" cy="1912.9" rx="89.6" ry="57" stroke="#666" stroke-width="1" fill="#fff"/>
<ellipse cx="286.7" cy="1910.7" rx="89.6" ry="57" stroke="#666" stroke-width="1.1" fill="#fff"/>
<ellipse cx="286" cy="1910.8" rx="49.4" ry="28.7" stroke="#666" stroke-width="1.1" fill="#fff"/>
<path d="M238.5 1908.6C238.8 1908 239.5 1906 240.2 1904.7C240.9 1903.5 241.7 1902.2 242.7 1901C243.7 1899.8 244.8 1898.7 246 1897.6C247.3 1896.4 248.7 1895.4 250.2 1894.4C251.7 1893.4 253.3 1892.5 255 1891.6C256.7 1890.8 258.6 1890 260.5 1889.3C262.4 1888.6 264.4 1887.9 266.4 1887.4C268.4 1886.8 270.6 1886.4 272.7 1886C274.9 1885.6 277.1 1885.4 279.3 1885.2C281.5 1885 283.8 1884.9 286 1884.9C288.2 1884.9 290.5 1885 292.7 1885.2C294.9 1885.4 297.1 1885.6 299.3 1886C301.4 1886.4 303.6 1886.8 305.6 1887.4C307.6 1887.9 309.6 1888.6 311.5 1889.3C313.4 1890 315.3 1890.8 317 1891.6C318.7 1892.5 320.3 1893.4 321.8 1894.4C323.3 1895.4 324.7 1896.4 326 1897.6C327.2 1898.7 328.3 1899.8 329.3 1901C330.3 1902.2 331.1 1903.5 331.8 1904.7C332.5 1906 333.2 1908 333.5 1908.6" stroke="#888" stroke-width="0.9"/>
<path d="M238.5 1917.6Q286 1900.6 334.5 1918.6" stroke="#666" stroke-width="1"/>
<path d="M240.5 1920.6Q286 1903.8 332.5 1921.4" stroke="#999" stroke-width="0.8"/>
<rect x="278" y="1914.8" width="19" height="6.4" rx="3.2" stroke="#777" stroke-width="1" fill="#fff"/>
<path d="M284 1916.4V1920M287.6 1915V1920.4" stroke="#555" stroke-width="1.3"/>
<text x="221.8" y="1915.3" transform="rotate(46 221.8 1915.3)" text-anchor="middle" dominant-baseline="central" font-family="'Liberation Sans', sans-serif" font-size="21.5" fill="#a4a4a4" stroke="none">3M</text>
<text x="355.3" y="1909.8" transform="rotate(50 355.3 1909.8)" text-anchor="middle" dominant-baseline="central" font-family="'Liberation Sans', sans-serif" font-size="21.5" fill="#a4a4a4" stroke="none">3M</text>
<path d="M399.7 1846.4H404.9V1870.4H409.2L402.2 1881.8L395.4 1870.4H399.7Z" fill="#403c3e" stroke="none"/>
<!-- ill6 -->
<line x1="657" y1="1880.3" x2="941" y2="1880.3" stroke="#777" stroke-width="1.4"/>
<g><line x1="673.7" y1="1879.4" x2="679.1" y2="1871" stroke="#777" stroke-width="1"/>
<line x1="685.6" y1="1879.4" x2="691" y2="1871" stroke="#777" stroke-width="1"/>
<line x1="697.6" y1="1879.4" x2="703" y2="1871" stroke="#777" stroke-width="1"/>
<line x1="709.5" y1="1879.4" x2="714.9" y2="1871" stroke="#777" stroke-width="1"/>
<line x1="721.5" y1="1879.4" x2="726.9" y2="1871" stroke="#777" stroke-width="1"/>
<line x1="733.4" y1="1879.4" x2="738.8" y2="1871" stroke="#777" stroke-width="1"/>
<line x1="745.3" y1="1879.4" x2="750.7" y2="1871" stroke="#777" stroke-width="1"/>
<line x1="757.3" y1="1879.4" x2="762.7" y2="1871" stroke="#777" stroke-width="1"/>
<line x1="769.2" y1="1879.4" x2="774.6" y2="1871" stroke="#777" stroke-width="1"/>
<line x1="781.2" y1="1879.4" x2="786.6" y2="1871" stroke="#777" stroke-width="1"/>
<line x1="793.1" y1="1879.4" x2="798.5" y2="1871" stroke="#777" stroke-width="1"/>
<line x1="805" y1="1879.4" x2="810.4" y2="1871" stroke="#777" stroke-width="1"/>
<line x1="817" y1="1879.4" x2="822.4" y2="1871" stroke="#777" stroke-width="1"/>
<line x1="828.9" y1="1879.4" x2="834.3" y2="1871" stroke="#777" stroke-width="1"/>
<line x1="840.9" y1="1879.4" x2="846.3" y2="1871" stroke="#777" stroke-width="1"/>
<line x1="852.8" y1="1879.4" x2="858.2" y2="1871" stroke="#777" stroke-width="1"/>
<line x1="864.7" y1="1879.4" x2="870.1" y2="1871" stroke="#777" stroke-width="1"/>
<line x1="876.7" y1="1879.4" x2="882.1" y2="1871" stroke="#777" stroke-width="1"/>
<line x1="888.6" y1="1879.4" x2="894" y2="1871" stroke="#777" stroke-width="1"/>
<line x1="900.6" y1="1879.4" x2="906" y2="1871" stroke="#777" stroke-width="1"/>
<line x1="912.5" y1="1879.4" x2="917.9" y2="1871" stroke="#777" stroke-width="1"/>
<line x1="924.4" y1="1879.4" x2="929.8" y2="1871" stroke="#777" stroke-width="1"/></g>
<path d="M720.3 1880.6V1883.7H869.9V1880.6M720.3 1883.7L717.6 1884.4L688.6 1919.7Q684 1929 682.5 1944.3Q683.2 1957 688.6 1968Q692 1973.6 698 1975.2" stroke="#5a5a5a" stroke-width="1.1"/>
<path d="M869.9 1883.7L872.5 1884.4L900.6 1919.7Q906.4 1930.5 908.5 1944.3Q908 1956 902.4 1968.9Q898.6 1973.8 893.6 1975.4" stroke="#5a5a5a" stroke-width="1.1"/>
<line x1="682.5" y1="1944.3" x2="908.5" y2="1944.3" stroke="#8c8c8c" stroke-width="1.1"/>
<line x1="698" y1="1975.2" x2="893.6" y2="1975.2" stroke="#888" stroke-width="1"/>
<line x1="702" y1="1977.2" x2="889" y2="1977.2" stroke="#aaa" stroke-width="0.9"/>
<path d="M790.5 1977.2Q795 1979.6 799.5 1977.2" stroke="#888" stroke-width="0.9"/>
<g fill="#5a5a5a" stroke="none"><path d="M746.7 1911.9L747.3 1911.9L750.7 1895.7L750.2 1895.7Z"/>
<path d="M754.8 1911.9L756.8 1911.9L759.4 1895.7L757.6 1895.7Z"/>
<path d="M763.5 1911.9L766.7 1911.9L768.6 1895.7L765.7 1895.7Z"/>
<path d="M772.8 1911.9L777 1911.9L778.2 1895.7L774.2 1895.7Z"/>
<path d="M782.4 1911.9L787.5 1911.9L788 1895.7L783.3 1895.7Z"/>
<path d="M792.6 1911.9L798 1911.9L797.8 1895.7L792.8 1895.7Z"/>
<path d="M803.1 1911.9L808.2 1911.9L807.3 1895.7L802.6 1895.7Z"/>
<path d="M813.6 1911.9L817.8 1911.9L816.4 1895.7L812.4 1895.7Z"/>
<path d="M823.9 1911.9L827.1 1911.9L824.9 1895.7L822 1895.7Z"/>
<path d="M833.8 1911.9L835.8 1911.9L833 1895.7L831.2 1895.7Z"/>
<path d="M843.3 1911.9L843.9 1911.9L840.4 1895.7L839.9 1895.7Z"/></g>
<g stroke-width="0.8" stroke="#777"><path d="M691.4 1916.7L690.4 1917.9L689.6 1919L688.9 1919.9L688.5 1920.4L688.4 1920.6L688.6 1920.4L689.1 1919.9L689.8 1919L690.7 1917.9L691.7 1916.7L708.4 1895.5L709.3 1894.3L710.2 1893.2L710.8 1892.3L711.2 1891.8L711.3 1891.6L711.2 1891.8L710.7 1892.3L710 1893.2L709.2 1894.3L708.2 1895.5Z"/>
<path d="M691.4 1916.7L690.8 1917.5L690.2 1918.2L689.8 1918.8L689.5 1919.2L689.4 1919.3L689.5 1919.2L689.9 1918.8L690.4 1918.2L691 1917.5L691.6 1916.7L708.3 1895.5L709 1894.7L709.5 1894L710 1893.4L710.2 1893L710.3 1892.9L710.2 1893L709.9 1893.4L709.4 1894L708.9 1894.7L708.2 1895.5Z"/>
<path d="M691.9 1916.7L691 1917.9L690.2 1919L689.6 1919.9L689.4 1920.4L689.4 1920.6L689.7 1920.4L690.3 1919.9L691.1 1919L692 1917.9L693 1916.7L709.1 1895.5L710 1894.3L710.8 1893.2L711.4 1892.3L711.8 1891.8L711.8 1891.6L711.6 1891.8L711.1 1892.3L710.4 1893.2L709.5 1894.3L708.5 1895.5Z"/>
<path d="M692.1 1916.7L691.5 1917.5L690.9 1918.2L690.6 1918.8L690.4 1919.2L690.4 1919.3L690.6 1919.2L691 1918.8L691.5 1918.2L692.1 1917.5L692.8 1916.7L709 1895.5L709.6 1894.7L710.1 1894L710.5 1893.4L710.8 1893L710.8 1892.9L710.7 1893L710.3 1893.4L709.8 1894L709.2 1894.7L708.6 1895.5Z"/>
<path d="M693.5 1916.7L692.7 1917.9L691.9 1919L691.5 1919.9L691.3 1920.4L691.5 1920.6L691.9 1920.4L692.6 1919.9L693.4 1919L694.4 1917.9L695.3 1916.7L710.6 1895.5L711.4 1894.3L712.1 1893.2L712.6 1892.3L712.9 1891.8L712.9 1891.6L712.6 1891.8L712 1892.3L711.3 1893.2L710.4 1894.3L709.5 1895.5Z"/>
<path d="M693.8 1916.7L693.2 1917.5L692.7 1918.2L692.4 1918.8L692.3 1919.2L692.4 1919.3L692.7 1919.2L693.1 1918.8L693.7 1918.2L694.3 1917.5L694.9 1916.7L710.4 1895.5L710.9 1894.7L711.4 1894L711.7 1893.4L711.9 1893L711.9 1892.9L711.7 1893L711.3 1893.4L710.8 1894L710.3 1894.7L709.6 1895.5Z"/>
<path d="M696.1 1916.7L695.3 1917.9L694.7 1919L694.4 1919.9L694.4 1920.4L694.6 1920.6L695.2 1920.4L695.9 1919.9L696.8 1919L697.7 1917.9L698.6 1916.7L712.7 1895.5L713.5 1894.3L714.1 1893.2L714.5 1892.3L714.6 1891.8L714.5 1891.6L714.2 1891.8L713.6 1892.3L712.9 1893.2L712 1894.3L711.1 1895.5Z"/>
<path d="M696.5 1916.7L696 1917.5L695.6 1918.2L695.4 1918.8L695.3 1919.2L695.5 1919.3L695.9 1919.2L696.4 1918.8L697 1918.2L697.6 1917.5L698.2 1916.7L712.4 1895.5L712.9 1894.7L713.3 1894L713.6 1893.4L713.7 1893L713.6 1892.9L713.4 1893L713 1893.4L712.5 1894L711.9 1894.7L711.3 1895.5Z"/>
<path d="M699.7 1916.7L699 1917.9L698.6 1919L698.3 1919.9L698.4 1920.4L698.8 1920.6L699.5 1920.4L700.3 1919.9L701.2 1919L702.1 1917.9L702.9 1916.7L715.6 1895.5L716.3 1894.3L716.8 1893.2L717.1 1892.3L717.1 1891.8L716.9 1891.6L716.5 1891.8L715.9 1892.3L715.1 1893.2L714.3 1894.3L713.5 1895.5Z"/>
<path d="M700.2 1916.7L699.8 1917.5L699.5 1918.2L699.3 1918.8L699.4 1919.2L699.7 1919.3L700.1 1919.2L700.6 1918.8L701.2 1918.2L701.8 1917.5L702.4 1916.7L715.2 1895.5L715.7 1894.7L716 1894L716.2 1893.4L716.2 1893L716.1 1892.9L715.8 1893L715.4 1893.4L714.9 1894L714.3 1894.7L713.8 1895.5Z"/>
<path d="M704.3 1916.7L703.7 1917.9L703.4 1919L703.3 1919.9L703.6 1920.4L704.1 1920.6L704.8 1920.4L705.7 1919.9L706.6 1919L707.5 1917.9L708.2 1916.7L719.4 1895.5L720 1894.3L720.3 1893.2L720.5 1892.3L720.4 1891.8L720.1 1891.6L719.6 1891.8L719 1892.3L718.2 1893.2L717.4 1894.3L716.6 1895.5Z"/>
<path d="M705 1916.7L704.6 1917.5L704.3 1918.2L704.3 1918.8L704.4 1919.2L704.8 1919.3L705.3 1919.2L705.9 1918.8L706.5 1918.2L707 1917.5L707.5 1916.7L718.9 1895.5L719.3 1894.7L719.5 1894L719.7 1893.4L719.6 1893L719.4 1892.9L719.1 1893L718.6 1893.4L718.1 1894L717.6 1894.7L717.1 1895.5Z"/>
<path d="M709.9 1916.7L709.4 1917.9L709.2 1919L709.2 1919.9L709.6 1920.4L710.2 1920.6L711.1 1920.4L712 1919.9L712.9 1919L713.8 1917.9L714.4 1916.7L724.1 1895.5L724.5 1894.3L724.8 1893.2L724.8 1892.3L724.6 1891.8L724.2 1891.6L723.6 1891.8L722.9 1892.3L722.1 1893.2L721.3 1894.3L720.6 1895.5Z"/>
<path d="M710.6 1916.7L710.3 1917.5L710.2 1918.2L710.2 1918.8L710.4 1919.2L710.9 1919.3L711.4 1919.2L712 1918.8L712.6 1918.2L713.2 1917.5L713.6 1916.7L723.5 1895.5L723.8 1894.7L724 1894L724 1893.4L723.8 1893L723.5 1892.9L723.2 1893L722.7 1893.4L722.1 1894L721.6 1894.7L721.2 1895.5Z"/>
<path d="M716.4 1916.7L716 1917.9L715.9 1919L716.1 1919.9L716.6 1920.4L717.3 1920.6L718.2 1920.4L719.2 1919.9L720.1 1919L720.9 1917.9L721.5 1916.7L729.7 1895.5L730 1894.3L730.1 1893.2L730 1892.3L729.7 1891.8L729.2 1891.6L728.5 1891.8L727.7 1892.3L726.9 1893.2L726.2 1894.3L725.6 1895.5Z"/>
<path d="M717.2 1916.7L716.9 1917.5L716.9 1918.2L717 1918.8L717.3 1919.2L717.8 1919.3L718.4 1919.2L719.1 1918.8L719.7 1918.2L720.2 1917.5L720.6 1916.7L728.9 1895.5L729.2 1894.7L729.3 1894L729.2 1893.4L729 1893L728.6 1892.9L728.2 1893L727.6 1893.4L727.1 1894L726.6 1894.7L726.2 1895.5Z"/>
<path d="M723.7 1916.7L723.4 1917.9L723.4 1919L723.7 1919.9L724.3 1920.4L725.2 1920.6L726.2 1920.4L727.2 1919.9L728.1 1919L728.9 1917.9L729.4 1916.7L736.2 1895.5L736.4 1894.3L736.4 1893.2L736.2 1892.3L735.7 1891.8L735.1 1891.6L734.3 1891.8L733.5 1892.3L732.7 1893.2L732 1894.3L731.4 1895.5Z"/>
<path d="M724.6 1916.7L724.4 1917.5L724.4 1918.2L724.7 1918.8L725.1 1919.2L725.6 1919.3L726.3 1919.2L726.9 1918.8L727.6 1918.2L728.1 1917.5L728.4 1916.7L735.3 1895.5L735.5 1894.7L735.5 1894L735.4 1893.4L735.1 1893L734.6 1892.9L734.1 1893L733.6 1893.4L733 1894L732.5 1894.7L732.2 1895.5Z"/>
<path d="M731.8 1916.7L731.6 1917.9L731.7 1919L732.1 1919.9L732.8 1920.4L733.8 1920.6L734.8 1920.4L735.9 1919.9L736.8 1919L737.5 1917.9L738 1916.7L743.5 1895.5L743.7 1894.3L743.6 1893.2L743.2 1892.3L742.6 1891.8L741.9 1891.6L741 1891.8L740.2 1892.3L739.3 1893.2L738.7 1894.3L738.2 1895.5Z"/>
<path d="M732.8 1916.7L732.7 1917.5L732.8 1918.2L733 1918.8L733.5 1919.2L734.1 1919.3L734.8 1919.2L735.5 1918.8L736.1 1918.2L736.6 1917.5L737 1916.7L742.6 1895.5L742.7 1894.7L742.6 1894L742.4 1893.4L742 1893L741.5 1892.9L740.9 1893L740.4 1893.4L739.8 1894L739.4 1894.7L739 1895.5Z"/>
<path d="M740.6 1916.7L740.5 1917.9L740.7 1919L741.2 1919.9L742 1920.4L743 1920.6L744.1 1920.4L745.2 1919.9L746.1 1919L746.8 1917.9L747.3 1916.7L751.6 1895.5L751.7 1894.3L751.5 1893.2L751 1892.3L750.4 1891.8L749.5 1891.6L748.6 1891.8L747.7 1892.3L746.8 1893.2L746.2 1894.3L745.7 1895.5Z"/>
<path d="M741.7 1916.7L741.6 1917.5L741.7 1918.2L742.1 1918.8L742.6 1919.2L743.3 1919.3L744 1919.2L744.7 1918.8L745.4 1918.2L745.8 1917.5L746.1 1916.7L750.6 1895.5L750.7 1894.7L750.6 1894L750.2 1893.4L749.8 1893L749.2 1892.9L748.6 1893L748 1893.4L747.4 1894L747 1894.7L746.7 1895.5Z"/>
<path d="M750 1916.7L749.9 1917.9L750.2 1919L750.8 1919.9L751.7 1920.4L752.8 1920.6L753.9 1920.4L755 1919.9L756 1919L756.7 1917.9L757 1916.7L760.4 1895.5L760.4 1894.3L760.1 1893.2L759.5 1892.3L758.8 1891.8L757.8 1891.6L756.9 1891.8L755.9 1892.3L755.1 1893.2L754.4 1894.3L754.1 1895.5Z"/>
<path d="M751.2 1916.7L751.1 1917.5L751.3 1918.2L751.7 1918.8L752.3 1919.2L753 1919.3L753.8 1919.2L754.5 1918.8L755.1 1918.2L755.6 1917.5L755.8 1916.7L759.3 1895.5L759.3 1894.7L759.1 1894L758.8 1893.4L758.2 1893L757.6 1892.9L757 1893L756.3 1893.4L755.8 1894L755.3 1894.7L755.1 1895.5Z"/>
<path d="M759.9 1916.7L759.9 1917.9L760.3 1919L761 1919.9L761.9 1920.4L763 1920.6L764.2 1920.4L765.3 1919.9L766.2 1919L766.9 1917.9L767.2 1916.7L769.6 1895.5L769.6 1894.3L769.2 1893.2L768.6 1892.3L767.7 1891.8L766.7 1891.6L765.7 1891.8L764.7 1892.3L763.9 1893.2L763.3 1894.3L763 1895.5Z"/>
<path d="M761.1 1916.7L761.1 1917.5L761.4 1918.2L761.8 1918.8L762.5 1919.2L763.2 1919.3L764 1919.2L764.7 1918.8L765.3 1918.2L765.8 1917.5L766 1916.7L768.5 1895.5L768.5 1894.7L768.2 1894L767.8 1893.4L767.2 1893L766.6 1892.9L765.9 1893L765.2 1893.4L764.7 1894L764.3 1894.7L764 1895.5Z"/>
<path d="M770.2 1916.7L770.3 1917.9L770.7 1919L771.4 1919.9L772.4 1920.4L773.6 1920.6L774.8 1920.4L775.9 1919.9L776.8 1919L777.4 1917.9L777.7 1916.7L779.2 1895.5L779.1 1894.3L778.7 1893.2L778 1892.3L777.1 1891.8L776.1 1891.6L775 1891.8L774 1892.3L773.2 1893.2L772.6 1894.3L772.3 1895.5Z"/>
<path d="M771.4 1916.7L771.5 1917.5L771.8 1918.2L772.3 1918.8L772.9 1919.2L773.7 1919.3L774.5 1919.2L775.2 1918.8L775.8 1918.2L776.3 1917.5L776.4 1916.7L778 1895.5L778 1894.7L777.7 1894L777.2 1893.4L776.6 1893L775.9 1892.9L775.2 1893L774.6 1893.4L774 1894L773.6 1894.7L773.4 1895.5Z"/>
<path d="M780.7 1916.7L780.9 1917.9L781.3 1919L782.2 1919.9L783.2 1920.4L784.4 1920.6L785.6 1920.4L786.7 1919.9L787.6 1919L788.2 1917.9L788.4 1916.7L789 1895.5L788.8 1894.3L788.4 1893.2L787.6 1892.3L786.7 1891.8L785.6 1891.6L784.5 1891.8L783.6 1892.3L782.8 1893.2L782.2 1894.3L782 1895.5Z"/>
<path d="M782 1916.7L782.1 1917.5L782.4 1918.2L783 1918.8L783.7 1919.2L784.4 1919.3L785.2 1919.2L786 1918.8L786.6 1918.2L787 1917.5L787.1 1916.7L787.8 1895.5L787.7 1894.7L787.4 1894L786.9 1893.4L786.3 1893L785.6 1892.9L784.8 1893L784.2 1893.4L783.6 1894L783.3 1894.7L783.1 1895.5Z"/>
<path d="M791.5 1916.7L791.6 1917.9L792.2 1919L793 1919.9L794.1 1920.4L795.3 1920.6L796.5 1920.4L797.6 1919.9L798.4 1919L799 1917.9L799.1 1916.7L798.8 1895.5L798.6 1894.3L798.1 1893.2L797.3 1892.3L796.4 1891.8L795.3 1891.6L794.2 1891.8L793.3 1892.3L792.5 1893.2L792 1894.3L791.8 1895.5Z"/>
<path d="M792.7 1916.7L792.9 1917.5L793.2 1918.2L793.8 1918.8L794.5 1919.2L795.3 1919.3L796.1 1919.2L796.8 1918.8L797.4 1918.2L797.7 1917.5L797.9 1916.7L797.6 1895.5L797.5 1894.7L797.2 1894L796.7 1893.4L796 1893L795.3 1892.9L794.6 1893L793.9 1893.4L793.4 1894L793.1 1894.7L793 1895.5Z"/>
<path d="M802.2 1916.7L802.4 1917.9L803 1919L803.9 1919.9L805 1920.4L806.2 1920.6L807.4 1920.4L808.4 1919.9L809.3 1919L809.7 1917.9L809.9 1916.7L808.6 1895.5L808.4 1894.3L807.8 1893.2L807 1892.3L806.1 1891.8L805 1891.6L803.9 1891.8L803 1892.3L802.2 1893.2L801.8 1894.3L801.6 1895.5Z"/>
<path d="M803.5 1916.7L803.6 1917.5L804 1918.2L804.6 1918.8L805.4 1919.2L806.2 1919.3L806.9 1919.2L807.6 1918.8L808.2 1918.2L808.5 1917.5L808.6 1916.7L807.5 1895.5L807.3 1894.7L807 1894L806.4 1893.4L805.8 1893L805 1892.9L804.3 1893L803.7 1893.4L803.2 1894L802.9 1894.7L802.8 1895.5Z"/>
<path d="M812.9 1916.7L813.2 1917.9L813.8 1919L814.7 1919.9L815.8 1920.4L817 1920.6L818.2 1920.4L819.2 1919.9L819.9 1919L820.3 1917.9L820.4 1916.7L818.3 1895.5L818 1894.3L817.4 1893.2L816.6 1892.3L815.6 1891.8L814.5 1891.6L813.5 1891.8L812.6 1892.3L811.9 1893.2L811.5 1894.3L811.4 1895.5Z"/>
<path d="M814.2 1916.7L814.3 1917.5L814.8 1918.2L815.4 1918.8L816.1 1919.2L816.9 1919.3L817.7 1919.2L818.3 1918.8L818.8 1918.2L819.1 1917.5L819.2 1916.7L817.2 1895.5L817 1894.7L816.6 1894L816 1893.4L815.4 1893L814.7 1892.9L814 1893L813.4 1893.4L812.9 1894L812.6 1894.7L812.6 1895.5Z"/>
<path d="M823.4 1916.7L823.7 1917.9L824.4 1919L825.3 1919.9L826.4 1920.4L827.6 1920.6L828.7 1920.4L829.6 1919.9L830.3 1919L830.7 1917.9L830.7 1916.7L827.6 1895.5L827.3 1894.3L826.7 1893.2L825.9 1892.3L824.9 1891.8L823.9 1891.6L822.9 1891.8L822 1892.3L821.4 1893.2L821 1894.3L821 1895.5Z"/>
<path d="M824.6 1916.7L824.8 1917.5L825.3 1918.2L825.9 1918.8L826.6 1919.2L827.4 1919.3L828.1 1919.2L828.8 1918.8L829.2 1918.2L829.5 1917.5L829.5 1916.7L826.6 1895.5L826.3 1894.7L825.9 1894L825.4 1893.4L824.7 1893L824 1892.9L823.4 1893L822.8 1893.4L822.4 1894L822.1 1894.7L822.1 1895.5Z"/>
<path d="M833.6 1916.7L833.9 1917.9L834.6 1919L835.6 1919.9L836.7 1920.4L837.8 1920.6L838.9 1920.4L839.8 1919.9L840.4 1919L840.7 1917.9L840.6 1916.7L836.5 1895.5L836.2 1894.3L835.5 1893.2L834.7 1892.3L833.7 1891.8L832.8 1891.6L831.8 1891.8L831.1 1892.3L830.5 1893.2L830.2 1894.3L830.2 1895.5Z"/>
<path d="M834.8 1916.7L835 1917.5L835.5 1918.2L836.1 1918.8L836.8 1919.2L837.6 1919.3L838.3 1919.2L838.9 1918.8L839.3 1918.2L839.5 1917.5L839.4 1916.7L835.5 1895.5L835.3 1894.7L834.8 1894L834.3 1893.4L833.6 1893L833 1892.9L832.4 1893L831.8 1893.4L831.5 1894L831.3 1894.7L831.3 1895.5Z"/>
<path d="M843.3 1916.7L843.8 1917.9L844.5 1919L845.4 1919.9L846.5 1920.4L847.6 1920.6L848.6 1920.4L849.4 1919.9L849.9 1919L850.1 1917.9L850 1916.7L844.9 1895.5L844.4 1894.3L843.8 1893.2L842.9 1892.3L842 1891.8L841.1 1891.6L840.2 1891.8L839.6 1892.3L839.1 1893.2L838.9 1894.3L839 1895.5Z"/>
<path d="M844.5 1916.7L844.8 1917.5L845.2 1918.2L845.9 1918.8L846.6 1919.2L847.3 1919.3L848 1919.2L848.5 1918.8L848.9 1918.2L849 1917.5L848.9 1916.7L843.9 1895.5L843.6 1894.7L843.2 1894L842.6 1893.4L842 1893L841.4 1892.9L840.8 1893L840.4 1893.4L840 1894L839.9 1894.7L840 1895.5Z"/>
<path d="M852.6 1916.7L853.1 1917.9L853.8 1919L854.7 1919.9L855.8 1920.4L856.8 1920.6L857.8 1920.4L858.5 1919.9L858.9 1919L859 1917.9L858.8 1916.7L852.4 1895.5L851.9 1894.3L851.3 1893.2L850.4 1892.3L849.6 1891.8L848.7 1891.6L848 1891.8L847.4 1892.3L847 1893.2L846.9 1894.3L847.1 1895.5Z"/>
<path d="M853.6 1916.7L854 1917.5L854.5 1918.2L855.1 1918.8L855.8 1919.2L856.5 1919.3L857.1 1919.2L857.6 1918.8L857.8 1918.2L857.9 1917.5L857.8 1916.7L851.6 1895.5L851.2 1894.7L850.8 1894L850.2 1893.4L849.7 1893L849.1 1892.9L848.6 1893L848.2 1893.4L848 1894L847.9 1894.7L848 1895.5Z"/>
<path d="M861.2 1916.7L861.7 1917.9L862.5 1919L863.4 1919.9L864.4 1920.4L865.4 1920.6L866.3 1920.4L866.9 1919.9L867.2 1919L867.2 1917.9L866.9 1916.7L859.2 1895.5L858.6 1894.3L857.9 1893.2L857.1 1892.3L856.3 1891.8L855.5 1891.6L854.9 1891.8L854.4 1892.3L854.2 1893.2L854.2 1894.3L854.4 1895.5Z"/>
<path d="M862.2 1916.7L862.5 1917.5L863 1918.2L863.7 1918.8L864.3 1919.2L865 1919.3L865.5 1919.2L865.9 1918.8L866.2 1918.2L866.2 1917.5L866 1916.7L858.4 1895.5L858.1 1894.7L857.6 1894L857 1893.4L856.5 1893L856 1892.9L855.5 1893L855.2 1893.4L855.1 1894L855.1 1894.7L855.3 1895.5Z"/>
<path d="M869.1 1916.7L869.7 1917.9L870.5 1919L871.4 1919.9L872.4 1920.4L873.3 1920.6L874 1920.4L874.5 1919.9L874.7 1919L874.6 1917.9L874.2 1916.7L865 1895.5L864.4 1894.3L863.7 1893.2L862.9 1892.3L862.1 1891.8L861.4 1891.6L860.9 1891.8L860.6 1892.3L860.5 1893.2L860.6 1894.3L860.9 1895.5Z"/>
<path d="M870 1916.7L870.4 1917.5L870.9 1918.2L871.5 1918.8L872.2 1919.2L872.8 1919.3L873.3 1919.2L873.6 1918.8L873.7 1918.2L873.7 1917.5L873.4 1916.7L864.4 1895.5L864 1894.7L863.5 1894L863 1893.4L862.4 1893L862 1892.9L861.6 1893L861.4 1893.4L861.3 1894L861.4 1894.7L861.7 1895.5Z"/>
<path d="M876.2 1916.7L876.8 1917.9L877.7 1919L878.6 1919.9L879.5 1920.4L880.4 1920.6L881 1920.4L881.4 1919.9L881.4 1919L881.2 1917.9L880.7 1916.7L870 1895.5L869.3 1894.3L868.5 1893.2L867.7 1892.3L867 1891.8L866.4 1891.6L866 1891.8L865.8 1892.3L865.8 1893.2L866.1 1894.3L866.5 1895.5Z"/>
<path d="M877 1916.7L877.4 1917.5L878 1918.2L878.6 1918.8L879.2 1919.2L879.7 1919.3L880.2 1919.2L880.4 1918.8L880.4 1918.2L880.3 1917.5L880 1916.7L869.4 1895.5L869 1894.7L868.5 1894L867.9 1893.4L867.4 1893L867.1 1892.9L866.8 1893L866.6 1893.4L866.6 1894L866.8 1894.7L867.1 1895.5Z"/>
<path d="M882.4 1916.7L883.1 1917.9L884 1919L884.9 1919.9L885.8 1920.4L886.5 1920.6L887 1920.4L887.3 1919.9L887.2 1919L886.9 1917.9L886.3 1916.7L874 1895.5L873.2 1894.3L872.4 1893.2L871.6 1892.3L871 1891.8L870.5 1891.6L870.2 1891.8L870.1 1892.3L870.3 1893.2L870.6 1894.3L871.2 1895.5Z"/>
<path d="M883.1 1916.7L883.6 1917.5L884.1 1918.2L884.7 1918.8L885.3 1919.2L885.8 1919.3L886.2 1919.2L886.3 1918.8L886.3 1918.2L886 1917.5L885.6 1916.7L873.5 1895.5L873 1894.7L872.5 1894L872 1893.4L871.5 1893L871.2 1892.9L871 1893L870.9 1893.4L871.1 1894L871.3 1894.7L871.7 1895.5Z"/>
<path d="M887.7 1916.7L888.5 1917.9L889.4 1919L890.3 1919.9L891.1 1920.4L891.8 1920.6L892.2 1920.4L892.3 1919.9L892 1919L891.6 1917.9L890.9 1916.7L877.1 1895.5L876.3 1894.3L875.5 1893.2L874.7 1892.3L874.1 1891.8L873.7 1891.6L873.5 1891.8L873.5 1892.3L873.8 1893.2L874.3 1894.3L875 1895.5Z"/>
<path d="M888.2 1916.7L888.8 1917.5L889.4 1918.2L890 1918.8L890.5 1919.2L890.9 1919.3L891.2 1919.2L891.3 1918.8L891.1 1918.2L890.8 1917.5L890.4 1916.7L876.8 1895.5L876.3 1894.7L875.7 1894L875.2 1893.4L874.8 1893L874.5 1892.9L874.4 1893L874.4 1893.4L874.6 1894L874.9 1894.7L875.4 1895.5Z"/>
<path d="M892 1916.7L892.9 1917.9L893.8 1919L894.7 1919.9L895.4 1920.4L896 1920.6L896.2 1920.4L896.2 1919.9L895.9 1919L895.3 1917.9L894.5 1916.7L879.5 1895.5L878.6 1894.3L877.7 1893.2L877 1892.3L876.4 1891.8L876.1 1891.6L876 1891.8L876.1 1892.3L876.5 1893.2L877.1 1894.3L877.9 1895.5Z"/>
<path d="M892.4 1916.7L893 1917.5L893.6 1918.2L894.2 1918.8L894.7 1919.2L895.1 1919.3L895.3 1919.2L895.2 1918.8L895 1918.2L894.6 1917.5L894.1 1916.7L879.3 1895.5L878.7 1894.7L878.1 1894L877.6 1893.4L877.2 1893L877 1892.9L876.9 1893L877 1893.4L877.3 1894L877.7 1894.7L878.2 1895.5Z"/>
<path d="M895.3 1916.7L896.2 1917.9L897.2 1919L898 1919.9L898.7 1920.4L899.1 1920.6L899.3 1920.4L899.1 1919.9L898.7 1919L897.9 1917.9L897.1 1916.7L881.1 1895.5L880.2 1894.3L879.3 1893.2L878.6 1892.3L878 1891.8L877.7 1891.6L877.7 1891.8L878 1892.3L878.5 1893.2L879.2 1894.3L880 1895.5Z"/>
<path d="M895.7 1916.7L896.3 1917.5L896.9 1918.2L897.5 1918.8L897.9 1919.2L898.2 1919.3L898.3 1919.2L898.2 1918.8L897.9 1918.2L897.4 1917.5L896.8 1916.7L881 1895.5L880.3 1894.7L879.8 1894L879.3 1893.4L878.9 1893L878.7 1892.9L878.7 1893L878.9 1893.4L879.2 1894L879.7 1894.7L880.2 1895.5Z"/>
<path d="M897.6 1916.7L898.6 1917.9L899.5 1919L900.3 1919.9L900.9 1920.4L901.2 1920.6L901.2 1920.4L901 1919.9L900.4 1919L899.6 1917.9L898.7 1916.7L882.1 1895.5L881.1 1894.3L880.2 1893.2L879.5 1892.3L879 1891.8L878.8 1891.6L878.8 1891.8L879.2 1892.3L879.8 1893.2L880.6 1894.3L881.5 1895.5Z"/>
<path d="M897.8 1916.7L898.5 1917.5L899.1 1918.2L899.6 1918.8L900 1919.2L900.2 1919.3L900.2 1919.2L900 1918.8L899.7 1918.2L899.1 1917.5L898.5 1916.7L882 1895.5L881.4 1894.7L880.8 1894L880.3 1893.4L879.9 1893L879.8 1892.9L879.8 1893L880.1 1893.4L880.5 1894L881 1894.7L881.6 1895.5Z"/>
<path d="M898.9 1916.7L899.9 1917.9L900.8 1919L901.5 1919.9L902 1920.4L902.2 1920.6L902.1 1920.4L901.7 1919.9L901 1919L900.2 1917.9L899.2 1916.7L882.4 1895.5L881.4 1894.3L880.6 1893.2L879.9 1892.3L879.4 1891.8L879.3 1891.6L879.4 1891.8L879.8 1892.3L880.4 1893.2L881.3 1894.3L882.2 1895.5Z"/>
<path d="M899 1916.7L899.6 1917.5L900.2 1918.2L900.7 1918.8L901.1 1919.2L901.2 1919.3L901.1 1919.2L900.8 1918.8L900.4 1918.2L899.8 1917.5L899.2 1916.7L882.4 1895.5L881.7 1894.7L881.2 1894L880.7 1893.4L880.4 1893L880.3 1892.9L880.4 1893L880.6 1893.4L881.1 1894L881.6 1894.7L882.3 1895.5Z"/></g>
<g stroke="#8a8a8a" stroke-width="0.9"><line x1="692" y1="1916" x2="708.1" y2="1895.7"/>
<line x1="692.1" y1="1916" x2="708.2" y2="1895.7"/>
<line x1="692.8" y1="1916" x2="708.6" y2="1895.7"/>
<line x1="693.1" y1="1916" x2="708.8" y2="1895.7"/>
<line x1="694.6" y1="1916" x2="709.7" y2="1895.7"/>
<line x1="695.2" y1="1916" x2="710.1" y2="1895.7"/>
<line x1="697.4" y1="1916" x2="711.5" y2="1895.7"/>
<line x1="698.2" y1="1916" x2="712" y2="1895.7"/>
<line x1="701.2" y1="1916" x2="714" y2="1895.7"/>
<line x1="702.3" y1="1916" x2="714.8" y2="1895.7"/>
<line x1="706" y1="1916" x2="717.4" y2="1895.7"/>
<line x1="707.3" y1="1916" x2="718.4" y2="1895.7"/>
<line x1="711.7" y1="1916" x2="721.6" y2="1895.7"/>
<line x1="713.3" y1="1916" x2="722.8" y2="1895.7"/>
<line x1="719.2" y1="1916" x2="727.5" y2="1895.7"/>
<line x1="726.8" y1="1916" x2="733.7" y2="1895.7"/>
<line x1="735.1" y1="1916" x2="740.7" y2="1895.7"/>
<line x1="855.5" y1="1916" x2="849.9" y2="1895.7"/>
<line x1="863.8" y1="1916" x2="856.9" y2="1895.7"/>
<line x1="871.4" y1="1916" x2="863.1" y2="1895.7"/>
<line x1="877.3" y1="1916" x2="867.8" y2="1895.7"/>
<line x1="878.9" y1="1916" x2="869" y2="1895.7"/>
<line x1="883.3" y1="1916" x2="872.2" y2="1895.7"/>
<line x1="884.6" y1="1916" x2="873.2" y2="1895.7"/>
<line x1="888.3" y1="1916" x2="875.8" y2="1895.7"/>
<line x1="889.4" y1="1916" x2="876.6" y2="1895.7"/>
<line x1="892.4" y1="1916" x2="878.6" y2="1895.7"/>
<line x1="893.2" y1="1916" x2="879.1" y2="1895.7"/>
<line x1="895.4" y1="1916" x2="880.5" y2="1895.7"/>
<line x1="896" y1="1916" x2="880.9" y2="1895.7"/>
<line x1="897.5" y1="1916" x2="881.8" y2="1895.7"/>
<line x1="897.8" y1="1916" x2="882" y2="1895.7"/>
<line x1="898.5" y1="1916" x2="882.4" y2="1895.7"/>
<line x1="898.6" y1="1916" x2="882.5" y2="1895.7"/></g>
<path d="M702.7 1979.4C701.2 1977.1 695.5 1970.1 693.9 1965.4C692.3 1960.7 694.2 1955.1 693 1951C691.8 1946.9 689.4 1942.9 686.9 1940.8C684.4 1938.7 680.7 1937.6 678.1 1938.2C675.5 1938.8 673.2 1939.8 671.1 1944.3C669 1948.8 666.5 1959.8 665.8 1965.4C665.1 1971 665.4 1972.8 666.9 1978C668.4 1983.2 672.5 1992.5 674.6 1996.9C676.8 2001.3 678.8 1999.5 679.8 2004.6C680.8 2009.7 680.6 2023.8 680.7 2027.6L760 2060L880 2010L876.5 2000C876.5 1998.5 877.4 1994.8 876.8 1990.7C876.2 1986.6 873.2 1979 872.8 1975.4C872.4 1971.8 873.9 1972.9 874.3 1968.9C874.7 1964.9 875.5 1956.6 875.2 1951.3C874.9 1946 873.2 1941.7 872.5 1937.3C871.8 1932.9 872.2 1928.1 870.8 1925C869.3 1921.9 866.7 1919.8 863.8 1918.8C860.9 1917.8 856.4 1917.5 853.2 1918.8C850 1920.1 846.9 1923.3 844.4 1926.7C841.9 1930.1 839.6 1933.7 838.3 1939C837 1944.3 838.2 1949.8 836.5 1958.3C834.8 1966.8 829.2 1984.7 827.8 1990L834.4 1969.2L826.7 1990.7L811.4 2004L769.9 2008.6L736.1 2000L705.3 1983L696.1 1969.2Z" fill="#fff" stroke="none"/>
<path d="M702.7 1979.4C701.2 1977.1 695.5 1970.1 693.9 1965.4C692.3 1960.7 694.2 1955.1 693 1951C691.8 1946.9 689.4 1942.9 686.9 1940.8C684.4 1938.7 680.7 1937.6 678.1 1938.2C675.5 1938.8 673.2 1939.8 671.1 1944.3C669 1948.8 666.5 1959.8 665.8 1965.4C665.1 1971 665.4 1972.8 666.9 1978C668.4 1983.2 672.5 1992.5 674.6 1996.9C676.8 2001.3 678.8 1999.5 679.8 2004.6C680.8 2009.7 679.5 2021.5 680.7 2027.6C681.9 2033.7 683.8 2038.1 686.9 2041.4C690 2044.7 694.6 2045.8 699.2 2047.6C703.8 2049.4 710.4 2049.4 714.5 2052.2C718.6 2055 719.7 2061.2 723.8 2064.5C727.9 2067.8 733.5 2070.2 739.1 2072.2C744.7 2074.1 750.9 2073.4 757.6 2076.2C764.3 2079 771.9 2084.6 779.1 2089.1C786.3 2093.6 794.5 2098.8 800.6 2102.9C806.8 2107 813.4 2111.9 816 2113.7" stroke="#505050" stroke-width="1.5"/>
<path d="M836.5 1958.3C836.8 1955.1 837 1944.3 838.3 1939C839.6 1933.7 841.9 1930.1 844.4 1926.7C846.9 1923.3 850 1920.1 853.2 1918.8C856.4 1917.5 860.9 1917.8 863.8 1918.8C866.7 1919.8 869.3 1921.9 870.8 1925C872.2 1928.1 871.8 1932.9 872.5 1937.3C873.2 1941.7 874.9 1946 875.2 1951.3C875.5 1956.6 874.7 1964.9 874.3 1968.9C873.9 1972.9 872.4 1971.8 872.8 1975.4C873.2 1979 876.2 1986.6 876.8 1990.7C877.4 1994.8 874.4 1995.4 876.5 2000C878.6 2004.6 885.5 2011.2 889.7 2018.4C894 2025.6 899.2 2035.8 902 2043C904.8 2050.2 905.7 2055.8 906.6 2061.4C907.5 2067 906.3 2071.8 907.3 2076.8C908.3 2081.8 911.9 2089.1 912.8 2091.5" stroke="#505050" stroke-width="1.5"/>
<path d="M696.1 1969.2L705.3 1983L736.1 2000L769.9 2008.6L811.4 2004L826.7 1990.7L834.4 1969.2" stroke="#505050" stroke-width="1.4"/>
<path d="M679.8 2004.6C685.1 2007.7 703.7 2017.4 711.5 2023C719.3 2028.6 722.2 2034.3 726.8 2038.4C731.4 2042.5 734.5 2045.3 739.1 2047.6C743.7 2049.9 751.9 2051.4 754.5 2052.2" stroke="#505050" stroke-width="1.4"/>
<path d="M699.2 2021.5L711.5 2023" stroke="#5a5a5a" stroke-width="1"/>
<path d="M931.8 1934.2V1914.4H928.4L934 1904.8L939.8 1914.4H936.3V1934.2Z" fill="#403c3e" stroke="none"/>
<!-- ill7 -->
<path d="M151.5 2767.2C149.3 2766.6 141.8 2765.7 138.4 2763.5C134.9 2761.4 133.2 2758 130.8 2754.3C128.5 2750.5 125.9 2745.8 124.1 2741.1C122.4 2736.4 121 2730.7 120.4 2726C119.8 2721.3 119.9 2717.3 120.4 2712.9C120.9 2708.5 121.6 2704 123.3 2699.6C125 2695.2 129.6 2688.6 130.8 2686.4L170.4 2633.7L394.9 2633.7L434.5 2686.4C435.4 2688 438.5 2692.4 440.1 2695.9C441.7 2699.3 443.1 2703.1 443.9 2707.1C444.8 2711.2 445.5 2715.7 445.4 2720.4C445.2 2725.1 444.5 2730.1 443 2735.5C441.5 2740.8 439 2747.8 436.3 2752.5C433.6 2757.1 431.7 2761.1 426.9 2763.5C422.2 2766 411.2 2766.6 408.1 2767.2Z"/>
<line x1="138.4" y1="2763.5" x2="426.9" y2="2763.5"/>
<line x1="120.1" y1="2720.4" x2="445.4" y2="2720.4"/>
<path d="M275.7 2767.2Q282.7 2771.2 289.7 2767.2" stroke="#777"/>
<g fill="url(#mesh)" stroke="none"><path d="M213.6 2671.7L214.5 2671.7L218.6 2649.6L217.8 2649.6Z"/>
<path d="M225.6 2671.7L229 2671.7L232 2649.6L228.9 2649.6Z"/>
<path d="M238.6 2671.7L244.2 2671.7L246.3 2649.6L241 2649.6Z"/>
<path d="M252.4 2671.7L259.9 2671.7L261.1 2649.6L254.1 2649.6Z"/>
<path d="M267.1 2671.7L275.9 2671.7L276.3 2649.6L267.9 2649.6Z"/>
<path d="M282.8 2671.7L291.9 2671.7L291.4 2649.6L282.8 2649.6Z"/>
<path d="M298.9 2671.7L307 2671.7L305.7 2649.6L298 2649.6Z"/>
<path d="M314.7 2671.7L321.2 2671.7L319 2649.6L313 2649.6Z"/>
<path d="M330.2 2671.7L334.5 2671.7L331.5 2649.6L327.5 2649.6Z"/>
<path d="M345 2671.7L346.9 2671.7L343.1 2649.6L341.3 2649.6Z"/></g>
<g stroke-width="0.9"><path d="M135.7 2680.6L134.3 2682.6L133 2684.3L132 2685.7L131.4 2686.6L131.3 2686.9L131.6 2686.6L132.4 2685.7L133.6 2684.3L135 2682.6L136.4 2680.6L158.2 2650.9L159.7 2648.9L160.9 2647.2L161.9 2645.8L162.5 2644.9L162.6 2644.6L162.3 2644.9L161.6 2645.8L160.6 2647.2L159.3 2648.9L157.8 2650.9Z"/>
<path d="M135.8 2680.6L134.7 2682L133.8 2683.3L133.1 2684.3L132.6 2685L132.5 2685.2L132.8 2685L133.4 2684.3L134.2 2683.3L135.2 2682L136.3 2680.6L158.2 2650.9L159.2 2649.4L160.1 2648.2L160.8 2647.1L161.2 2646.5L161.4 2646.3L161.2 2646.5L160.6 2647.1L159.9 2648.2L158.9 2649.4L157.9 2650.9Z"/>
<path d="M136.8 2680.6L135.5 2682.6L134.3 2684.3L133.5 2685.7L133.1 2686.6L133.2 2686.9L133.8 2686.6L134.7 2685.7L136 2684.3L137.4 2682.6L138.8 2680.6L159.7 2650.9L161 2648.9L162.2 2647.2L163 2645.8L163.5 2644.9L163.5 2644.6L163.2 2644.9L162.4 2645.8L161.3 2647.2L159.9 2648.9L158.5 2650.9Z"/>
<path d="M137.1 2680.6L136.1 2682L135.2 2683.3L134.6 2684.3L134.3 2685L134.4 2685.2L134.8 2685L135.5 2684.3L136.4 2683.3L137.4 2682L138.5 2680.6L159.5 2650.9L160.5 2649.4L161.3 2648.2L161.9 2647.1L162.3 2646.5L162.3 2646.3L162 2646.5L161.5 2647.1L160.7 2648.2L159.7 2649.4L158.6 2650.9Z"/>
<path d="M139.7 2680.6L138.4 2682.6L137.4 2684.3L136.8 2685.7L136.6 2686.6L136.9 2686.9L137.7 2686.6L138.8 2685.7L140.1 2684.3L141.5 2682.6L142.9 2680.6L162.3 2650.9L163.5 2648.9L164.5 2647.2L165.2 2645.8L165.5 2644.9L165.4 2644.6L164.9 2644.9L164.1 2645.8L163 2647.2L161.6 2648.9L160.2 2650.9Z"/>
<path d="M140 2680.6L139.1 2682L138.4 2683.3L138 2684.3L137.8 2685L138.1 2685.2L138.6 2685L139.4 2684.3L140.4 2683.3L141.4 2682L142.4 2680.6L162 2650.9L162.9 2649.4L163.6 2648.2L164.1 2647.1L164.3 2646.5L164.3 2646.3L163.9 2646.5L163.3 2647.1L162.5 2648.2L161.5 2649.4L160.5 2650.9Z"/>
<path d="M144.2 2680.6L143 2682.6L142.2 2684.3L141.8 2685.7L141.9 2686.6L142.4 2686.9L143.4 2686.6L144.6 2685.7L146 2684.3L147.4 2682.6L148.6 2680.6L166.1 2650.9L167.2 2648.9L168 2647.2L168.5 2645.8L168.6 2644.9L168.4 2644.6L167.8 2644.9L166.9 2645.8L165.7 2647.2L164.4 2648.9L163.1 2650.9Z"/>
<path d="M144.7 2680.6L143.9 2682L143.3 2683.3L143 2684.3L143.1 2685L143.5 2685.2L144.1 2685L145 2684.3L146 2683.3L147 2682L148 2680.6L165.7 2650.9L166.5 2649.4L167.1 2648.2L167.4 2647.1L167.5 2646.5L167.4 2646.3L166.9 2646.5L166.2 2647.1L165.4 2648.2L164.4 2649.4L163.5 2650.9Z"/>
<path d="M150.3 2680.6L149.3 2682.6L148.7 2684.3L148.6 2685.7L148.9 2686.6L149.6 2686.9L150.7 2686.6L152.1 2685.7L153.5 2684.3L154.8 2682.6L156 2680.6L171.3 2650.9L172.2 2648.9L172.8 2647.2L173.1 2645.8L173 2644.9L172.6 2644.6L171.9 2644.9L170.9 2645.8L169.7 2647.2L168.5 2648.9L167.3 2650.9Z"/>
<path d="M151 2680.6L150.3 2682L149.9 2683.3L149.8 2684.3L150 2685L150.5 2685.2L151.3 2685L152.3 2684.3L153.3 2683.3L154.3 2682L155.2 2680.6L170.7 2650.9L171.4 2649.4L171.9 2648.2L172.1 2647.1L172 2646.5L171.7 2646.3L171.2 2646.5L170.4 2647.1L169.6 2648.2L168.6 2649.4L167.8 2650.9Z"/>
<path d="M158.1 2680.6L157.3 2682.6L156.9 2684.3L156.9 2685.7L157.5 2686.6L158.4 2686.9L159.7 2686.6L161.1 2685.7L162.6 2684.3L163.9 2682.6L164.9 2680.6L178 2650.9L178.7 2648.9L179.1 2647.2L179.2 2645.8L178.9 2644.9L178.2 2644.6L177.4 2644.9L176.3 2645.8L175.1 2647.2L173.9 2648.9L172.8 2650.9Z"/>
<path d="M158.9 2680.6L158.4 2682L158.1 2683.3L158.1 2684.3L158.5 2685L159.2 2685.2L160.1 2685L161.2 2684.3L162.2 2683.3L163.2 2682L163.9 2680.6L177.2 2650.9L177.8 2649.4L178.1 2648.2L178.1 2647.1L177.9 2646.5L177.5 2646.3L176.8 2646.5L176 2647.1L175.1 2648.2L174.3 2649.4L173.5 2650.9Z"/>
<path d="M167.4 2680.6L166.7 2682.6L166.5 2684.3L166.8 2685.7L167.6 2686.6L168.8 2686.9L170.2 2686.6L171.7 2685.7L173.2 2684.3L174.4 2682.6L175.3 2680.6L186.2 2650.9L186.7 2648.9L186.9 2647.2L186.7 2645.8L186.2 2644.9L185.4 2644.6L184.4 2644.9L183.2 2645.8L182 2647.2L180.8 2648.9L179.9 2650.9Z"/>
<path d="M168.4 2680.6L167.9 2682L167.8 2683.3L168 2684.3L168.6 2685L169.4 2685.2L170.5 2685L171.5 2684.3L172.6 2683.3L173.5 2682L174.2 2680.6L185.3 2650.9L185.7 2649.4L185.8 2648.2L185.7 2647.1L185.3 2646.5L184.7 2646.3L184 2646.5L183.1 2647.1L182.2 2648.2L181.4 2649.4L180.7 2650.9Z"/>
<path d="M178.1 2680.6L177.6 2682.6L177.7 2684.3L178.2 2685.7L179.1 2686.6L180.5 2686.9L182 2686.6L183.6 2685.7L185.1 2684.3L186.3 2682.6L187.1 2680.6L195.9 2650.9L196.3 2648.9L196.3 2647.2L195.9 2645.8L195.1 2644.9L194.1 2644.6L192.9 2644.9L191.6 2645.8L190.4 2647.2L189.3 2648.9L188.5 2650.9Z"/>
<path d="M179.3 2680.6L178.9 2682L179 2683.3L179.4 2684.3L180.1 2685L181 2685.2L182.1 2685L183.3 2684.3L184.4 2683.3L185.2 2682L185.8 2680.6L194.9 2650.9L195.2 2649.4L195.2 2648.2L194.9 2647.1L194.3 2646.5L193.6 2646.3L192.7 2646.5L191.7 2647.1L190.8 2648.2L190 2649.4L189.4 2650.9Z"/>
<path d="M190.2 2680.6L189.9 2682.6L190.1 2684.3L190.8 2685.7L191.9 2686.6L193.4 2686.9L195.1 2686.6L196.7 2685.7L198.2 2684.3L199.4 2682.6L200.1 2680.6L207.1 2650.9L207.3 2648.9L207.1 2647.2L206.5 2645.8L205.6 2644.9L204.4 2644.6L203 2644.9L201.6 2645.8L200.4 2647.2L199.3 2648.9L198.5 2650.9Z"/>
<path d="M191.5 2680.6L191.3 2682L191.4 2683.3L191.9 2684.3L192.8 2685L193.9 2685.2L195.1 2685L196.3 2684.3L197.3 2683.3L198.2 2682L198.7 2680.6L205.9 2650.9L206.1 2649.4L205.9 2648.2L205.5 2647.1L204.8 2646.5L203.9 2646.3L202.9 2646.5L201.9 2647.1L201 2648.2L200.2 2649.4L199.7 2650.9Z"/>
<path d="M203.5 2680.6L203.3 2682.6L203.6 2684.3L204.5 2685.7L205.8 2686.6L207.5 2686.9L209.2 2686.6L210.9 2685.7L212.4 2684.3L213.5 2682.6L214.1 2680.6L219.6 2650.9L219.7 2648.9L219.3 2647.2L218.5 2645.8L217.4 2644.9L216 2644.6L214.5 2644.9L213.1 2645.8L211.8 2647.2L210.7 2648.9L210.1 2650.9Z"/>
<path d="M204.9 2680.6L204.7 2682L205 2683.3L205.7 2684.3L206.6 2685L207.8 2685.2L209.1 2685L210.3 2684.3L211.4 2683.3L212.2 2682L212.7 2680.6L218.3 2650.9L218.3 2649.4L218.1 2648.2L217.5 2647.1L216.7 2646.5L215.7 2646.3L214.6 2646.5L213.5 2647.1L212.5 2648.2L211.8 2649.4L211.3 2650.9Z"/>
<line x1="205.7" y1="2676.7" x2="213.4" y2="2676.7"/>
<path d="M217.8 2680.6L217.7 2682.6L218.2 2684.3L219.2 2685.7L220.7 2686.6L222.4 2686.9L224.2 2686.6L226 2685.7L227.5 2684.3L228.5 2682.6L229.1 2680.6L233.1 2650.9L233.1 2648.9L232.6 2647.2L231.7 2645.8L230.4 2644.9L228.9 2644.6L227.3 2644.9L225.7 2645.8L224.4 2647.2L223.4 2648.9L222.8 2650.9Z"/>
<path d="M219.3 2680.6L219.2 2682L219.6 2683.3L220.3 2684.3L221.4 2685L222.7 2685.2L224 2685L225.3 2684.3L226.3 2683.3L227.1 2682L227.5 2680.6L231.7 2650.9L231.7 2649.4L231.4 2648.2L230.7 2647.1L229.7 2646.5L228.6 2646.3L227.4 2646.5L226.3 2647.1L225.3 2648.2L224.6 2649.4L224.2 2650.9Z"/>
<line x1="219.9" y1="2676.7" x2="228.1" y2="2676.7"/>
<path d="M232.9 2680.6L232.9 2682.6L233.6 2684.3L234.7 2685.7L236.3 2686.6L238.1 2686.9L240 2686.6L241.7 2685.7L243.2 2684.3L244.2 2682.6L244.7 2680.6L247.5 2650.9L247.4 2648.9L246.8 2647.2L245.7 2645.8L244.3 2644.9L242.7 2644.6L241 2644.9L239.4 2645.8L238.1 2647.2L237.1 2648.9L236.6 2650.9Z"/>
<path d="M234.5 2680.6L234.5 2682L235 2683.3L235.8 2684.3L236.9 2685L238.3 2685.2L239.6 2685L240.9 2684.3L242 2683.3L242.8 2682L243.1 2680.6L246 2650.9L245.9 2649.4L245.5 2648.2L244.7 2647.1L243.7 2646.5L242.5 2646.3L241.3 2646.5L240.1 2647.1L239.1 2648.2L238.4 2649.4L238.1 2650.9Z"/>
<line x1="234.9" y1="2676.7" x2="243.5" y2="2676.7"/>
<path d="M248.7 2680.6L248.8 2682.6L249.5 2684.3L250.8 2685.7L252.4 2686.6L254.3 2686.9L256.2 2686.6L258 2685.7L259.5 2684.3L260.4 2682.6L260.8 2680.6L262.4 2650.9L262.2 2648.9L261.5 2647.2L260.4 2645.8L258.9 2644.9L257.2 2644.6L255.4 2644.9L253.8 2645.8L252.5 2647.2L251.6 2648.9L251.1 2650.9Z"/>
<path d="M250.3 2680.6L250.4 2682L250.9 2683.3L251.8 2684.3L253 2685L254.4 2685.2L255.8 2685L257.1 2684.3L258.2 2683.3L258.9 2682L259.2 2680.6L260.9 2650.9L260.8 2649.4L260.2 2648.2L259.4 2647.1L258.3 2646.5L257.1 2646.3L255.8 2646.5L254.6 2647.1L253.6 2648.2L253 2649.4L252.6 2650.9Z"/>
<line x1="250.6" y1="2676.7" x2="259.4" y2="2676.7"/>
<path d="M264.9 2680.6L265.1 2682.6L265.9 2684.3L267.2 2685.7L268.9 2686.6L270.9 2686.9L272.8 2686.6L274.6 2685.7L276 2684.3L276.9 2682.6L277.2 2680.6L277.6 2650.9L277.4 2648.9L276.6 2647.2L275.4 2645.8L273.8 2644.9L272.1 2644.6L270.3 2644.9L268.7 2645.8L267.4 2647.2L266.5 2648.9L266.2 2650.9Z"/>
<path d="M266.5 2680.6L266.7 2682L267.3 2683.3L268.3 2684.3L269.5 2685L270.9 2685.2L272.3 2685L273.6 2684.3L274.6 2683.3L275.3 2682L275.6 2680.6L276.1 2650.9L275.9 2649.4L275.3 2648.2L274.4 2647.1L273.3 2646.5L272 2646.3L270.7 2646.5L269.5 2647.1L268.6 2648.2L268 2649.4L267.7 2650.9Z"/>
<line x1="266.7" y1="2676.7" x2="275.6" y2="2676.7"/>
<path d="M281.3 2680.6L281.6 2682.6L282.5 2684.3L283.9 2685.7L285.6 2686.6L287.6 2686.9L289.5 2686.6L291.2 2685.7L292.6 2684.3L293.4 2682.6L293.7 2680.6L292.9 2650.9L292.6 2648.9L291.7 2647.2L290.4 2645.8L288.8 2644.9L287.1 2644.6L285.3 2644.9L283.8 2645.8L282.5 2647.2L281.7 2648.9L281.4 2650.9Z"/>
<path d="M283 2680.6L283.2 2682L283.8 2683.3L284.9 2684.3L286.1 2685L287.6 2685.2L289 2685L290.2 2684.3L291.2 2683.3L291.8 2682L292 2680.6L291.4 2650.9L291.1 2649.4L290.5 2648.2L289.6 2647.1L288.4 2646.5L287.1 2646.3L285.8 2646.5L284.7 2647.1L283.7 2648.2L283.2 2649.4L283 2650.9Z"/>
<line x1="283" y1="2676.7" x2="291.9" y2="2676.7"/>
<path d="M297.7 2680.6L298.1 2682.6L299.1 2684.3L300.5 2685.7L302.3 2686.6L304.2 2686.9L306.1 2686.6L307.8 2685.7L309.1 2684.3L309.8 2682.6L310 2680.6L308 2650.9L307.6 2648.9L306.7 2647.2L305.4 2645.8L303.8 2644.9L302 2644.6L300.3 2644.9L298.8 2645.8L297.6 2647.2L296.9 2648.9L296.7 2650.9Z"/>
<path d="M299.4 2680.6L299.7 2682L300.4 2683.3L301.4 2684.3L302.7 2685L304.1 2685.2L305.5 2685L306.7 2684.3L307.7 2683.3L308.2 2682L308.4 2680.6L306.5 2650.9L306.2 2649.4L305.6 2648.2L304.6 2647.1L303.4 2646.5L302.1 2646.3L300.9 2646.5L299.8 2647.1L298.9 2648.2L298.4 2649.4L298.2 2650.9Z"/>
<line x1="299.3" y1="2676.7" x2="308.1" y2="2676.7"/>
<path d="M314 2680.6L314.4 2682.6L315.4 2684.3L316.9 2685.7L318.7 2686.6L320.6 2686.9L322.5 2686.6L324.1 2685.7L325.2 2684.3L325.9 2682.6L326 2680.6L322.8 2650.9L322.3 2648.9L321.4 2647.2L320 2645.8L318.4 2644.9L316.7 2644.6L315.1 2644.9L313.6 2645.8L312.5 2647.2L311.9 2648.9L311.7 2650.9Z"/>
<path d="M315.6 2680.6L316 2682L316.7 2683.3L317.8 2684.3L319.1 2685L320.5 2685.2L321.8 2685L323 2684.3L323.8 2683.3L324.3 2682L324.4 2680.6L321.3 2650.9L321 2649.4L320.3 2648.2L319.3 2647.1L318.1 2646.5L316.9 2646.3L315.7 2646.5L314.6 2647.1L313.8 2648.2L313.3 2649.4L313.2 2650.9Z"/>
<line x1="315.3" y1="2676.7" x2="324" y2="2676.7"/>
<path d="M329.9 2680.6L330.4 2682.6L331.4 2684.3L332.9 2685.7L334.7 2686.6L336.5 2686.9L338.3 2686.6L339.8 2685.7L340.9 2684.3L341.4 2682.6L341.4 2680.6L336.9 2650.9L336.4 2648.9L335.4 2647.2L334.1 2645.8L332.5 2644.9L330.9 2644.6L329.3 2644.9L327.9 2645.8L326.9 2647.2L326.4 2648.9L326.4 2650.9Z"/>
<path d="M331.4 2680.6L331.8 2682L332.6 2683.3L333.7 2684.3L335 2685L336.3 2685.2L337.6 2685L338.7 2684.3L339.5 2683.3L339.9 2682L339.9 2680.6L335.5 2650.9L335.1 2649.4L334.4 2648.2L333.4 2647.1L332.3 2646.5L331.1 2646.3L329.9 2646.5L329 2647.1L328.2 2648.2L327.8 2649.4L327.8 2650.9Z"/>
<line x1="331" y1="2676.7" x2="339.3" y2="2676.7"/>
<path d="M345.1 2680.6L345.7 2682.6L346.8 2684.3L348.3 2685.7L350 2686.6L351.8 2686.9L353.5 2686.6L354.9 2685.7L355.8 2684.3L356.2 2682.6L356.1 2680.6L350.1 2650.9L349.5 2648.9L348.5 2647.2L347.2 2645.8L345.7 2644.9L344.2 2644.6L342.7 2644.9L341.5 2645.8L340.6 2647.2L340.2 2648.9L340.3 2650.9Z"/>
<path d="M346.6 2680.6L347.1 2682L347.9 2683.3L348.9 2684.3L350.2 2685L351.5 2685.2L352.7 2685L353.7 2684.3L354.4 2683.3L354.7 2682L354.6 2680.6L348.9 2650.9L348.4 2649.4L347.7 2648.2L346.7 2647.1L345.6 2646.5L344.5 2646.3L343.4 2646.5L342.5 2647.1L341.9 2648.2L341.6 2649.4L341.7 2650.9Z"/>
<line x1="346" y1="2676.7" x2="353.9" y2="2676.7"/>
<path d="M359.6 2680.6L360.3 2682.6L361.4 2684.3L362.9 2685.7L364.5 2686.6L366.2 2686.9L367.8 2686.6L369 2685.7L369.8 2684.3L370.1 2682.6L369.8 2680.6L362.2 2650.9L361.5 2648.9L360.5 2647.2L359.2 2645.8L357.8 2644.9L356.3 2644.6L355.1 2644.9L354 2645.8L353.3 2647.2L353.1 2648.9L353.2 2650.9Z"/>
<path d="M361 2680.6L361.5 2682L362.3 2683.3L363.4 2684.3L364.6 2685L365.8 2685.2L367 2685L367.9 2684.3L368.4 2683.3L368.6 2682L368.5 2680.6L361 2650.9L360.5 2649.4L359.8 2648.2L358.8 2647.1L357.8 2646.5L356.7 2646.3L355.8 2646.5L355 2647.1L354.5 2648.2L354.3 2649.4L354.5 2650.9Z"/>
<path d="M373 2680.6L373.8 2682.6L375 2684.3L376.5 2685.7L378.1 2686.6L379.7 2686.9L381.1 2686.6L382.1 2685.7L382.7 2684.3L382.8 2682.6L382.4 2680.6L372.9 2650.9L372.1 2648.9L371 2647.2L369.8 2645.8L368.5 2644.9L367.2 2644.6L366.1 2644.9L365.3 2645.8L364.8 2647.2L364.7 2648.9L365 2650.9Z"/>
<path d="M374.3 2680.6L374.9 2682L375.8 2683.3L376.8 2684.3L378 2685L379.2 2685.2L380.2 2685L380.9 2684.3L381.4 2683.3L381.5 2682L381.2 2680.6L371.9 2650.9L371.3 2649.4L370.5 2648.2L369.6 2647.1L368.6 2646.5L367.7 2646.3L366.9 2646.5L366.3 2647.1L365.9 2648.2L365.9 2649.4L366.1 2650.9Z"/>
<path d="M385.3 2680.6L386.2 2682.6L387.4 2684.3L388.9 2685.7L390.4 2686.6L391.9 2686.9L393.1 2686.6L394 2685.7L394.4 2684.3L394.3 2682.6L393.7 2680.6L382.1 2650.9L381.2 2648.9L380.1 2647.2L378.9 2645.8L377.7 2644.9L376.6 2644.6L375.7 2644.9L375 2645.8L374.8 2647.2L374.9 2648.9L375.3 2650.9Z"/>
<path d="M386.5 2680.6L387.2 2682L388.1 2683.3L389.1 2684.3L390.2 2685L391.3 2685.2L392.2 2685L392.8 2684.3L393.1 2683.3L393 2682L392.6 2680.6L381.3 2650.9L380.6 2649.4L379.8 2648.2L378.9 2647.1L378 2646.5L377.2 2646.3L376.5 2646.5L376.1 2647.1L375.9 2648.2L375.9 2649.4L376.3 2650.9Z"/>
<path d="M396.3 2680.6L397.3 2682.6L398.6 2684.3L400 2685.7L401.5 2686.6L402.8 2686.9L403.9 2686.6L404.5 2685.7L404.7 2684.3L404.4 2682.6L403.6 2680.6L389.8 2650.9L388.8 2648.9L387.6 2647.2L386.4 2645.8L385.3 2644.9L384.4 2644.6L383.7 2644.9L383.3 2645.8L383.2 2647.2L383.5 2648.9L384.2 2650.9Z"/>
<path d="M397.4 2680.6L398.1 2682L399 2683.3L400.1 2684.3L401.1 2685L402.1 2685.2L402.8 2685L403.3 2684.3L403.4 2683.3L403.2 2682L402.7 2680.6L389.1 2650.9L388.4 2649.4L387.5 2648.2L386.6 2647.1L385.8 2646.5L385.1 2646.3L384.6 2646.5L384.3 2647.1L384.3 2648.2L384.5 2649.4L385 2650.9Z"/>
<path d="M405.9 2680.6L407 2682.6L408.3 2684.3L409.7 2685.7L411.1 2686.6L412.3 2686.9L413.1 2686.6L413.5 2685.7L413.5 2684.3L413 2682.6L412 2680.6L396 2650.9L394.8 2648.9L393.6 2647.2L392.4 2645.8L391.4 2644.9L390.6 2644.6L390.1 2644.9L390 2645.8L390.1 2647.2L390.7 2648.9L391.5 2650.9Z"/>
<path d="M406.7 2680.6L407.6 2682L408.5 2683.3L409.6 2684.3L410.6 2685L411.4 2685.2L412 2685L412.3 2684.3L412.3 2683.3L411.9 2682L411.3 2680.6L395.4 2650.9L394.6 2649.4L393.7 2648.2L392.8 2647.1L392.1 2646.5L391.5 2646.3L391.1 2646.5L391 2647.1L391.1 2648.2L391.5 2649.4L392.1 2650.9Z"/>
<path d="M413.9 2680.6L415.1 2682.6L416.5 2684.3L417.9 2685.7L419.2 2686.6L420.2 2686.9L420.8 2686.6L421 2685.7L420.7 2684.3L419.9 2682.6L418.9 2680.6L400.7 2650.9L399.4 2648.9L398.2 2647.2L397 2645.8L396 2644.9L395.4 2644.6L395.1 2644.9L395.1 2645.8L395.5 2647.2L396.3 2648.9L397.3 2650.9Z"/>
<path d="M414.6 2680.6L415.5 2682L416.5 2683.3L417.5 2684.3L418.5 2685L419.2 2685.2L419.6 2685L419.8 2684.3L419.5 2683.3L419 2682L418.3 2680.6L400.3 2650.9L399.4 2649.4L398.4 2648.2L397.6 2647.1L396.9 2646.5L396.4 2646.3L396.2 2646.5L396.2 2647.1L396.5 2648.2L397 2649.4L397.8 2650.9Z"/>
<path d="M420.3 2680.6L421.6 2682.6L423 2684.3L424.4 2685.7L425.6 2686.6L426.4 2686.9L426.8 2686.6L426.7 2685.7L426.2 2684.3L425.3 2682.6L424.1 2680.6L404.1 2650.9L402.7 2648.9L401.4 2647.2L400.3 2645.8L399.4 2644.9L398.9 2644.6L398.7 2644.9L399 2645.8L399.6 2647.2L400.5 2648.9L401.7 2650.9Z"/>
<path d="M420.9 2680.6L421.8 2682L422.9 2683.3L423.9 2684.3L424.7 2685L425.3 2685.2L425.6 2685L425.5 2684.3L425.2 2683.3L424.5 2682L423.6 2680.6L403.8 2650.9L402.8 2649.4L401.9 2648.2L401 2647.1L400.4 2646.5L400 2646.3L399.9 2646.5L400 2647.1L400.5 2648.2L401.2 2649.4L402 2650.9Z"/>
<path d="M425.1 2680.6L426.5 2682.6L427.9 2684.3L429.2 2685.7L430.2 2686.6L430.9 2686.9L431.1 2686.6L430.8 2685.7L430 2684.3L428.9 2682.6L427.6 2680.6L406.3 2650.9L404.9 2648.9L403.5 2647.2L402.4 2645.8L401.6 2644.9L401.2 2644.6L401.2 2644.9L401.6 2645.8L402.4 2647.2L403.5 2648.9L404.7 2650.9Z"/>
<path d="M425.5 2680.6L426.5 2682L427.5 2683.3L428.5 2684.3L429.2 2685L429.7 2685.2L429.8 2685L429.6 2684.3L429.1 2683.3L428.3 2682L427.3 2680.6L406.1 2650.9L405.1 2649.4L404.1 2648.2L403.3 2647.1L402.7 2646.5L402.4 2646.3L402.4 2646.5L402.7 2647.1L403.3 2648.2L404 2649.4L405 2650.9Z"/>
<path d="M428.2 2680.6L429.6 2682.6L431 2684.3L432.2 2685.7L433.1 2686.6L433.5 2686.9L433.5 2686.6L433 2685.7L432.1 2684.3L430.8 2682.6L429.4 2680.6L407.4 2650.9L406 2648.9L404.6 2647.2L403.6 2645.8L402.8 2644.9L402.5 2644.6L402.6 2644.9L403.2 2645.8L404.1 2647.2L405.3 2648.9L406.7 2650.9Z"/>
<path d="M428.4 2680.6L429.5 2682L430.5 2683.3L431.4 2684.3L432 2685L432.3 2685.2L432.3 2685L431.9 2684.3L431.2 2683.3L430.3 2682L429.3 2680.6L407.3 2650.9L406.3 2649.4L405.3 2648.2L404.5 2647.1L404 2646.5L403.7 2646.3L403.8 2646.5L404.2 2647.1L404.9 2648.2L405.8 2649.4L406.8 2650.9Z"/></g>
<g stroke="#8a8a8a" stroke-width="0.9"><line x1="136.2" y1="2680.1" x2="158.2" y2="2650.5"/>
<line x1="136.4" y1="2680.1" x2="158.3" y2="2650.5"/>
<line x1="137.7" y1="2680.1" x2="159.1" y2="2650.5"/>
<line x1="138.4" y1="2680.1" x2="159.5" y2="2650.5"/>
<line x1="140.9" y1="2680.1" x2="161.1" y2="2650.5"/>
<line x1="142.1" y1="2680.1" x2="161.8" y2="2650.5"/>
<line x1="145.8" y1="2680.1" x2="164.3" y2="2650.5"/>
<line x1="147.4" y1="2680.1" x2="165.3" y2="2650.5"/>
<line x1="152.3" y1="2680.1" x2="168.7" y2="2650.5"/>
<line x1="154.3" y1="2680.1" x2="170.1" y2="2650.5"/>
<line x1="160.4" y1="2680.1" x2="174.6" y2="2650.5"/>
<line x1="162.8" y1="2680.1" x2="176.4" y2="2650.5"/>
<line x1="171.4" y1="2680.1" x2="183.1" y2="2650.5"/>
<line x1="182.7" y1="2680.1" x2="192.2" y2="2650.5"/>
<line x1="195.2" y1="2680.1" x2="202.8" y2="2650.5"/>
<line x1="364.7" y1="2680.1" x2="357.7" y2="2650.5"/>
<line x1="377.7" y1="2680.1" x2="368.9" y2="2650.5"/>
<line x1="389.5" y1="2680.1" x2="378.7" y2="2650.5"/>
<line x1="398.6" y1="2680.1" x2="385.9" y2="2650.5"/>
<line x1="401.1" y1="2680.1" x2="387.9" y2="2650.5"/>
<line x1="407.7" y1="2680.1" x2="392.8" y2="2650.5"/>
<line x1="409.9" y1="2680.1" x2="394.4" y2="2650.5"/>
<line x1="415.3" y1="2680.1" x2="398.3" y2="2650.5"/>
<line x1="417.1" y1="2680.1" x2="399.5" y2="2650.5"/>
<line x1="421.3" y1="2680.1" x2="402.3" y2="2650.5"/>
<line x1="422.6" y1="2680.1" x2="403.1" y2="2650.5"/>
<line x1="425.7" y1="2680.1" x2="405.1" y2="2650.5"/>
<line x1="426.5" y1="2680.1" x2="405.6" y2="2650.5"/>
<line x1="428.3" y1="2680.1" x2="406.7" y2="2650.5"/>
<line x1="428.8" y1="2680.1" x2="407" y2="2650.5"/></g>
<path d="M242.3 2720.4A6.1 6.1 0 0 0 254.5 2720.4Z" fill="#111" stroke="none"/>
<path d="M246.1 2720.4V2716.4a2.3 2.3 0 0 1 4.6 0V2720.4Z" fill="#111" stroke="none"/>
<path d="M276.1 2720.4A6.1 6.1 0 0 1 288.3 2720.4Z" fill="#111" stroke="none"/>
<line x1="248.7" y1="2729.2" x2="248.7" y2="2799" stroke="#666"/>
<path d="M667.4 2767.2C665.2 2766.6 657.7 2765.7 654.3 2763.5C650.8 2761.4 649.1 2758 646.7 2754.3C644.4 2750.5 641.8 2745.8 640 2741.1C638.3 2736.4 636.9 2730.7 636.3 2726C635.7 2721.3 635.8 2717.3 636.3 2712.9C636.8 2708.5 637.5 2704 639.2 2699.6C640.9 2695.2 645.5 2688.6 646.7 2686.4L686.3 2633.7L910.8 2633.7L950.4 2686.4C951.3 2688 954.4 2692.4 956 2695.9C957.6 2699.3 959 2703.1 959.8 2707.1C960.7 2711.2 961.4 2715.7 961.3 2720.4C961.1 2725.1 960.4 2730.1 958.9 2735.5C957.4 2740.8 954.9 2747.8 952.2 2752.5C949.5 2757.1 947.6 2761.1 942.8 2763.5C938.1 2766 927.1 2766.6 924 2767.2Z"/>
<line x1="654.3" y1="2763.5" x2="942.8" y2="2763.5"/>
<line x1="636" y1="2720.4" x2="961.3" y2="2720.4"/>
<path d="M791.6 2767.2Q798.6 2771.2 805.6 2767.2" stroke="#777"/>
<g fill="url(#mesh)" stroke="none"><path d="M739.9 2671.7L742.9 2671.7L746.1 2649.6L743.3 2649.6Z"/>
<path d="M752.7 2671.7L758 2671.7L760.3 2649.6L755.3 2649.6Z"/>
<path d="M766.4 2671.7L773.7 2671.7L775 2649.6L768.2 2649.6Z"/>
<path d="M781 2671.7L789.7 2671.7L790.1 2649.6L781.9 2649.6Z"/>
<path d="M796.5 2671.7L805.7 2671.7L805.3 2649.6L796.6 2649.6Z"/>
<path d="M812.6 2671.7L820.9 2671.7L819.7 2649.6L811.9 2649.6Z"/>
<path d="M828.5 2671.7L835.2 2671.7L833.2 2649.6L826.9 2649.6Z"/>
<path d="M844.1 2671.7L848.7 2671.7L845.8 2649.6L841.5 2649.6Z"/>
<path d="M858.9 2671.7L861.2 2671.7L857.5 2649.6L855.4 2649.6Z"/></g>
<g stroke-width="0.9"><path d="M651.6 2680.6L650.1 2682.6L648.9 2684.3L647.8 2685.7L647.2 2686.6L647.1 2686.9L647.4 2686.6L648.2 2685.7L649.3 2684.3L650.7 2682.6L652.1 2680.6L674 2650.9L675.4 2648.9L676.7 2647.2L677.7 2645.8L678.3 2644.9L678.5 2644.6L678.2 2644.9L677.5 2645.8L676.5 2647.2L675.2 2648.9L673.7 2650.9Z"/>
<path d="M651.6 2680.6L650.6 2682L649.6 2683.3L648.9 2684.3L648.4 2685L648.3 2685.2L648.6 2685L649.1 2684.3L649.9 2683.3L650.9 2682L652 2680.6L674 2650.9L675 2649.4L675.9 2648.2L676.6 2647.1L677.1 2646.5L677.2 2646.3L677 2646.5L676.5 2647.1L675.7 2648.2L674.8 2649.4L673.7 2650.9Z"/>
<path d="M652.5 2680.6L651.1 2682.6L649.9 2684.3L649.1 2685.7L648.7 2686.6L648.7 2686.9L649.3 2686.6L650.2 2685.7L651.5 2684.3L652.9 2682.6L654.3 2680.6L675.4 2650.9L676.7 2648.9L677.9 2647.2L678.7 2645.8L679.2 2644.9L679.3 2644.6L678.9 2644.9L678.1 2645.8L677 2647.2L675.7 2648.9L674.3 2650.9Z"/>
<path d="M652.7 2680.6L651.7 2682L650.8 2683.3L650.2 2684.3L649.9 2685L650 2685.2L650.3 2685L651 2684.3L651.9 2683.3L652.9 2682L654 2680.6L675.2 2650.9L676.2 2649.4L677 2648.2L677.6 2647.1L678 2646.5L678 2646.3L677.8 2646.5L677.2 2647.1L676.4 2648.2L675.4 2649.4L674.4 2650.9Z"/>
<path d="M655.1 2680.6L653.8 2682.6L652.8 2684.3L652.1 2685.7L651.9 2686.6L652.2 2686.9L653 2686.6L654 2685.7L655.4 2684.3L656.8 2682.6L658.2 2680.6L677.8 2650.9L679 2648.9L680 2647.2L680.7 2645.8L681.1 2644.9L681 2644.6L680.6 2644.9L679.7 2645.8L678.6 2647.2L677.2 2648.9L675.9 2650.9Z"/>
<path d="M655.5 2680.6L654.5 2682L653.8 2683.3L653.3 2684.3L653.2 2685L653.4 2685.2L653.9 2685L654.7 2684.3L655.6 2683.3L656.7 2682L657.7 2680.6L677.5 2650.9L678.4 2649.4L679.1 2648.2L679.7 2647.1L679.9 2646.5L679.9 2646.3L679.5 2646.5L678.9 2647.1L678.1 2648.2L677.1 2649.4L676.1 2650.9Z"/>
<path d="M659.4 2680.6L658.2 2682.6L657.4 2684.3L656.9 2685.7L657 2686.6L657.5 2686.9L658.4 2686.6L659.6 2685.7L661 2684.3L662.4 2682.6L663.7 2680.6L681.4 2650.9L682.5 2648.9L683.4 2647.2L683.9 2645.8L684.1 2644.9L683.8 2644.6L683.3 2644.9L682.3 2645.8L681.2 2647.2L679.9 2648.9L678.6 2650.9Z"/>
<path d="M659.9 2680.6L659.1 2682L658.5 2683.3L658.2 2684.3L658.2 2685L658.5 2685.2L659.2 2685L660.1 2684.3L661.1 2683.3L662.1 2682L663 2680.6L681 2650.9L681.8 2649.4L682.4 2648.2L682.8 2647.1L682.9 2646.5L682.8 2646.3L682.3 2646.5L681.7 2647.1L680.8 2648.2L679.9 2649.4L678.9 2650.9Z"/>
<path d="M665.3 2680.6L664.3 2682.6L663.7 2684.3L663.5 2685.7L663.7 2686.6L664.5 2686.9L665.6 2686.6L666.9 2685.7L668.3 2684.3L669.7 2682.6L670.8 2680.6L686.5 2650.9L687.4 2648.9L688 2647.2L688.3 2645.8L688.3 2644.9L687.9 2644.6L687.2 2644.9L686.2 2645.8L685 2647.2L683.8 2648.9L682.6 2650.9Z"/>
<path d="M666 2680.6L665.3 2682L664.8 2683.3L664.7 2684.3L664.9 2685L665.4 2685.2L666.2 2685L667.1 2684.3L668.2 2683.3L669.2 2682L670 2680.6L685.9 2650.9L686.6 2649.4L687 2648.2L687.3 2647.1L687.2 2646.5L686.9 2646.3L686.4 2646.5L685.7 2647.1L684.8 2648.2L683.9 2649.4L683 2650.9Z"/>
<path d="M672.8 2680.6L672 2682.6L671.6 2684.3L671.6 2685.7L672.1 2686.6L673.1 2686.9L674.3 2686.6L675.7 2685.7L677.2 2684.3L678.5 2682.6L679.5 2680.6L692.9 2650.9L693.7 2648.9L694.1 2647.2L694.2 2645.8L693.9 2644.9L693.3 2644.6L692.5 2644.9L691.4 2645.8L690.2 2647.2L689 2648.9L687.9 2650.9Z"/>
<path d="M673.7 2680.6L673.1 2682L672.8 2683.3L672.8 2684.3L673.2 2685L673.9 2685.2L674.8 2685L675.8 2684.3L676.9 2683.3L677.8 2682L678.6 2680.6L692.2 2650.9L692.7 2649.4L693.1 2648.2L693.1 2647.1L692.9 2646.5L692.5 2646.3L691.9 2646.5L691.1 2647.1L690.2 2648.2L689.3 2649.4L688.5 2650.9Z"/>
<path d="M681.9 2680.6L681.3 2682.6L681.1 2684.3L681.3 2685.7L682.1 2686.6L683.2 2686.9L684.6 2686.6L686.1 2685.7L687.6 2684.3L688.8 2682.6L689.8 2680.6L700.9 2650.9L701.5 2648.9L701.7 2647.2L701.5 2645.8L701 2644.9L700.3 2644.6L699.2 2644.9L698.1 2645.8L696.9 2647.2L695.7 2648.9L694.7 2650.9Z"/>
<path d="M682.9 2680.6L682.5 2682L682.3 2683.3L682.5 2684.3L683.1 2685L683.9 2685.2L684.9 2685L686 2684.3L687 2683.3L688 2682L688.7 2680.6L700 2650.9L700.5 2649.4L700.6 2648.2L700.5 2647.1L700.2 2646.5L699.6 2646.3L698.8 2646.5L698 2647.1L697.1 2648.2L696.2 2649.4L695.5 2650.9Z"/>
<path d="M692.5 2680.6L692 2682.6L692 2684.3L692.5 2685.7L693.4 2686.6L694.7 2686.9L696.3 2686.6L697.8 2685.7L699.3 2684.3L700.5 2682.6L701.3 2680.6L710.4 2650.9L710.8 2648.9L710.9 2647.2L710.5 2645.8L709.7 2644.9L708.8 2644.6L707.6 2644.9L706.3 2645.8L705.1 2647.2L704 2648.9L703.1 2650.9Z"/>
<path d="M693.6 2680.6L693.3 2682L693.3 2683.3L693.7 2684.3L694.4 2685L695.3 2685.2L696.4 2685L697.6 2684.3L698.6 2683.3L699.5 2682L700.1 2680.6L709.4 2650.9L709.7 2649.4L709.7 2648.2L709.5 2647.1L708.9 2646.5L708.2 2646.3L707.3 2646.5L706.4 2647.1L705.5 2648.2L704.7 2649.4L704.1 2650.9Z"/>
<path d="M704.4 2680.6L704.1 2682.6L704.3 2684.3L704.9 2685.7L706.1 2686.6L707.5 2686.9L709.2 2686.6L710.8 2685.7L712.3 2684.3L713.5 2682.6L714.2 2680.6L721.4 2650.9L721.7 2648.9L721.5 2647.2L720.9 2645.8L720 2644.9L718.8 2644.6L717.5 2644.9L716.1 2645.8L714.8 2647.2L713.8 2648.9L713 2650.9Z"/>
<path d="M705.7 2680.6L705.5 2682L705.6 2683.3L706.1 2684.3L706.9 2685L708 2685.2L709.2 2685L710.4 2684.3L711.4 2683.3L712.3 2682L712.8 2680.6L720.3 2650.9L720.5 2649.4L720.3 2648.2L719.9 2647.1L719.2 2646.5L718.4 2646.3L717.4 2646.5L716.4 2647.1L715.4 2648.2L714.7 2649.4L714.1 2650.9Z"/>
<path d="M717.5 2680.6L717.3 2682.6L717.7 2684.3L718.5 2685.7L719.8 2686.6L721.4 2686.9L723.2 2686.6L724.9 2685.7L726.4 2684.3L727.5 2682.6L728.1 2680.6L733.7 2650.9L733.9 2648.9L733.5 2647.2L732.8 2645.8L731.6 2644.9L730.3 2644.6L728.8 2644.9L727.4 2645.8L726.1 2647.2L725 2648.9L724.4 2650.9Z"/>
<path d="M718.9 2680.6L718.8 2682L719 2683.3L719.7 2684.3L720.6 2685L721.8 2685.2L723.1 2685L724.3 2684.3L725.4 2683.3L726.2 2682L726.6 2680.6L732.4 2650.9L732.5 2649.4L732.3 2648.2L731.7 2647.1L730.9 2646.5L729.9 2646.3L728.8 2646.5L727.8 2647.1L726.8 2648.2L726.1 2649.4L725.6 2650.9Z"/>
<path d="M731.7 2680.6L731.6 2682.6L732.1 2684.3L733.1 2685.7L734.5 2686.6L736.3 2686.9L738.1 2686.6L739.8 2685.7L741.3 2684.3L742.4 2682.6L743 2680.6L747.2 2650.9L747.2 2648.9L746.7 2647.2L745.8 2645.8L744.5 2644.9L743 2644.6L741.4 2644.9L739.9 2645.8L738.6 2647.2L737.6 2648.9L737 2650.9Z"/>
<path d="M733.2 2680.6L733.1 2682L733.5 2683.3L734.2 2684.3L735.3 2685L736.5 2685.2L737.9 2685L739.1 2684.3L740.2 2683.3L741 2682L741.4 2680.6L745.8 2650.9L745.8 2649.4L745.4 2648.2L744.8 2647.1L743.8 2646.5L742.7 2646.3L741.6 2646.5L740.4 2647.1L739.5 2648.2L738.7 2649.4L738.3 2650.9Z"/>
<line x1="733.9" y1="2676.7" x2="742" y2="2676.7"/>
<path d="M746.7 2680.6L746.8 2682.6L747.4 2684.3L748.5 2685.7L750 2686.6L751.9 2686.9L753.7 2686.6L755.5 2685.7L757 2684.3L758 2682.6L758.5 2680.6L761.4 2650.9L761.4 2648.9L760.8 2647.2L759.7 2645.8L758.3 2644.9L756.7 2644.6L755 2644.9L753.5 2645.8L752.1 2647.2L751.1 2648.9L750.6 2650.9Z"/>
<path d="M748.3 2680.6L748.3 2682L748.8 2683.3L749.6 2684.3L750.7 2685L752.1 2685.2L753.4 2685L754.7 2684.3L755.8 2683.3L756.5 2682L756.9 2680.6L760 2650.9L759.9 2649.4L759.5 2648.2L758.7 2647.1L757.7 2646.5L756.5 2646.3L755.3 2646.5L754.1 2647.1L753.1 2648.2L752.4 2649.4L752.1 2650.9Z"/>
<line x1="748.8" y1="2676.7" x2="757.3" y2="2676.7"/>
<path d="M762.4 2680.6L762.6 2682.6L763.3 2684.3L764.5 2685.7L766.1 2686.6L768 2686.9L769.9 2686.6L771.7 2685.7L773.2 2684.3L774.2 2682.6L774.6 2680.6L776.3 2650.9L776.1 2648.9L775.5 2647.2L774.3 2645.8L772.8 2644.9L771.1 2644.6L769.4 2644.9L767.8 2645.8L766.4 2647.2L765.5 2648.9L765.1 2650.9Z"/>
<path d="M764.1 2680.6L764.2 2682L764.7 2683.3L765.6 2684.3L766.8 2685L768.1 2685.2L769.5 2685L770.8 2684.3L771.9 2683.3L772.6 2682L772.9 2680.6L774.8 2650.9L774.7 2649.4L774.2 2648.2L773.3 2647.1L772.2 2646.5L771 2646.3L769.7 2646.5L768.6 2647.1L767.6 2648.2L766.9 2649.4L766.6 2650.9Z"/>
<line x1="764.4" y1="2676.7" x2="773.2" y2="2676.7"/>
<path d="M778.6 2680.6L778.8 2682.6L779.6 2684.3L780.9 2685.7L782.6 2686.6L784.5 2686.9L786.5 2686.6L788.3 2685.7L789.7 2684.3L790.6 2682.6L790.9 2680.6L791.5 2650.9L791.2 2648.9L790.5 2647.2L789.2 2645.8L787.7 2644.9L786 2644.6L784.2 2644.9L782.6 2645.8L781.3 2647.2L780.4 2648.9L780 2650.9Z"/>
<path d="M780.3 2680.6L780.4 2682L781 2683.3L782 2684.3L783.2 2685L784.6 2685.2L786 2685L787.3 2684.3L788.3 2683.3L789 2682L789.3 2680.6L789.9 2650.9L789.8 2649.4L789.2 2648.2L788.3 2647.1L787.2 2646.5L785.9 2646.3L784.6 2646.5L783.4 2647.1L782.5 2648.2L781.8 2649.4L781.6 2650.9Z"/>
<line x1="780.4" y1="2676.7" x2="789.4" y2="2676.7"/>
<path d="M795 2680.6L795.3 2682.6L796.2 2684.3L797.5 2685.7L799.3 2686.6L801.2 2686.9L803.2 2686.6L804.9 2685.7L806.3 2684.3L807.1 2682.6L807.4 2680.6L806.8 2650.9L806.5 2648.9L805.6 2647.2L804.3 2645.8L802.7 2644.9L801 2644.6L799.2 2644.9L797.6 2645.8L796.4 2647.2L795.6 2648.9L795.3 2650.9Z"/>
<path d="M796.7 2680.6L796.9 2682L797.5 2683.3L798.5 2684.3L799.8 2685L801.2 2685.2L802.6 2685L803.9 2684.3L804.9 2683.3L805.5 2682L805.7 2680.6L805.2 2650.9L805 2649.4L804.4 2648.2L803.4 2647.1L802.3 2646.5L801 2646.3L799.7 2646.5L798.6 2647.1L797.6 2648.2L797 2649.4L796.8 2650.9Z"/>
<line x1="796.7" y1="2676.7" x2="805.7" y2="2676.7"/>
<path d="M811.5 2680.6L811.8 2682.6L812.8 2684.3L814.2 2685.7L816 2686.6L817.9 2686.9L819.8 2686.6L821.5 2685.7L822.8 2684.3L823.6 2682.6L823.8 2680.6L821.9 2650.9L821.5 2648.9L820.6 2647.2L819.3 2645.8L817.7 2644.9L816 2644.6L814.2 2644.9L812.7 2645.8L811.5 2647.2L810.8 2648.9L810.5 2650.9Z"/>
<path d="M813.1 2680.6L813.4 2682L814.1 2683.3L815.1 2684.3L816.4 2685L817.8 2685.2L819.2 2685L820.5 2684.3L821.4 2683.3L822 2682L822.1 2680.6L820.4 2650.9L820.1 2649.4L819.5 2648.2L818.5 2647.1L817.3 2646.5L816 2646.3L814.8 2646.5L813.7 2647.1L812.8 2648.2L812.2 2649.4L812.1 2650.9Z"/>
<line x1="813" y1="2676.7" x2="821.9" y2="2676.7"/>
<path d="M827.8 2680.6L828.2 2682.6L829.2 2684.3L830.7 2685.7L832.4 2686.6L834.4 2686.9L836.2 2686.6L837.8 2685.7L839 2684.3L839.7 2682.6L839.8 2680.6L836.8 2650.9L836.3 2648.9L835.4 2647.2L834 2645.8L832.4 2644.9L830.7 2644.6L829 2644.9L827.6 2645.8L826.4 2647.2L825.8 2648.9L825.6 2650.9Z"/>
<path d="M829.4 2680.6L829.7 2682L830.4 2683.3L831.5 2684.3L832.8 2685L834.2 2685.2L835.6 2685L836.7 2684.3L837.6 2683.3L838.1 2682L838.2 2680.6L835.3 2650.9L835 2649.4L834.3 2648.2L833.3 2647.1L832.1 2646.5L830.8 2646.3L829.6 2646.5L828.6 2647.1L827.7 2648.2L827.3 2649.4L827.2 2650.9Z"/>
<line x1="829.1" y1="2676.7" x2="837.8" y2="2676.7"/>
<path d="M843.7 2680.6L844.2 2682.6L845.2 2684.3L846.7 2685.7L848.5 2686.6L850.4 2686.9L852.1 2686.6L853.6 2685.7L854.7 2684.3L855.3 2682.6L855.3 2680.6L851 2650.9L850.5 2648.9L849.5 2647.2L848.1 2645.8L846.6 2644.9L844.9 2644.6L843.3 2644.9L842 2645.8L841 2647.2L840.4 2648.9L840.4 2650.9Z"/>
<path d="M845.3 2680.6L845.7 2682L846.4 2683.3L847.5 2684.3L848.8 2685L850.1 2685.2L851.4 2685L852.5 2684.3L853.3 2683.3L853.8 2682L853.8 2680.6L849.6 2650.9L849.2 2649.4L848.5 2648.2L847.5 2647.1L846.4 2646.5L845.1 2646.3L844 2646.5L843 2647.1L842.2 2648.2L841.8 2649.4L841.8 2650.9Z"/>
<line x1="844.8" y1="2676.7" x2="853.2" y2="2676.7"/>
<path d="M859 2680.6L859.6 2682.6L860.7 2684.3L862.2 2685.7L863.9 2686.6L865.7 2686.9L867.4 2686.6L868.8 2685.7L869.8 2684.3L870.2 2682.6L870.1 2680.6L864.4 2650.9L863.7 2648.9L862.7 2647.2L861.4 2645.8L859.9 2644.9L858.3 2644.6L856.9 2644.9L855.7 2645.8L854.8 2647.2L854.3 2648.9L854.4 2650.9Z"/>
<path d="M860.6 2680.6L861 2682L861.8 2683.3L862.9 2684.3L864.1 2685L865.4 2685.2L866.6 2685L867.7 2684.3L868.4 2683.3L868.7 2682L868.6 2680.6L863 2650.9L862.6 2649.4L861.9 2648.2L860.9 2647.1L859.8 2646.5L858.6 2646.3L857.6 2646.5L856.7 2647.1L856 2648.2L855.7 2649.4L855.8 2650.9Z"/>
<line x1="859.9" y1="2676.7" x2="867.9" y2="2676.7"/>
<path d="M873.6 2680.6L874.3 2682.6L875.4 2684.3L876.9 2685.7L878.6 2686.6L880.3 2686.9L881.8 2686.6L883.1 2685.7L883.9 2684.3L884.2 2682.6L884 2680.6L876.6 2650.9L875.9 2648.9L874.8 2647.2L873.5 2645.8L872.1 2644.9L870.7 2644.6L869.4 2644.9L868.3 2645.8L867.6 2647.2L867.3 2648.9L867.5 2650.9Z"/>
<path d="M875 2680.6L875.5 2682L876.4 2683.3L877.4 2684.3L878.7 2685L879.9 2685.2L881 2685L881.9 2684.3L882.5 2683.3L882.8 2682L882.6 2680.6L875.4 2650.9L874.9 2649.4L874.1 2648.2L873.2 2647.1L872.1 2646.5L871.1 2646.3L870.1 2646.5L869.3 2647.1L868.8 2648.2L868.6 2649.4L868.8 2650.9Z"/>
<path d="M887.2 2680.6L888 2682.6L889.1 2684.3L890.6 2685.7L892.2 2686.6L893.8 2686.9L895.3 2686.6L896.3 2685.7L897 2684.3L897.1 2682.6L896.7 2680.6L887.5 2650.9L886.7 2648.9L885.6 2647.2L884.3 2645.8L883 2644.9L881.7 2644.6L880.6 2644.9L879.7 2645.8L879.2 2647.2L879.1 2648.9L879.4 2650.9Z"/>
<path d="M888.5 2680.6L889.1 2682L889.9 2683.3L891 2684.3L892.2 2685L893.4 2685.2L894.4 2685L895.2 2684.3L895.6 2683.3L895.7 2682L895.5 2680.6L886.4 2650.9L885.9 2649.4L885.1 2648.2L884.2 2647.1L883.2 2646.5L882.2 2646.3L881.4 2646.5L880.8 2647.1L880.4 2648.2L880.3 2649.4L880.5 2650.9Z"/>
<path d="M899.7 2680.6L900.5 2682.6L901.7 2684.3L903.2 2685.7L904.8 2686.6L906.3 2686.9L907.5 2686.6L908.4 2685.7L908.8 2684.3L908.7 2682.6L908.2 2680.6L896.9 2650.9L896 2648.9L894.9 2647.2L893.7 2645.8L892.4 2644.9L891.3 2644.6L890.4 2644.9L889.7 2645.8L889.4 2647.2L889.5 2648.9L889.9 2650.9Z"/>
<path d="M900.9 2680.6L901.5 2682L902.4 2683.3L903.5 2684.3L904.6 2685L905.7 2685.2L906.6 2685L907.2 2684.3L907.5 2683.3L907.5 2682L907.1 2680.6L896 2650.9L895.4 2649.4L894.5 2648.2L893.6 2647.1L892.7 2646.5L891.9 2646.3L891.2 2646.5L890.7 2647.1L890.5 2648.2L890.6 2649.4L890.9 2650.9Z"/>
<path d="M910.8 2680.6L911.8 2682.6L913.1 2684.3L914.5 2685.7L916 2686.6L917.4 2686.9L918.4 2686.6L919.1 2685.7L919.3 2684.3L919 2682.6L918.3 2680.6L904.8 2650.9L903.8 2648.9L902.6 2647.2L901.4 2645.8L900.3 2644.9L899.3 2644.6L898.6 2644.9L898.2 2645.8L898.1 2647.2L898.4 2648.9L899 2650.9Z"/>
<path d="M911.9 2680.6L912.6 2682L913.5 2683.3L914.6 2684.3L915.7 2685L916.6 2685.2L917.4 2685L917.9 2684.3L918 2683.3L917.9 2682L917.3 2680.6L904.1 2650.9L903.3 2649.4L902.5 2648.2L901.6 2647.1L900.8 2646.5L900 2646.3L899.5 2646.5L899.2 2647.1L899.1 2648.2L899.4 2649.4L899.8 2650.9Z"/>
<path d="M920.6 2680.6L921.7 2682.6L923 2684.3L924.4 2685.7L925.8 2686.6L927 2686.9L927.9 2686.6L928.3 2685.7L928.3 2684.3L927.8 2682.6L926.9 2680.6L911.1 2650.9L910 2648.9L908.8 2647.2L907.6 2645.8L906.6 2644.9L905.8 2644.6L905.2 2644.9L905.1 2645.8L905.2 2647.2L905.7 2648.9L906.5 2650.9Z"/>
<path d="M921.5 2680.6L922.3 2682L923.3 2683.3L924.3 2684.3L925.3 2685L926.2 2685.2L926.8 2685L927.1 2684.3L927.1 2683.3L926.7 2682L926.1 2680.6L910.6 2650.9L909.7 2649.4L908.9 2648.2L908 2647.1L907.2 2646.5L906.6 2646.3L906.2 2646.5L906.1 2647.1L906.2 2648.2L906.6 2649.4L907.2 2650.9Z"/>
<path d="M928.8 2680.6L930 2682.6L931.4 2684.3L932.8 2685.7L934.1 2686.6L935.1 2686.9L935.8 2686.6L936 2685.7L935.7 2684.3L935 2682.6L934 2680.6L916 2650.9L914.8 2648.9L913.5 2647.2L912.4 2645.8L911.4 2644.9L910.7 2644.6L910.4 2644.9L910.4 2645.8L910.8 2647.2L911.5 2648.9L912.5 2650.9Z"/>
<path d="M929.6 2680.6L930.4 2682L931.4 2683.3L932.5 2684.3L933.4 2685L934.1 2685.2L934.6 2685L934.8 2684.3L934.6 2683.3L934.1 2682L933.3 2680.6L915.6 2650.9L914.7 2649.4L913.8 2648.2L912.9 2647.1L912.2 2646.5L911.7 2646.3L911.5 2646.5L911.5 2647.1L911.8 2648.2L912.3 2649.4L913 2650.9Z"/>
<path d="M935.4 2680.6L936.8 2682.6L938.2 2684.3L939.5 2685.7L940.7 2686.6L941.6 2686.9L942 2686.6L942 2685.7L941.5 2684.3L940.6 2682.6L939.4 2680.6L919.6 2650.9L918.3 2648.9L917 2647.2L915.8 2645.8L914.9 2644.9L914.4 2644.6L914.2 2644.9L914.4 2645.8L915 2647.2L915.9 2648.9L917 2650.9Z"/>
<path d="M936 2680.6L937 2682L938 2683.3L939 2684.3L939.9 2685L940.5 2685.2L940.8 2685L940.8 2684.3L940.4 2683.3L939.8 2682L938.9 2680.6L919.3 2650.9L918.3 2649.4L917.4 2648.2L916.5 2647.1L915.9 2646.5L915.5 2646.3L915.3 2646.5L915.5 2647.1L915.9 2648.2L916.6 2649.4L917.4 2650.9Z"/>
<path d="M940.4 2680.6L941.8 2682.6L943.3 2684.3L944.6 2685.7L945.6 2686.6L946.3 2686.9L946.5 2686.6L946.2 2685.7L945.5 2684.3L944.4 2682.6L943.1 2680.6L922 2650.9L920.6 2648.9L919.2 2647.2L918.1 2645.8L917.3 2644.9L916.8 2644.6L916.8 2644.9L917.2 2645.8L918 2647.2L919 2648.9L920.3 2650.9Z"/>
<path d="M940.9 2680.6L941.9 2682L942.9 2683.3L943.9 2684.3L944.6 2685L945.1 2685.2L945.2 2685L945.1 2684.3L944.5 2683.3L943.8 2682L942.8 2680.6L921.8 2650.9L920.8 2649.4L919.8 2648.2L919 2647.1L918.3 2646.5L918 2646.3L918 2646.5L918.3 2647.1L918.9 2648.2L919.6 2649.4L920.6 2650.9Z"/>
<path d="M943.8 2680.6L945.2 2682.6L946.6 2684.3L947.8 2685.7L948.7 2686.6L949.2 2686.9L949.2 2686.6L948.7 2685.7L947.8 2684.3L946.6 2682.6L945.2 2680.6L923.2 2650.9L921.8 2648.9L920.4 2647.2L919.4 2645.8L918.6 2644.9L918.3 2644.6L918.4 2644.9L918.9 2645.8L919.8 2647.2L921 2648.9L922.4 2650.9Z"/>
<path d="M944 2680.6L945.1 2682L946.1 2683.3L947 2684.3L947.6 2685L947.9 2685.2L947.9 2685L947.6 2684.3L947 2683.3L946.1 2682L945 2680.6L923.1 2650.9L922.1 2649.4L921.1 2648.2L920.3 2647.1L919.8 2646.5L919.5 2646.3L919.6 2646.5L920 2647.1L920.6 2648.2L921.5 2649.4L922.5 2650.9Z"/></g>
<g stroke="#8a8a8a" stroke-width="0.9"><line x1="652" y1="2680.1" x2="674" y2="2650.5"/>
<line x1="652.2" y1="2680.1" x2="674.1" y2="2650.5"/>
<line x1="653.3" y1="2680.1" x2="674.8" y2="2650.5"/>
<line x1="653.9" y1="2680.1" x2="675.2" y2="2650.5"/>
<line x1="656.3" y1="2680.1" x2="676.7" y2="2650.5"/>
<line x1="657.4" y1="2680.1" x2="677.3" y2="2650.5"/>
<line x1="661" y1="2680.1" x2="679.7" y2="2650.5"/>
<line x1="662.5" y1="2680.1" x2="680.7" y2="2650.5"/>
<line x1="667.3" y1="2680.1" x2="683.9" y2="2650.5"/>
<line x1="669.2" y1="2680.1" x2="685.3" y2="2650.5"/>
<line x1="675.2" y1="2680.1" x2="689.6" y2="2650.5"/>
<line x1="677.5" y1="2680.1" x2="691.4" y2="2650.5"/>
<line x1="685.9" y1="2680.1" x2="697.9" y2="2650.5"/>
<line x1="697" y1="2680.1" x2="706.8" y2="2650.5"/>
<line x1="709.3" y1="2680.1" x2="717.2" y2="2650.5"/>
<line x1="722.8" y1="2680.1" x2="729" y2="2650.5"/>
<line x1="878.7" y1="2680.1" x2="872" y2="2650.5"/>
<line x1="891.9" y1="2680.1" x2="883.4" y2="2650.5"/>
<line x1="903.9" y1="2680.1" x2="893.4" y2="2650.5"/>
<line x1="914.5" y1="2680.1" x2="901.8" y2="2650.5"/>
<line x1="922.5" y1="2680.1" x2="907.9" y2="2650.5"/>
<line x1="924.7" y1="2680.1" x2="909.5" y2="2650.5"/>
<line x1="930.3" y1="2680.1" x2="913.5" y2="2650.5"/>
<line x1="932.1" y1="2680.1" x2="914.8" y2="2650.5"/>
<line x1="936.5" y1="2680.1" x2="917.7" y2="2650.5"/>
<line x1="937.9" y1="2680.1" x2="918.6" y2="2650.5"/>
<line x1="941.1" y1="2680.1" x2="920.7" y2="2650.5"/>
<line x1="942" y1="2680.1" x2="921.2" y2="2650.5"/>
<line x1="944" y1="2680.1" x2="922.5" y2="2650.5"/>
<line x1="944.5" y1="2680.1" x2="922.7" y2="2650.5"/></g>
<path d="M762.5 2720.4V2717a1.9 1.9 0 0 1 3.8 0V2720.4Z" fill="#111" stroke="none"/>
<circle cx="797.7" cy="2720.4" r="6.1" fill="#111" stroke="none"/>
<line x1="797.7" y1="2729" x2="797.7" y2="2797.7" stroke="#666"/>
</svg>
</body>
</html>
